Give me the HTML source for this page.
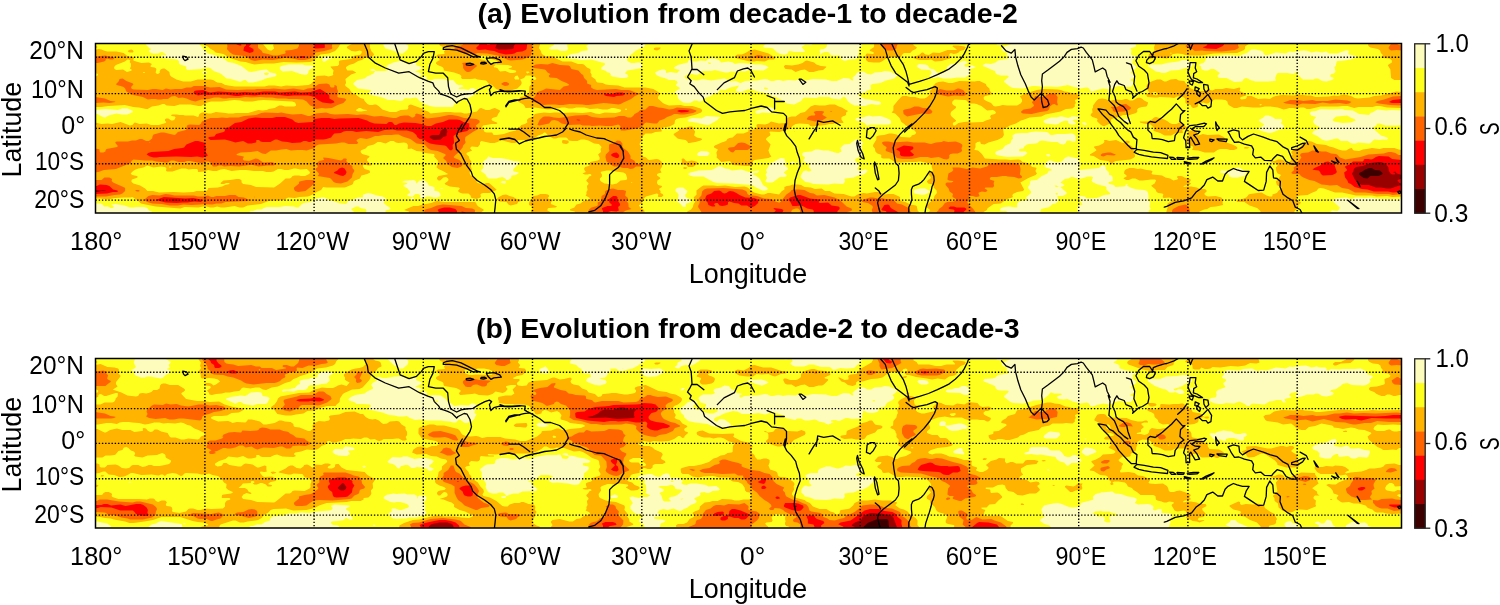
<!DOCTYPE html><html><head><meta charset="utf-8"><style>html,body{margin:0;padding:0;background:#fff;overflow:hidden}svg{display:block;will-change:transform}</style></head><body>
<svg width="1500" height="605" viewBox="0 0 1500 605">
<rect width="1500" height="605" fill="#fff"/>
<text transform="translate(477.55,23.30) scale(1.0342,1)" font-family="Liberation Sans" font-size="27.5" font-weight="bold">(a) Evolution from decade-1 to decade-2</text>
<text transform="translate(475.95,337.60) scale(1.0376,1)" font-family="Liberation Sans" font-size="27.5" font-weight="bold">(b) Evolution from decade-2 to decade-3</text>
<g transform="translate(0,0)">
<svg x="95.5" y="43.5" width="1306.0" height="169.5" viewBox="95.5 43.5 1306.0 169.5" overflow="hidden">
<rect x="95.5" y="43.5" width="1306.0" height="169.5" fill="#FFFF1E"/>
<rect x="95.5" y="43.5" width="1306.0" height="169.5" fill="#FEFCBC"/>
<path fill="#FFFF1E" fill-rule="evenodd" d="M351.1,208.9 354.4,212.6 354.4,213.4 365.6,213.4 366.4,211.1 366.4,209.9 365.6,209.1 360.4,207.9 358.4,206.4 356.1,206.4ZM410.6,198.4 412.4,197.4 413.1,197.6 414.1,199.1 413.1,199.9 411.6,199.9 410.6,199.1ZM1055.6,193.1 1055.9,194.6 1057.1,195.1 1057.9,193.4 1057.1,192.9ZM913.6,192.4 913.6,190.9 914.9,189.6 920.4,188.4 925.1,188.6 928.9,190.4 929.9,191.4 929.1,192.4 925.1,194.4 922.1,195.1 914.6,193.6ZM440.4,188.4 442.4,187.9 442.9,188.6 442.4,189.1 440.9,189.1ZM677.1,187.9 678.9,187.4 683.1,187.4 687.4,190.9 686.9,192.9 685.1,194.6 685.4,196.9 690.1,199.6 691.1,201.1 689.9,202.4 686.4,203.6 685.6,204.6 685.9,206.1 685.1,206.9 683.1,206.9 680.1,203.4 676.6,200.9 677.9,198.9 678.6,195.6 678.4,194.1 675.4,190.9 675.4,189.4ZM1054.6,185.4 1055.1,186.4 1056.4,186.9 1059.1,186.6 1056.4,185.4ZM500.6,181.9 502.6,181.1 505.4,181.1 505.9,182.6 505.1,183.4 501.4,182.9ZM402.6,181.9 403.6,181.1 413.9,180.1 416.1,181.4 416.1,183.1 416.6,183.4 419.6,180.6 424.6,180.6 427.1,182.6 428.9,185.4 433.9,186.9 434.9,188.1 434.1,190.4 438.4,191.6 440.1,193.4 440.6,195.4 439.9,196.4 437.1,197.4 433.6,197.6 429.6,196.6 426.6,196.6 423.1,198.4 420.4,198.1 419.9,196.9 420.6,195.4 418.4,193.9 415.4,194.1 412.1,196.9 408.1,196.1 407.1,194.9 407.9,193.9 409.9,192.9 410.1,192.1 407.6,188.6 403.4,185.9 403.9,184.9 407.1,184.1 407.4,183.6 406.1,182.6 403.1,182.4ZM1110.1,193.1 1106.6,189.9 1106.4,187.1 1105.9,186.6 1097.9,184.4 1092.4,181.9 1091.6,180.6 1093.1,177.4 1091.9,176.4 1087.9,176.4 1081.4,178.6 1076.6,178.4 1073.4,176.9 1070.9,177.1 1068.4,178.4 1064.9,179.1 1060.4,182.4 1064.4,185.1 1063.6,186.1 1060.4,187.1 1066.6,192.4 1066.6,194.1 1062.6,195.9 1057.9,196.1 1057.4,196.6 1058.1,199.6 1057.6,201.9 1055.6,203.4 1052.6,204.1 1049.4,207.1 1041.1,208.9 1040.4,210.6 1040.6,213.4 1078.1,213.4 1077.4,207.4 1078.4,206.1 1082.6,204.4 1080.4,201.4 1080.9,199.1 1078.6,197.6 1078.9,196.6 1080.9,196.1 1084.6,196.4 1085.6,197.1 1085.6,197.9 1088.4,198.6 1096.6,197.9 1099.9,197.1 1103.9,195.1 1109.4,194.6 1110.1,194.1ZM1246.4,174.1 1244.4,175.9 1237.6,177.4 1232.9,177.6 1230.1,177.1 1229.1,176.1 1228.6,174.1 1227.4,173.4 1220.9,172.9 1219.9,171.6 1221.9,170.4 1229.1,170.9 1235.4,167.9 1239.1,167.4 1243.9,170.4 1245.9,172.4ZM687.9,173.9 690.4,172.4 698.6,170.4 711.4,169.9 713.9,169.1 718.1,166.6 721.6,166.6 724.9,168.4 728.9,169.1 731.9,170.4 741.4,169.6 748.9,171.9 758.9,170.6 759.1,171.4 757.1,172.9 753.9,173.1 752.1,173.9 755.4,175.4 758.9,178.1 760.4,179.9 762.9,184.9 764.1,186.1 766.6,187.1 767.9,188.9 766.6,190.1 765.1,190.6 762.4,190.6 755.1,187.1 753.1,185.6 750.6,184.9 733.1,183.4 716.9,182.9 713.4,181.9 706.9,178.6 703.6,176.4 693.4,176.4 689.9,175.6ZM790.9,162.9 791.1,162.1 792.6,161.6 795.4,162.4 794.4,163.6 792.1,163.6ZM784.4,158.4 785.6,162.9 784.4,164.9 787.9,167.9 788.1,169.1 783.6,172.4 786.6,174.9 786.6,175.9 785.9,176.6 783.9,177.1 779.9,177.1 773.9,181.6 772.1,182.4 767.9,182.6 765.9,182.1 765.4,180.9 766.9,178.6 766.9,177.4 765.6,174.6 767.1,172.6 766.1,169.9 767.6,168.1 768.9,165.4 771.4,163.1 779.6,158.4 781.1,157.9ZM480.6,170.6 483.6,167.9 482.9,165.1 482.9,162.9 483.6,160.9 486.6,158.9 488.4,156.6 492.6,157.9 500.4,157.9 508.6,159.4 513.6,160.9 520.4,161.6 513.1,169.6 513.1,170.6 513.9,171.4 518.4,172.4 518.9,173.1 515.6,174.9 511.9,175.4 511.4,175.9 511.1,178.1 508.1,180.1 506.6,180.1 504.4,177.9 502.4,177.1 499.6,177.4 496.4,178.6 488.6,178.4 486.9,176.9 485.1,174.1 481.9,172.1ZM1046.1,154.9 1047.1,154.1 1049.9,154.6 1050.4,155.6 1049.1,156.4 1047.9,156.4ZM697.1,154.9 697.1,153.9 698.4,152.6 701.1,151.1 707.1,151.4 708.4,151.9 709.4,153.1 709.1,154.4 708.1,155.4 706.1,156.1 698.9,156.1ZM863.1,142.6 861.6,145.9 861.9,149.1 861.4,150.6 862.4,154.4 860.6,156.4 855.9,158.4 854.9,159.4 854.9,160.6 859.6,165.4 857.4,168.1 857.4,169.1 858.1,169.9 861.4,170.4 865.6,169.4 867.6,170.6 866.4,172.4 863.6,174.4 858.1,175.6 853.6,177.6 845.1,178.4 844.4,179.1 845.1,181.6 843.1,183.9 834.1,183.4 828.1,184.6 813.6,183.9 809.4,182.4 805.4,181.9 801.1,177.9 800.6,176.9 801.1,174.9 803.6,171.1 806.1,170.6 808.1,171.6 809.9,171.6 811.4,170.6 811.4,169.9 808.9,167.6 809.4,163.9 804.4,161.9 802.9,160.4 805.1,158.1 805.1,157.6 802.4,155.4 802.4,153.6 803.4,152.6 805.4,151.9 811.4,151.4 815.6,149.4 818.6,149.4 823.4,150.4 828.4,150.6 836.6,153.1 838.9,153.1 841.6,151.6 840.4,147.9 843.9,144.4 849.6,143.9 853.4,140.9 855.9,139.6 859.4,139.9ZM1075.6,135.9 1075.4,139.1 1075.9,140.1 1075.1,141.4 1072.1,141.6 1069.6,140.4 1067.4,140.6 1066.1,141.6 1065.9,143.1 1063.6,144.4 1060.4,144.1 1057.6,142.1 1052.1,142.1 1042.1,140.4 1039.6,140.9 1037.6,142.9 1035.9,143.6 1028.6,143.9 1027.1,144.4 1024.6,146.1 1023.4,148.4 1019.6,149.1 1018.9,149.9 1019.6,151.4 1025.6,151.6 1027.4,152.9 1025.9,154.6 1022.6,156.4 1007.1,156.9 996.4,154.9 995.1,153.4 995.9,151.6 1002.6,148.9 1005.4,145.6 1010.1,143.4 1010.9,142.6 1011.1,140.6 1013.1,138.4 1012.4,135.6 1015.6,133.4 1021.9,132.9 1027.6,133.1 1030.9,131.9 1036.1,131.4 1046.6,132.1 1048.9,133.1 1049.6,134.4 1050.9,135.1 1052.9,135.1 1057.4,133.9 1065.6,134.1 1071.1,133.6 1073.9,134.1ZM1082.1,123.1 1082.6,122.6 1085.4,122.6 1087.1,124.1 1086.1,125.1 1084.9,125.1 1082.6,124.1ZM1121.9,120.1 1124.1,118.9 1129.1,118.9 1131.1,119.9 1130.1,121.1 1127.4,122.4 1124.9,122.4ZM1043.6,121.9 1043.6,121.1 1044.6,120.1 1050.9,117.6 1056.6,117.4 1060.1,116.4 1062.1,116.4 1068.1,117.9 1071.9,116.6 1074.9,116.4 1078.6,117.1 1079.9,118.1 1078.1,119.4 1073.9,119.4 1072.4,120.4 1075.9,123.1 1075.9,123.6 1074.6,124.4 1071.1,124.4 1068.9,123.6 1068.1,122.6 1068.4,120.9 1065.4,120.6 1061.1,122.1 1058.1,124.1 1055.9,124.6 1045.9,123.6 1044.6,123.1ZM720.6,117.1 716.6,120.4 708.9,125.1 706.6,125.1 695.6,122.4 689.1,121.6 687.4,120.4 689.4,118.9 692.4,118.1 701.4,118.4 706.4,115.9ZM855.4,119.1 857.1,117.9 862.6,117.4 868.9,115.6 872.4,116.4 880.1,115.9 883.6,116.9 889.6,119.6 890.9,121.1 891.1,122.9 890.1,124.1 888.1,124.6 871.1,124.6 866.9,125.4 864.6,122.9 860.1,121.1 855.9,120.4ZM1332.4,120.1 1333.9,121.4 1342.6,122.9 1350.9,122.4 1355.6,120.6 1355.6,119.9 1354.4,118.9 1351.4,118.1 1347.1,115.6 1336.9,116.4 1335.4,117.1ZM1258.9,119.9 1262.9,117.9 1265.4,115.4 1268.4,115.4 1272.6,117.1 1275.1,118.9 1281.4,119.1 1282.1,119.9 1282.1,120.9 1281.1,122.4 1281.1,123.6 1283.1,125.1 1284.4,126.9 1282.1,128.6 1271.1,132.9 1268.6,133.1 1260.4,130.6 1258.1,129.1 1259.1,127.9 1262.4,126.6 1263.9,124.9 1263.9,123.9 1260.9,122.6 1258.9,120.6ZM774.1,109.1 774.1,110.4 773.1,111.4 769.6,112.9 762.4,112.4 759.4,113.4 756.4,113.4 754.9,112.1 755.6,111.1 761.4,109.1 764.9,108.9 769.1,106.9 771.9,107.4ZM1107.9,91.4 1108.9,90.4 1110.1,90.4 1110.9,91.1 1109.4,92.1ZM763.9,88.4 765.1,89.6 766.9,89.6 767.9,88.9 767.6,88.1 765.6,87.4 764.4,87.6ZM268.9,73.1 266.6,72.4 264.4,72.9 263.9,73.9 265.6,74.9 267.1,74.9 268.4,74.4ZM202.1,72.4 202.9,71.6 205.6,71.6 206.9,72.1 207.1,72.9 204.4,73.6 202.6,73.1ZM370.6,69.6 371.6,68.9 373.4,68.9 375.1,70.1 375.4,71.1 371.6,71.1 370.6,70.4ZM279.9,68.4 279.9,67.1 281.6,65.9 288.4,64.6 302.4,64.6 306.1,65.4 312.4,65.4 313.9,66.4 313.1,67.6 308.6,70.6 308.1,73.4 306.1,74.9 300.4,74.1 292.1,70.9 282.6,71.4 280.6,70.1ZM707.9,62.4 708.9,64.1 710.4,63.9 711.1,63.1 709.9,62.4ZM353.1,83.4 357.1,79.9 364.6,78.4 367.1,76.4 371.6,74.6 373.6,73.4 375.4,71.1 384.9,71.1 388.6,70.1 388.6,69.1 386.6,67.1 386.6,65.9 387.6,64.9 393.6,62.4 399.6,61.1 403.1,61.1 406.1,63.6 411.1,63.9 413.4,61.9 414.6,61.6 416.4,62.6 416.1,64.9 416.9,65.6 420.1,66.4 421.6,67.6 421.6,68.4 420.4,69.4 415.4,71.4 415.6,72.1 418.9,72.6 421.6,74.1 421.6,75.1 418.4,76.6 417.6,78.1 420.9,78.1 424.1,76.4 426.1,76.4 426.9,77.1 426.6,79.6 427.9,80.6 430.6,80.6 435.1,78.9 444.6,79.1 447.1,80.4 452.4,80.1 453.6,80.6 456.4,84.1 458.4,84.9 461.9,84.9 463.4,86.1 462.6,87.1 459.4,87.6 458.6,88.4 458.9,88.9 463.6,88.9 468.4,89.9 470.4,88.4 472.9,88.1 475.1,89.1 476.1,90.1 475.1,93.9 473.1,95.6 466.4,98.9 460.9,99.4 458.4,100.4 453.9,104.6 452.9,106.9 435.1,106.9 430.1,105.9 424.6,103.9 419.6,100.9 416.9,97.9 415.6,97.4 409.4,98.4 405.9,98.1 404.4,98.6 402.6,100.4 400.4,101.1 394.4,100.1 388.1,99.9 382.4,97.6 369.4,94.4 368.6,93.4 371.1,91.1 370.4,89.9 358.1,88.4 353.1,84.1ZM975.6,67.1 974.4,68.1 971.1,68.6 969.9,70.6 970.6,74.1 965.4,77.4 957.4,77.4 950.4,78.6 943.4,78.6 937.9,77.1 934.4,77.9 932.1,77.6 929.6,75.9 931.6,73.1 931.1,71.4 929.6,69.9 921.1,69.4 917.9,67.6 916.6,65.9 917.6,64.9 919.6,64.1 925.1,64.4 927.9,65.6 929.6,68.4 934.1,69.6 936.9,72.4 938.6,73.1 942.1,73.1 944.6,72.1 946.6,69.4 947.1,67.1 950.9,64.1 957.4,63.4 962.6,60.9 965.9,61.1 967.6,62.6 966.9,63.6 964.6,64.6 964.6,65.9 965.4,66.6 968.6,66.9 971.4,65.1ZM1192.4,64.9 1192.1,66.1 1190.9,67.1 1187.1,67.6 1178.9,70.1 1170.9,70.4 1165.1,73.1 1161.9,73.1 1159.4,72.1 1155.9,71.6 1147.9,66.1 1148.6,65.1 1150.4,64.6 1161.4,64.6 1166.9,62.9 1178.1,61.4 1182.6,60.1 1185.9,60.1 1188.4,60.9 1190.1,61.9 1191.9,63.6ZM654.9,72.6 658.9,70.6 662.4,69.6 664.4,69.6 665.9,70.6 665.9,72.4 666.6,73.1 670.4,72.1 676.4,73.1 677.6,72.6 679.9,69.9 675.4,69.1 674.1,68.4 674.1,67.6 677.9,65.1 687.9,62.6 688.6,59.9 689.9,59.9 693.4,61.6 696.9,61.6 700.6,60.6 706.1,61.1 707.9,59.1 713.9,58.6 718.9,60.1 721.1,62.4 728.4,61.6 732.9,62.6 734.9,64.1 739.4,63.1 742.4,63.1 755.4,64.6 761.1,64.6 765.6,65.6 768.6,67.4 763.4,70.4 749.6,69.9 744.6,71.6 739.9,71.1 737.9,72.1 730.6,71.6 728.1,72.4 725.1,72.4 714.9,70.1 711.1,70.9 703.4,70.9 700.4,71.9 698.9,74.1 697.1,74.9 692.4,73.9 688.9,73.9 684.9,75.9 684.6,76.9 685.1,77.9 686.6,79.1 691.9,79.6 695.1,80.6 698.1,80.6 702.4,79.1 711.1,80.6 724.4,78.6 726.9,79.4 729.6,81.4 735.9,80.9 739.9,83.1 740.9,83.1 745.4,80.9 757.1,80.6 764.9,79.1 767.6,79.4 770.6,80.9 773.9,80.9 777.1,79.9 779.6,79.9 783.1,80.9 788.1,79.9 795.4,80.6 797.9,79.4 805.9,80.4 813.1,79.1 825.6,79.4 831.6,81.1 836.9,81.1 843.6,77.9 849.4,78.6 851.9,80.4 853.1,80.4 853.4,79.1 852.6,78.4 852.6,77.4 855.1,75.4 857.4,72.6 859.1,71.9 863.4,71.6 867.4,74.1 871.1,74.6 874.6,72.4 881.9,72.1 884.4,70.9 890.1,71.6 894.4,74.1 896.9,74.6 897.4,75.4 894.1,78.4 885.9,80.4 880.4,82.9 872.4,83.9 870.6,85.1 870.4,86.1 871.1,88.9 870.4,89.6 867.1,90.4 865.1,91.9 859.9,93.4 858.4,94.4 858.4,95.1 859.4,96.1 864.4,98.9 869.4,99.4 873.1,100.6 877.1,100.9 879.6,101.6 881.1,102.9 880.1,104.4 876.6,104.9 871.9,103.9 869.1,104.4 865.1,106.1 860.6,106.1 857.4,105.4 854.4,105.4 852.4,104.6 849.1,102.6 847.6,101.1 846.1,97.9 844.9,97.1 842.9,97.1 840.1,99.4 831.9,98.6 829.4,97.1 818.9,96.9 816.1,97.9 804.6,97.4 802.9,98.4 801.1,101.1 794.1,104.4 787.1,103.6 785.9,103.1 783.4,100.6 778.4,98.6 776.1,96.9 771.4,95.9 769.1,94.1 765.9,92.9 755.9,90.9 751.6,88.9 747.4,89.4 741.6,91.9 736.6,91.4 735.4,90.4 738.4,87.1 738.9,85.4 730.1,87.6 725.1,89.9 719.6,89.4 719.1,91.4 717.9,92.6 714.4,93.6 709.6,96.4 705.6,97.4 704.4,99.1 702.1,100.9 698.9,101.4 696.9,100.6 694.4,100.6 690.1,102.9 686.1,103.1 683.1,102.4 679.6,99.9 677.9,98.1 677.4,94.6 674.9,92.4 675.4,91.4 679.9,88.4 679.6,87.4 677.4,86.6 675.9,85.1 677.6,82.4 676.9,80.9 674.6,79.9 669.1,79.9 664.6,77.9 660.4,77.1 656.4,74.9ZM321.9,59.9 324.1,57.1 325.6,56.6 329.4,56.6 331.9,57.6 331.4,58.4 328.9,59.1 325.1,61.4 323.4,61.4ZM1198.9,65.1 1199.6,63.9 1203.4,62.9 1204.9,61.4 1206.1,58.6 1207.1,57.6 1209.6,56.6 1226.4,55.1 1239.4,55.9 1243.9,53.9 1247.1,53.1 1249.9,50.6 1251.9,49.6 1255.4,49.6 1261.9,50.9 1263.4,51.9 1263.4,53.6 1264.9,54.9 1268.1,54.9 1275.9,52.4 1285.6,53.6 1289.6,51.6 1292.9,51.9 1297.6,50.9 1304.1,50.6 1307.9,50.9 1311.6,52.4 1316.4,51.6 1322.1,52.4 1326.1,51.6 1329.1,53.4 1337.4,53.4 1345.4,50.4 1348.1,50.4 1349.1,51.1 1348.1,53.4 1348.9,54.6 1355.4,55.9 1356.4,56.6 1355.9,57.6 1350.4,59.6 1341.1,61.1 1337.6,61.1 1336.6,61.6 1335.9,65.6 1334.4,67.6 1335.4,71.1 1335.1,72.4 1333.6,73.6 1331.4,74.1 1330.1,75.6 1330.6,76.9 1332.4,77.1 1333.4,78.1 1333.4,79.1 1331.9,80.1 1326.4,81.4 1322.1,81.1 1318.1,78.6 1315.6,78.6 1313.4,79.4 1302.9,79.6 1296.9,73.9 1299.1,72.6 1296.9,71.9 1295.1,72.4 1294.6,73.6 1293.1,74.1 1287.4,73.1 1278.1,72.9 1276.9,73.6 1275.1,77.9 1275.9,80.4 1274.4,81.1 1267.6,81.6 1255.4,81.4 1250.4,80.1 1247.9,78.4 1245.9,77.9 1243.6,78.9 1242.6,80.9 1241.6,81.6 1234.4,82.1 1226.6,77.9 1220.9,78.1 1218.4,77.4 1217.4,76.1 1219.9,72.9 1214.1,68.9 1210.6,69.1 1207.9,70.6 1204.6,70.4 1201.9,69.4 1200.9,68.1 1201.1,66.4ZM95.1,43.1 95.1,110.1 105.6,109.1 117.9,109.9 122.1,108.6 127.6,108.6 132.9,111.1 132.9,111.9 131.9,112.6 127.1,114.4 122.1,114.6 116.4,113.6 108.6,115.4 105.1,117.6 102.9,117.1 97.4,114.1 95.1,113.9 95.1,203.6 100.4,203.4 102.1,204.1 104.1,206.4 108.1,206.6 110.6,207.9 112.6,207.9 113.9,206.9 112.9,205.4 111.4,205.1 111.4,204.4 115.4,204.1 124.4,205.4 129.9,207.6 133.6,207.6 136.1,206.9 144.1,207.1 147.1,208.1 149.1,210.4 151.6,211.4 152.4,212.4 152.4,213.4 249.4,213.4 249.4,212.1 250.6,211.1 253.1,211.1 256.9,209.6 261.4,209.4 263.9,207.9 266.9,207.1 279.9,206.9 285.4,206.1 293.6,206.6 296.6,207.6 298.6,207.6 301.9,204.1 303.9,202.9 310.4,201.9 312.4,201.1 314.9,199.1 321.6,197.6 324.4,197.6 327.1,199.1 340.4,203.4 345.4,203.9 346.9,203.4 347.4,201.6 348.6,200.6 352.4,199.9 357.9,197.6 362.9,197.6 362.9,194.9 363.4,194.4 368.1,193.1 370.9,193.4 376.9,195.6 382.4,196.6 385.9,198.4 383.6,203.1 387.1,206.1 389.9,207.6 390.4,208.6 389.4,209.6 385.6,210.6 385.4,213.4 1007.4,213.4 1007.4,212.1 1006.1,211.1 1001.1,211.1 999.9,209.9 1001.1,208.1 1004.1,207.1 1008.9,206.6 1016.4,207.4 1017.4,206.4 1016.9,203.9 1018.4,201.9 1021.9,200.4 1026.9,199.9 1027.1,199.1 1026.1,197.6 1031.1,193.1 1031.1,191.6 1028.1,188.1 1028.1,186.9 1030.1,183.9 1029.9,181.6 1031.4,180.4 1036.9,180.1 1041.9,176.1 1047.4,173.6 1048.6,171.1 1051.6,170.4 1051.6,169.6 1050.6,168.9 1045.9,167.6 1044.6,166.6 1045.1,163.9 1046.1,162.6 1049.1,160.6 1050.9,160.6 1056.6,162.4 1059.9,162.1 1061.9,161.4 1064.9,157.9 1068.1,156.6 1077.9,158.6 1079.1,159.6 1079.9,166.4 1078.9,168.9 1079.9,169.9 1098.9,168.1 1102.4,165.1 1104.6,165.6 1105.6,166.9 1105.9,169.6 1109.1,172.4 1108.9,174.9 1111.6,175.6 1112.6,176.9 1112.9,180.9 1109.1,181.9 1108.1,183.1 1109.6,184.1 1113.9,184.9 1115.4,187.1 1123.9,186.6 1125.6,185.9 1125.6,184.4 1126.9,184.1 1127.6,184.6 1127.1,185.4 1127.4,186.1 1131.6,188.1 1136.6,189.4 1143.9,189.9 1146.9,191.1 1147.9,192.6 1148.6,195.9 1148.4,199.4 1150.1,203.1 1149.4,206.4 1150.6,208.9 1148.6,210.9 1149.1,213.4 1238.1,213.4 1238.9,212.4 1241.6,212.6 1241.9,213.4 1330.1,213.4 1330.4,211.9 1331.9,210.6 1337.4,210.9 1339.1,209.6 1339.9,207.6 1332.6,201.1 1332.6,200.1 1333.9,199.1 1338.9,197.9 1346.9,197.6 1350.4,198.9 1352.1,198.9 1355.1,197.6 1360.1,197.4 1364.6,198.1 1370.6,197.6 1376.1,198.6 1386.1,199.1 1401.9,199.1 1401.9,125.1 1397.6,125.6 1385.6,125.4 1379.6,123.6 1376.9,123.6 1376.4,125.4 1373.4,127.1 1373.1,128.4 1380.9,135.6 1387.1,137.6 1388.1,138.6 1387.1,139.4 1382.1,139.4 1380.1,139.9 1374.1,139.6 1370.6,142.9 1369.4,143.4 1358.4,142.4 1355.4,143.6 1352.6,143.6 1350.6,142.9 1347.9,140.9 1340.9,141.1 1338.1,138.6 1336.1,138.6 1326.4,141.1 1321.9,139.4 1317.4,136.1 1312.6,133.9 1312.4,132.9 1313.6,130.9 1319.9,128.6 1320.1,127.4 1314.9,124.4 1312.9,122.1 1313.1,120.9 1316.1,116.9 1311.1,115.4 1309.9,113.6 1309.9,112.9 1311.4,111.6 1315.9,110.9 1320.6,109.1 1332.6,109.4 1342.1,108.9 1344.6,109.9 1352.9,110.6 1359.1,114.1 1369.1,114.9 1370.4,112.9 1372.4,112.4 1377.4,109.4 1386.1,110.4 1391.9,109.9 1401.9,110.4 1401.9,43.1 1135.6,43.1 1136.1,46.1 1134.9,47.1 1130.9,47.9 1130.4,48.6 1131.4,50.1 1130.9,54.4 1132.4,55.4 1137.6,56.4 1138.1,57.1 1137.4,57.9 1134.1,58.6 1132.6,59.9 1132.9,62.1 1132.1,63.4 1136.4,66.6 1136.4,67.6 1135.1,69.1 1130.9,71.9 1130.9,72.9 1133.6,74.4 1135.1,76.4 1134.4,77.9 1130.4,79.6 1130.6,80.6 1134.6,82.1 1130.9,86.9 1126.1,86.9 1121.4,85.9 1117.9,85.9 1109.9,89.4 1103.1,88.6 1096.9,89.9 1092.6,91.4 1090.4,91.1 1089.1,88.6 1087.9,87.6 1085.9,87.4 1080.6,88.4 1073.9,87.1 1067.9,84.9 1057.1,87.1 1050.9,86.4 1041.1,86.6 1035.4,85.9 1032.1,86.1 1023.4,88.4 1013.1,88.1 1010.6,87.1 1004.1,81.9 1004.1,81.1 1008.6,77.1 1008.6,76.1 1006.9,75.4 1000.9,75.6 997.1,74.6 995.4,73.1 995.4,71.4 994.9,70.9 989.9,69.1 986.9,67.4 983.9,66.6 982.9,65.9 982.9,65.1 985.6,63.6 991.1,63.9 995.6,62.4 997.9,60.4 1008.4,58.4 1008.6,57.6 1006.9,56.1 1006.9,52.6 1002.9,50.9 1001.4,48.6 1003.6,46.9 1011.1,44.1 1011.4,43.1 1002.6,43.1 1002.6,43.6 1000.6,45.1 997.4,44.9 996.4,44.1 996.1,43.1 860.6,43.1 861.4,46.1 858.6,50.1 858.9,54.1 857.6,55.9 857.1,57.9 855.6,59.1 849.1,59.4 845.1,60.9 842.4,59.9 840.9,58.6 840.1,55.6 831.6,55.4 829.9,54.1 829.1,52.4 827.9,51.9 824.6,52.1 821.9,53.1 820.6,54.6 818.9,54.4 820.4,53.1 819.4,50.6 820.4,49.6 823.9,48.9 825.6,47.9 826.9,46.4 827.1,43.1 813.1,43.1 813.1,43.6 811.4,44.9 805.4,44.4 801.4,47.1 804.9,51.1 804.9,52.1 794.6,52.1 789.9,51.1 788.4,51.6 787.6,53.6 785.6,54.6 782.1,54.4 777.1,52.4 773.1,48.6 771.4,47.9 763.9,47.6 763.1,46.9 763.4,45.9 764.9,44.4 767.1,43.6 767.1,43.1 645.4,43.1 644.9,45.4 643.9,46.9 635.9,50.6 628.4,56.9 626.9,59.4 627.1,60.6 628.1,61.6 630.9,63.1 634.4,63.1 637.6,62.4 639.6,62.6 642.9,66.1 641.4,67.6 639.1,68.6 627.4,70.6 625.4,72.4 625.1,73.4 627.4,74.4 628.4,76.4 626.9,77.4 623.9,78.1 621.1,78.1 612.4,76.6 610.6,75.4 610.9,74.4 609.9,73.1 607.9,72.6 605.1,70.6 601.6,69.4 600.9,68.1 605.1,64.6 605.1,63.6 603.9,62.9 591.4,59.6 581.1,60.1 576.4,59.1 571.1,58.9 567.6,57.6 567.1,56.4 567.9,55.6 571.6,53.9 578.6,53.1 581.6,51.1 587.1,50.6 587.6,50.1 587.6,48.4 586.4,46.1 588.6,43.9 588.6,43.1 567.4,43.1 567.1,45.4 567.9,48.6 567.4,49.9 565.6,50.9 560.9,50.9 557.6,49.4 550.9,49.4 549.4,48.9 548.9,48.1 549.6,47.4 552.6,46.1 553.9,44.9 554.1,43.1 405.4,43.1 405.9,44.1 408.1,45.4 408.4,46.9 407.6,49.4 402.9,53.6 400.9,53.6 391.1,49.9 385.4,48.4 383.4,45.1 383.4,43.1 199.4,43.1 199.6,44.6 202.4,47.4 203.6,49.9 205.6,51.1 207.6,53.6 215.6,55.4 218.1,57.1 221.9,57.9 224.4,59.1 227.9,61.9 233.6,63.1 241.4,65.9 248.4,71.6 251.6,72.1 261.6,69.9 266.6,69.6 270.4,72.4 275.6,73.6 276.6,75.1 275.1,76.4 267.1,77.9 261.1,80.6 252.9,82.6 248.1,82.4 245.9,79.9 243.9,79.9 241.1,81.4 239.1,81.4 231.1,79.1 226.6,78.6 220.6,73.4 213.6,70.9 210.9,68.4 208.6,67.6 205.6,67.6 201.4,68.9 187.4,69.9 186.1,68.6 186.4,66.6 180.1,64.6 179.1,63.6 178.9,60.9 177.1,59.6 162.9,58.1 161.6,56.9 161.4,55.6 162.4,54.9 165.6,55.4 166.4,54.4 162.4,51.9 160.9,51.9 159.4,53.1 157.6,53.6 152.9,53.4 150.1,52.4 149.1,51.4 149.1,50.6 151.4,49.1 149.9,48.6 145.4,43.9 145.4,43.1Z"/>
<path fill="#FFB400" fill-rule="evenodd" d="M1226.4,213.4 1229.1,213.4 1228.6,212.4 1226.9,212.4ZM404.1,210.1 408.9,211.6 409.6,213.4 480.9,213.4 480.9,212.6 483.6,210.6 483.6,209.6 478.4,206.4 476.9,204.9 475.9,202.6 474.6,202.1 444.6,202.1 437.1,201.1 434.9,201.4 431.4,202.9 422.9,204.4 418.1,206.1 413.4,205.9ZM496.9,198.9 497.1,199.6 499.4,201.4 506.6,201.9 508.4,204.6 510.6,205.4 517.1,203.9 518.1,202.1 522.9,200.6 522.1,199.9 516.6,198.9 513.4,196.9 509.6,196.1 506.1,194.6 502.6,194.9 498.1,197.4ZM557.1,206.4 550.9,203.9 551.1,201.9 553.1,200.4 548.1,198.6 547.6,197.9 549.1,196.4 549.1,195.6 547.9,194.6 545.4,193.9 540.4,194.1 537.1,195.6 533.1,196.1 532.4,196.9 531.9,198.9 529.9,200.9 528.9,202.9 529.1,205.1 532.9,206.9 532.6,208.1 530.9,210.4 531.1,213.4 551.1,213.4 550.4,212.1 547.4,210.4 547.4,208.9 548.6,208.1 555.6,207.6ZM686.6,213.4 920.4,213.4 917.6,210.4 916.9,206.6 915.9,205.4 910.4,204.4 905.4,202.1 901.1,201.1 899.9,199.9 900.1,197.4 899.1,196.4 893.4,194.1 888.6,193.9 884.9,194.4 879.4,192.1 875.1,192.1 866.9,193.6 863.4,193.1 858.4,194.1 854.4,196.4 851.4,196.6 843.6,193.9 834.4,193.4 829.6,190.9 825.1,191.1 821.6,188.6 814.9,188.9 810.9,187.6 804.6,187.1 801.1,185.1 797.9,184.4 792.6,184.4 790.4,185.6 786.9,185.9 784.4,187.1 784.4,189.6 781.4,191.6 779.1,194.4 770.1,192.9 767.9,193.1 764.1,194.6 761.6,194.6 753.9,192.6 747.6,187.4 744.4,186.4 735.1,186.9 725.1,185.4 717.6,185.9 713.6,185.4 703.4,185.6 701.6,186.4 696.4,190.6 696.6,194.4 693.6,197.4 695.1,200.4 695.1,201.9 693.6,204.1 692.9,207.1 691.1,209.4 687.4,211.6ZM631.1,182.4 631.6,182.1 632.4,182.9 631.9,183.1ZM599.9,179.9 599.9,178.6 601.9,176.4 601.9,174.6 600.6,172.6 601.6,171.6 607.1,170.4 610.4,170.4 615.9,171.6 623.4,172.4 625.9,174.1 627.1,177.9 627.1,178.9 626.1,179.9 620.6,180.6 616.9,183.6 612.4,184.4 604.4,183.4 601.1,181.6ZM1124.4,170.9 1124.1,173.4 1126.6,175.6 1126.6,176.4 1123.6,177.9 1123.6,178.4 1126.1,179.9 1128.9,179.9 1132.1,178.6 1135.4,178.6 1139.4,180.6 1142.9,180.6 1151.1,179.4 1155.1,179.4 1156.1,180.4 1154.6,183.6 1151.4,185.6 1151.4,186.1 1155.6,189.6 1156.6,192.1 1158.4,192.9 1162.4,193.4 1163.4,194.4 1162.6,197.1 1163.6,197.9 1169.4,197.6 1173.1,199.1 1172.6,200.4 1167.6,203.6 1167.4,204.9 1167.9,206.4 1165.9,213.4 1198.4,213.4 1199.6,211.4 1204.1,209.6 1207.1,209.1 1210.6,206.9 1216.1,206.6 1223.1,204.9 1222.6,203.4 1222.9,199.6 1221.4,197.6 1215.6,196.1 1207.9,196.4 1205.6,195.6 1204.6,194.6 1204.4,193.4 1206.6,191.6 1206.6,190.6 1205.1,188.9 1199.9,189.1 1196.6,187.4 1191.1,186.4 1187.1,186.4 1183.6,187.1 1183.4,186.6 1184.9,185.6 1189.6,184.9 1191.1,183.6 1189.4,182.4 1190.9,180.1 1190.1,179.1 1184.4,177.4 1182.9,176.4 1180.9,175.9 1178.1,176.1 1177.1,176.6 1177.1,177.4 1178.1,178.4 1177.4,179.4 1173.4,180.4 1170.1,178.4 1165.4,177.4 1162.1,175.4 1152.6,174.6 1151.4,173.6 1152.6,171.4 1151.1,170.4 1146.6,170.1 1140.6,168.6 1137.9,168.9 1133.6,168.1 1129.4,168.1 1125.6,169.4ZM683.4,168.4 684.1,168.9 686.1,168.9 687.4,167.4 684.1,167.1 683.4,167.6ZM168.9,166.9 169.4,166.4 171.1,166.4 171.6,166.9 170.9,167.4 169.4,167.4ZM130.6,173.6 133.1,170.9 135.6,169.4 138.4,168.4 143.4,167.6 147.4,165.6 153.4,167.6 160.6,166.4 164.9,166.9 166.4,167.9 166.1,170.9 167.4,171.4 172.4,171.4 181.4,168.4 185.9,168.4 188.4,169.4 192.6,168.9 197.1,169.1 197.9,169.9 197.9,171.4 198.4,171.9 204.1,171.4 208.1,169.9 212.9,170.9 216.6,170.9 220.6,169.4 224.4,169.1 231.6,171.1 240.1,169.9 246.1,169.9 254.1,170.9 262.9,170.9 266.4,171.9 270.6,172.1 273.6,171.6 277.9,169.1 281.1,169.1 284.6,170.1 288.4,170.1 293.9,168.6 295.9,168.6 300.4,169.6 306.9,168.9 309.9,171.9 309.9,173.1 309.1,173.9 305.1,175.9 300.9,176.1 299.1,175.6 294.6,175.6 292.6,176.1 290.9,177.9 289.6,178.4 285.6,178.4 280.1,183.4 274.1,187.4 256.1,186.9 250.9,185.1 243.1,183.9 241.6,182.6 241.4,179.9 239.1,178.9 236.6,178.9 230.1,180.1 223.4,180.4 220.6,183.1 220.9,183.9 224.1,184.1 226.1,183.1 228.1,182.9 229.1,183.1 229.6,184.1 225.1,184.9 222.1,186.6 217.9,187.6 208.4,188.1 207.6,190.1 206.4,191.1 196.6,191.1 193.4,192.1 183.6,192.6 173.6,192.1 159.1,192.6 152.9,190.9 147.4,190.9 145.1,188.6 140.1,185.6 133.4,183.6 131.6,182.1 131.4,180.9 131.9,179.6 136.4,178.1 137.9,176.9 136.9,175.9 132.1,174.9ZM681.6,159.1 681.9,162.1 681.1,163.1 681.1,164.1 682.1,164.6 686.4,164.9 688.1,166.9 692.9,166.9 698.1,163.4 697.4,161.9 694.4,160.9 691.6,160.6 687.4,161.4 686.1,160.9 683.9,158.4 682.6,158.4ZM1244.1,148.4 1247.6,148.6 1249.6,147.6 1244.6,146.9ZM1240.9,144.4 1241.6,145.1 1242.6,145.1ZM1236.6,201.4 1237.6,201.9 1244.4,202.1 1249.6,205.4 1257.1,207.9 1260.4,211.1 1260.6,213.4 1293.9,213.4 1294.6,211.1 1297.9,208.1 1298.6,205.1 1300.9,203.1 1300.6,202.1 1298.4,201.1 1296.1,198.6 1296.1,197.6 1297.1,196.4 1300.1,195.4 1307.6,194.9 1311.4,192.9 1316.4,191.1 1318.4,188.6 1320.4,188.1 1323.9,188.6 1334.9,192.4 1342.1,192.4 1355.9,195.4 1371.9,195.4 1376.6,196.6 1387.1,196.1 1392.4,197.1 1401.9,196.4 1401.9,150.1 1398.6,149.6 1394.4,148.1 1383.4,148.1 1379.6,148.9 1372.1,147.9 1366.9,149.1 1362.9,149.4 1359.1,151.1 1353.9,150.6 1352.6,149.6 1351.9,148.1 1349.6,148.4 1346.1,150.4 1342.4,150.6 1338.4,149.6 1333.6,147.4 1329.4,146.6 1325.9,144.9 1316.9,143.9 1311.6,141.4 1307.6,141.1 1303.1,144.1 1299.9,147.4 1295.1,148.4 1291.1,152.1 1292.6,154.4 1291.1,156.9 1291.4,159.9 1287.9,163.6 1285.9,163.6 1283.9,160.6 1281.1,159.4 1278.1,159.4 1274.9,160.9 1269.9,161.6 1271.4,162.6 1276.4,163.1 1277.9,164.1 1277.6,165.6 1275.9,167.6 1276.4,171.1 1277.6,173.6 1280.4,174.6 1280.9,175.4 1279.4,177.1 1278.9,179.1 1275.9,181.4 1276.9,185.1 1278.4,186.1 1280.6,186.6 1281.6,187.6 1281.1,188.9 1279.1,190.1 1276.9,192.9 1272.4,194.4 1272.4,195.9 1271.9,196.4 1269.6,196.4 1266.6,195.4 1261.4,192.6 1250.1,193.9 1248.6,194.4 1247.6,196.1 1246.1,197.4 1242.4,199.1 1237.6,200.1ZM562.1,140.6 562.1,142.4 562.9,143.6 566.4,144.1 568.6,142.9 568.6,141.1 567.9,140.6 563.4,140.1ZM1089.9,154.6 1090.1,155.4 1093.6,156.1 1100.1,160.1 1108.4,161.1 1111.4,164.1 1112.4,164.1 1113.6,161.9 1115.9,160.9 1130.1,159.6 1133.4,158.1 1135.1,156.4 1134.9,154.9 1133.1,151.9 1134.1,149.1 1133.9,148.1 1130.9,145.4 1127.1,143.9 1129.6,142.6 1129.9,141.9 1129.1,141.1 1126.1,140.6 1124.4,142.6 1122.4,142.9 1116.1,140.1 1109.4,140.9 1106.4,139.9 1104.1,139.9 1104.4,141.9 1103.1,143.4 1099.1,145.4 1094.1,146.6 1094.1,147.6 1096.1,149.4 1096.4,150.4ZM793.9,131.1 794.9,131.4 794.9,130.9ZM1185.6,139.6 1187.9,144.1 1189.6,145.4 1192.1,146.1 1193.1,147.1 1193.1,148.1 1192.1,149.4 1192.4,150.1 1198.4,150.6 1204.6,152.4 1213.9,152.6 1217.4,150.1 1220.1,149.1 1226.9,148.9 1230.1,149.9 1233.9,149.9 1236.6,149.1 1237.6,148.1 1236.4,146.4 1232.4,144.4 1226.4,142.4 1225.4,141.4 1225.9,140.1 1225.6,138.9 1223.9,137.1 1218.9,134.4 1207.6,135.1 1202.9,134.1 1198.4,135.6 1196.6,134.6 1197.4,132.6 1196.6,131.1 1195.1,130.6 1190.6,130.6 1188.4,131.6 1187.9,132.4 1189.4,136.9ZM1167.6,130.4 1168.1,129.6 1169.6,129.9 1168.9,130.6ZM673.6,134.1 673.9,135.1 677.6,138.4 679.4,139.1 685.6,140.1 687.4,141.4 688.1,142.9 689.1,143.1 695.4,142.1 700.6,140.4 702.1,139.4 701.4,138.6 696.9,137.4 694.1,135.6 695.1,131.6 693.4,129.1 693.1,127.1 691.9,126.6 689.4,126.6 683.9,128.4 678.9,128.9 678.6,129.6 679.1,130.4ZM1139.6,121.6 1140.1,122.4 1143.6,123.6 1150.6,124.6 1153.6,127.4 1153.9,128.9 1153.4,130.6 1153.9,131.1 1160.1,132.9 1164.6,135.6 1171.1,135.6 1175.9,133.1 1182.4,133.1 1183.1,132.1 1182.1,131.1 1182.1,130.4 1187.6,127.4 1183.6,125.1 1181.9,122.4 1179.6,122.4 1176.1,124.1 1172.1,124.1 1169.6,123.1 1167.9,121.4 1164.4,119.4 1156.1,116.9 1154.1,117.4 1151.9,119.4 1147.4,121.4ZM624.6,109.1 626.4,108.6 627.1,109.4 625.9,109.9ZM355.9,110.1 358.9,108.1 360.4,108.1 363.4,109.4 366.9,109.9 367.1,110.6 361.4,111.6 358.1,111.6 356.6,111.1ZM1259.4,104.6 1261.1,104.1 1261.9,105.1 1259.9,105.4ZM848.1,110.9 845.9,110.1 841.9,107.4 838.9,106.6 834.9,104.4 829.6,104.4 825.1,105.6 819.4,105.6 814.6,104.9 810.6,106.4 804.9,111.9 800.4,112.9 795.6,116.4 791.4,116.6 788.1,117.6 787.1,118.6 786.1,122.4 785.1,123.1 778.9,123.4 771.1,121.6 768.4,123.6 765.1,124.6 757.9,123.9 756.4,124.9 756.9,127.4 755.4,128.9 753.6,129.4 748.4,129.4 748.4,131.4 743.6,133.6 736.9,133.4 732.6,137.4 729.4,137.9 727.4,138.9 726.1,141.1 721.6,142.4 714.9,145.4 713.9,146.4 714.1,147.4 717.9,149.4 716.4,152.4 716.9,155.4 716.6,157.6 721.4,161.9 729.9,161.1 731.1,162.4 731.1,164.1 732.9,165.1 746.1,166.1 751.4,165.9 752.9,164.6 752.9,161.1 754.6,159.9 768.4,157.9 771.4,156.4 769.9,154.4 768.4,150.6 770.6,144.4 765.9,139.6 766.6,138.1 770.1,135.4 770.4,133.9 769.4,132.6 769.9,131.6 779.4,131.9 787.9,129.6 791.1,128.1 792.4,125.9 795.6,124.1 799.6,123.4 808.1,123.9 809.6,124.9 810.1,126.1 812.6,126.4 825.4,125.1 829.4,123.9 832.9,123.9 835.9,122.9 842.9,123.1 843.6,122.4 841.4,119.4 841.4,117.6 842.6,116.4 845.4,115.4 846.1,114.6 846.1,112.4ZM950.6,114.9 950.6,112.9 951.4,111.6 955.9,107.9 955.9,106.6 953.1,104.9 952.1,103.6 952.4,101.6 954.6,99.6 965.4,99.9 966.6,100.4 969.1,103.6 974.1,103.4 976.6,103.9 981.4,105.9 987.1,110.4 992.9,110.1 994.9,111.1 995.9,112.4 995.9,113.1 994.9,114.1 991.1,115.1 990.1,116.6 991.1,118.4 990.6,119.1 985.9,120.4 982.9,122.1 970.9,122.6 969.6,121.6 964.1,121.9 958.4,122.9 955.1,125.6 953.6,125.4 952.6,123.9 953.4,122.6 955.6,121.6 956.1,120.6 951.6,116.6ZM1148.1,102.4 1144.1,100.6 1141.9,98.6 1139.4,97.6 1137.1,97.9 1132.9,100.4 1129.9,100.4 1126.9,99.1 1125.1,99.1 1121.9,100.1 1115.1,99.6 1111.4,100.6 1109.1,100.6 1105.4,98.9 1102.1,98.6 1098.6,99.1 1096.4,100.9 1093.1,105.4 1093.1,107.6 1092.1,109.1 1092.6,112.4 1090.9,113.9 1090.6,115.4 1092.4,116.9 1097.1,118.4 1097.6,119.4 1096.9,121.1 1100.4,124.6 1102.9,125.9 1104.6,125.9 1110.1,123.6 1111.4,122.1 1110.9,120.6 1111.1,119.4 1112.9,118.4 1118.9,116.9 1122.9,114.9 1129.6,114.9 1136.1,113.1 1137.4,111.6 1137.1,109.6 1138.6,108.1 1141.9,106.9 1146.4,106.4 1147.4,105.1ZM1151.6,93.1 1153.1,92.4 1155.6,92.1 1157.1,92.9 1157.6,94.4 1156.1,95.4 1154.1,95.1 1152.1,94.1ZM1078.4,93.4 1071.6,93.1 1068.6,91.9 1064.6,91.6 1060.9,90.1 1057.4,89.6 1044.1,89.1 1036.9,90.1 1025.4,93.4 1020.4,95.9 1019.9,96.6 1022.1,99.6 1022.1,101.4 1020.6,103.4 1017.1,105.4 1007.1,105.6 1002.6,105.1 999.1,106.1 995.1,106.4 993.6,105.9 991.1,102.9 986.4,101.1 983.9,99.4 983.6,97.6 984.9,96.1 990.1,95.1 991.4,93.9 991.4,92.4 989.9,90.9 989.4,88.6 986.6,85.9 985.9,84.1 979.6,81.1 977.4,80.9 974.6,81.6 959.4,81.1 952.4,82.9 948.6,82.9 943.1,81.6 938.6,81.9 935.9,83.1 932.6,86.6 932.1,88.9 929.6,91.1 929.9,94.4 926.6,97.4 924.4,98.4 920.1,98.4 914.9,97.1 910.4,97.1 906.6,96.1 902.9,96.1 901.6,96.6 897.9,100.4 893.4,106.1 893.4,110.4 891.6,112.4 895.1,113.4 899.6,118.1 901.4,121.9 904.4,123.9 905.6,125.4 910.1,127.1 912.1,129.4 914.6,130.6 916.1,132.4 916.1,133.1 914.9,134.4 911.6,135.4 911.4,136.6 909.9,137.6 901.1,137.1 896.6,134.6 892.1,133.6 889.1,133.6 884.1,134.9 878.9,135.4 876.4,136.6 876.4,139.4 873.1,145.1 873.1,146.4 874.9,148.6 875.4,151.4 877.4,153.4 880.6,154.6 881.4,155.4 881.1,157.6 882.9,158.6 889.4,158.6 894.9,161.9 897.6,162.6 902.4,162.6 907.1,161.9 915.6,162.1 920.1,161.4 930.1,163.6 931.9,164.6 931.6,166.6 932.9,170.4 931.9,171.6 928.4,173.4 928.4,174.1 931.1,177.6 930.1,178.9 927.9,180.1 926.9,181.6 928.1,183.4 932.6,184.4 933.6,185.4 933.6,187.4 936.6,190.4 936.9,193.1 934.4,195.9 933.9,198.6 929.1,203.1 925.6,205.4 925.9,206.6 930.1,210.1 930.1,210.9 927.6,212.4 927.1,213.4 983.1,213.4 983.6,212.1 986.9,210.1 987.4,208.6 988.6,207.4 993.6,204.1 1000.6,203.4 1007.1,198.9 1012.1,197.6 1012.9,196.9 1012.4,195.4 1012.9,193.9 1017.1,192.1 1023.1,191.1 1024.1,189.6 1020.4,182.6 1028.4,177.9 1035.6,175.1 1036.9,173.6 1035.4,170.9 1036.6,168.1 1035.4,167.4 1032.1,166.9 1029.6,164.1 1027.9,163.1 1022.4,161.9 1020.4,160.1 1018.4,159.6 1010.4,160.1 1006.1,159.4 999.1,159.6 984.9,158.4 981.9,154.1 978.1,150.4 974.9,149.9 974.4,149.4 975.6,147.1 975.4,143.4 977.4,141.9 980.1,141.6 980.9,143.9 984.6,144.4 988.4,142.4 997.4,139.9 1002.4,137.4 1003.9,134.9 1003.1,129.6 1004.4,128.1 1006.6,127.6 1009.9,125.4 1015.9,123.4 1020.9,120.4 1022.9,120.1 1029.6,117.6 1041.4,116.6 1045.4,114.4 1060.6,111.4 1065.9,108.9 1072.4,108.6 1074.9,106.6 1074.6,104.6 1075.9,102.9 1074.9,100.6 1075.9,99.6 1080.1,98.4 1079.9,97.1 1077.4,94.9ZM1146.4,86.4 1146.4,88.6 1149.1,91.9 1149.1,92.4 1146.4,94.6 1146.6,96.1 1147.6,96.9 1153.9,97.6 1157.9,97.6 1159.4,97.1 1170.6,97.4 1174.1,98.1 1177.1,96.4 1180.6,96.4 1183.9,97.6 1185.4,99.1 1185.4,102.6 1185.9,103.4 1190.6,105.1 1191.6,107.1 1193.1,107.9 1195.9,107.6 1197.9,106.4 1197.9,104.6 1200.4,102.9 1203.6,102.4 1205.9,103.6 1207.9,103.6 1211.4,100.9 1214.9,99.4 1221.4,99.4 1225.4,100.1 1227.4,101.6 1227.9,103.9 1229.4,105.6 1233.9,108.1 1236.9,108.1 1241.9,106.4 1252.6,107.6 1259.9,107.6 1264.9,106.4 1270.4,106.4 1277.9,107.4 1283.6,109.4 1286.1,109.1 1289.4,107.9 1293.1,107.9 1295.1,108.6 1297.4,108.6 1300.1,107.6 1303.9,107.6 1306.9,109.1 1309.9,109.1 1320.6,106.6 1337.9,106.6 1342.9,105.9 1347.6,106.1 1354.1,107.9 1358.6,107.1 1372.6,107.1 1376.1,106.1 1379.9,106.1 1387.1,107.6 1401.9,107.9 1401.9,91.9 1396.1,91.6 1381.1,95.6 1374.1,96.1 1369.6,97.6 1357.9,98.4 1354.6,98.1 1351.1,95.9 1343.9,94.6 1337.9,95.9 1334.1,95.6 1328.9,96.6 1315.6,96.9 1310.9,95.6 1306.9,95.6 1298.9,94.4 1293.9,95.4 1281.9,95.1 1275.9,95.9 1272.9,96.9 1269.9,99.1 1264.6,98.6 1258.1,99.1 1251.4,95.9 1246.9,95.9 1246.6,97.9 1245.4,99.1 1241.6,99.6 1240.6,99.1 1239.9,97.9 1241.1,96.9 1245.9,95.6 1246.1,95.1 1245.1,93.6 1239.6,90.9 1240.4,88.1 1239.1,87.4 1233.9,88.9 1226.1,88.1 1222.4,89.1 1215.4,88.9 1212.4,90.4 1209.9,90.1 1207.9,89.1 1206.4,90.4 1204.1,90.9 1196.6,90.9 1190.1,87.9 1188.6,85.4 1185.4,83.1 1184.4,80.9 1178.9,80.6 1176.1,79.1 1170.6,79.4 1166.1,81.6 1164.1,81.6 1160.9,79.6 1156.9,79.6 1148.9,82.6 1147.4,83.9ZM514.4,77.4 515.4,76.1 517.6,75.6 519.4,79.1 518.9,79.6 515.1,79.4 514.4,78.6ZM143.1,72.1 144.4,71.9 144.9,72.9 143.6,73.1ZM526.1,72.1 526.6,71.6 528.6,71.6 529.6,72.6 527.1,73.4ZM493.6,66.6 496.1,64.6 507.9,64.9 511.4,65.9 512.1,66.6 511.6,67.4 508.6,68.4 508.4,69.1 515.6,70.4 516.4,71.4 515.4,72.4 512.9,73.1 510.1,72.9 505.4,70.9 500.1,71.4 498.9,70.6 497.9,68.4 495.9,67.4 494.4,67.4ZM903.1,62.4 903.6,62.9 904.9,62.6 904.6,62.1ZM826.4,67.1 826.1,66.4 820.9,66.1 816.4,64.4 814.1,62.6 806.9,60.6 805.1,60.9 802.6,62.9 798.1,64.6 791.9,65.4 785.4,65.1 784.6,65.4 783.9,66.6 784.9,68.6 785.9,69.1 791.6,69.6 795.6,71.9 801.1,69.9 804.9,69.4 809.1,72.1 813.4,72.1 818.6,70.4 823.1,70.1ZM130.4,60.4 129.6,61.9 130.9,63.6 130.9,66.4 129.9,68.6 131.6,69.6 131.6,70.4 130.6,71.1 126.9,71.9 123.1,69.4 116.4,69.9 114.4,68.9 114.1,66.9 115.9,64.9 124.9,61.6 127.4,59.4 128.6,59.4ZM478.6,57.4 479.6,56.4 482.6,55.4 487.4,55.9 489.9,56.9 491.6,59.1 497.6,61.1 498.1,62.4 495.9,64.4 488.9,63.1 487.1,60.9 480.1,58.9ZM1169.9,52.9 1171.1,52.6 1171.9,53.6 1170.1,53.6ZM127.9,51.1 128.4,51.9 129.9,52.4 132.9,52.4 133.6,51.4 132.6,50.1 131.4,49.6 129.1,49.9ZM734.6,56.4 735.1,57.4 737.1,58.4 749.9,61.6 754.4,61.6 756.4,60.9 764.9,61.4 768.9,59.4 773.9,59.4 775.1,58.6 775.1,57.9 774.1,56.9 768.6,53.4 754.9,49.4 750.4,49.9 745.4,53.1 741.9,54.4 737.4,54.6ZM653.6,48.9 654.6,50.1 657.1,50.4 660.1,48.9 660.6,47.6 655.9,47.4 654.1,47.9ZM95.1,46.1 95.1,47.9 97.4,47.6 97.4,46.6ZM965.9,47.6 964.4,46.6 958.4,45.4 953.4,45.4 952.4,45.9 952.6,46.6 956.9,49.6 956.1,50.1 947.6,50.1 939.4,52.9 932.9,52.6 928.9,54.9 925.4,54.4 923.1,52.6 921.9,52.6 919.1,54.9 912.9,56.9 912.6,57.4 915.4,58.9 919.9,59.9 928.1,60.1 931.1,59.6 934.9,61.4 941.6,60.9 949.9,58.4 950.4,57.9 949.4,55.6 949.4,53.9 950.9,53.1 953.6,53.9 956.4,53.6 958.6,52.4 959.9,50.9 963.9,49.9ZM1367.9,43.1 1368.4,45.9 1370.4,47.6 1377.9,49.1 1380.1,50.6 1380.9,53.1 1382.9,55.1 1381.6,57.1 1382.1,57.9 1389.4,58.6 1391.9,60.6 1391.9,62.4 1388.6,64.4 1387.9,65.4 1390.4,69.4 1391.1,78.1 1394.4,80.1 1401.9,79.9 1401.9,43.1ZM1148.6,54.9 1149.9,58.9 1156.4,57.6 1166.9,58.6 1169.4,57.6 1172.9,54.1 1177.6,53.6 1182.4,53.9 1185.4,54.9 1190.1,55.4 1201.9,55.4 1213.6,53.6 1237.1,52.9 1244.1,49.9 1245.1,48.6 1245.1,46.4 1248.6,43.9 1248.6,43.1 1155.4,43.1 1154.1,47.1 1154.4,51.1 1152.9,52.4 1149.6,53.6ZM865.4,58.1 866.4,60.4 868.4,62.1 873.6,62.6 879.4,62.4 881.9,61.6 885.4,59.1 888.9,57.6 893.1,56.9 900.6,56.9 903.1,53.4 904.6,52.9 910.1,52.9 912.6,50.6 915.9,49.1 916.9,47.6 913.4,45.1 913.1,43.1 874.1,43.1 874.1,47.1 869.6,49.9 870.1,51.1 873.1,52.1 874.1,53.1 872.9,53.9 867.1,53.6 866.1,54.1 865.4,55.9ZM95.1,198.4 100.6,198.4 107.4,199.4 114.9,198.1 124.6,197.4 130.4,197.6 132.4,197.1 138.4,200.9 140.9,203.4 155.6,206.6 180.4,208.6 184.6,207.1 198.4,207.4 203.1,206.6 206.6,206.6 210.1,207.4 213.6,207.4 217.1,206.6 220.9,207.4 224.6,207.4 234.6,206.1 239.4,207.4 243.1,207.4 247.6,205.4 260.9,203.9 268.6,201.1 283.6,200.1 288.1,197.6 294.9,198.1 299.6,196.9 307.9,196.6 310.6,195.6 317.6,191.4 321.1,189.9 323.1,187.1 326.6,187.6 344.9,187.4 352.4,184.4 353.1,183.6 353.6,181.6 354.9,180.4 359.9,178.4 361.4,175.4 367.1,174.1 370.1,172.4 369.6,170.4 364.6,169.1 362.9,166.4 362.9,165.6 364.4,164.6 368.1,165.4 371.1,165.4 371.6,164.9 366.9,160.4 367.1,158.9 369.4,156.9 369.4,155.9 362.1,154.1 360.6,152.1 360.9,150.6 362.9,149.4 365.6,148.6 367.9,145.9 373.9,144.4 377.6,142.1 380.4,142.1 385.6,143.6 390.4,141.1 393.6,140.9 395.9,142.4 398.6,143.1 403.9,142.6 406.4,143.1 407.9,144.9 407.6,148.4 408.1,148.9 411.4,148.6 416.6,151.1 421.4,151.6 425.1,153.1 433.9,154.1 434.6,154.9 434.1,156.6 438.1,161.1 437.6,164.9 436.6,166.4 436.6,167.6 438.4,169.1 442.9,170.9 448.1,173.9 446.9,174.6 438.6,176.1 436.9,178.1 437.4,179.6 438.6,180.4 440.1,180.4 443.4,177.4 446.1,177.1 448.1,178.6 448.6,180.1 447.4,181.6 444.6,183.4 445.4,184.4 449.9,186.4 458.9,187.6 459.9,188.6 457.9,190.9 459.6,192.6 462.4,193.6 468.4,193.6 470.6,195.4 471.1,197.4 471.9,198.1 476.6,198.9 480.4,197.6 480.9,196.6 480.4,194.4 481.4,193.4 483.4,192.9 489.4,192.9 496.4,189.9 496.4,189.4 489.1,183.1 486.4,182.9 483.6,184.1 481.6,184.1 477.6,182.9 476.6,182.1 476.9,179.9 476.1,178.4 470.1,175.1 469.6,172.6 471.9,169.4 470.9,166.6 471.4,161.4 469.4,158.9 468.9,156.6 466.6,154.6 466.4,152.9 472.1,150.6 470.1,148.6 470.9,146.9 471.9,146.4 477.9,146.9 479.9,144.6 480.1,141.9 481.4,141.1 490.4,142.9 494.4,142.9 497.6,142.1 500.4,140.6 502.6,140.4 511.6,143.1 514.9,143.1 516.4,142.6 518.4,139.9 527.9,139.9 534.6,137.9 538.1,135.6 542.4,133.9 544.1,132.4 545.4,132.4 548.6,135.9 553.4,138.6 556.1,138.6 558.9,137.6 565.9,137.6 567.1,138.1 568.9,140.4 572.6,140.9 577.4,140.9 580.9,139.4 584.4,139.4 588.4,140.6 594.1,143.4 598.9,144.1 601.6,147.1 600.6,148.9 600.9,151.9 598.1,154.6 599.6,157.6 599.6,159.4 597.6,160.6 590.1,161.9 589.9,165.1 588.6,166.1 585.1,167.1 584.1,168.4 584.4,169.9 585.9,172.1 582.4,173.6 584.9,174.6 587.9,174.6 589.1,173.9 590.4,173.9 591.6,174.9 590.9,175.9 589.1,176.4 588.1,178.4 586.4,179.9 586.4,180.9 588.4,182.9 588.6,183.9 586.9,185.9 587.6,189.9 586.4,191.9 586.6,193.9 585.6,195.6 589.1,197.4 589.9,198.6 588.4,199.9 583.4,201.1 580.6,203.4 576.4,204.6 574.4,207.6 570.6,208.9 569.9,209.6 570.1,210.4 574.6,211.6 575.6,213.4 644.9,213.4 644.1,209.9 640.4,207.4 638.9,205.4 642.9,201.4 643.4,199.1 645.9,196.6 656.6,193.6 658.4,194.1 657.9,196.6 658.6,197.1 661.6,196.9 663.4,195.6 662.6,193.9 660.4,192.9 660.6,191.1 659.1,189.6 659.4,188.6 661.4,187.4 662.1,186.1 658.1,184.9 656.9,182.9 657.4,180.6 660.4,178.6 659.9,177.6 657.1,175.6 656.9,174.6 657.9,173.6 661.6,172.4 660.4,170.4 660.4,169.1 661.9,167.1 662.4,163.4 661.4,161.4 658.9,159.4 656.6,159.1 649.4,160.1 647.9,159.6 646.1,157.6 642.9,156.6 640.6,155.1 643.1,152.4 640.9,149.9 640.9,146.4 639.6,144.6 639.9,143.1 641.9,140.9 641.1,138.4 641.4,137.4 645.6,133.6 651.4,133.6 655.4,131.9 661.4,131.4 661.9,130.9 660.9,129.1 661.4,128.1 663.1,127.4 669.6,126.4 673.6,124.6 674.6,123.4 674.9,120.4 676.4,118.9 680.4,117.9 685.6,117.6 690.4,115.9 696.1,114.6 701.1,112.4 702.1,111.1 702.1,110.1 700.6,108.6 692.4,106.1 684.6,105.9 680.6,104.9 668.9,105.4 664.6,104.1 662.9,103.1 657.9,98.4 658.1,96.6 660.6,93.4 653.4,89.1 645.4,87.6 624.6,87.6 618.4,85.6 609.1,85.1 605.9,84.4 602.6,82.9 597.4,82.4 595.9,81.1 595.6,79.4 591.4,76.4 591.6,74.6 590.4,72.4 590.6,69.9 590.1,69.1 586.9,67.4 583.9,64.6 582.1,64.1 577.9,64.1 571.4,61.6 562.6,61.6 556.1,58.6 552.4,56.1 546.1,56.4 543.1,54.9 541.6,53.4 540.9,50.9 538.9,48.1 540.4,43.1 439.1,43.1 439.4,44.9 440.6,46.1 444.4,47.6 445.4,48.6 445.4,49.9 443.9,51.4 444.6,53.1 444.4,53.9 437.9,54.4 436.6,55.4 436.4,56.4 438.6,58.1 439.9,59.9 436.4,61.9 435.9,63.4 437.6,64.9 442.4,66.9 443.4,67.9 443.9,70.6 454.1,72.6 459.9,74.6 461.4,75.9 461.1,78.1 462.4,79.1 470.9,79.1 475.1,78.4 477.6,79.6 485.6,80.6 486.6,81.1 488.6,83.6 492.1,85.1 496.1,88.9 504.6,91.9 507.6,91.9 512.1,89.9 517.4,88.6 520.9,85.1 521.6,83.4 521.6,81.9 520.1,79.6 524.1,77.9 525.9,75.6 530.1,75.4 533.9,76.1 536.1,77.9 536.4,78.9 535.1,80.1 531.4,80.1 530.4,80.6 531.4,83.9 529.4,86.4 529.1,92.4 525.4,95.9 520.6,96.9 517.6,100.1 517.9,101.6 523.4,104.6 524.6,105.9 525.1,107.4 526.4,108.1 535.1,107.6 547.4,109.4 554.6,109.1 562.1,107.4 564.9,107.4 568.4,108.4 572.6,108.4 576.4,107.6 584.4,107.6 589.9,109.1 597.6,108.4 602.6,109.4 607.6,109.4 611.6,108.1 613.9,108.1 620.4,109.6 621.1,110.1 621.1,110.9 619.9,111.9 615.6,112.9 604.9,112.6 599.6,113.9 595.4,113.6 590.9,111.9 582.4,112.9 572.6,112.6 561.4,113.1 558.6,112.4 554.1,112.4 550.1,113.1 544.1,112.6 537.1,113.4 534.9,114.1 532.4,117.1 528.9,118.1 526.9,119.9 527.4,122.4 524.9,124.1 521.4,125.1 519.6,127.1 518.1,127.9 515.9,130.6 509.4,131.9 503.9,134.1 496.9,135.1 493.6,134.9 492.1,132.6 486.6,132.6 484.6,131.9 482.1,127.1 483.1,125.6 491.9,124.1 496.1,124.1 497.4,123.6 496.9,122.4 492.9,120.9 491.6,119.9 491.6,118.9 492.4,118.1 497.1,116.4 498.1,113.9 499.9,111.6 499.9,110.6 499.1,109.9 494.9,108.1 492.9,108.4 489.4,110.1 485.9,110.1 481.1,107.9 479.4,108.6 476.9,111.4 466.9,113.6 464.1,113.6 461.1,112.6 454.6,112.6 450.4,111.9 445.4,111.9 430.6,113.4 428.1,111.4 425.1,110.4 421.9,108.4 410.9,104.6 409.1,105.1 408.1,106.1 408.4,108.1 407.4,109.4 400.6,110.1 396.1,112.1 389.9,111.9 382.4,109.6 378.6,105.9 376.1,104.6 374.4,104.4 372.6,105.1 369.6,105.1 367.4,103.9 364.6,101.1 363.9,98.9 360.4,98.1 355.6,94.4 352.4,93.1 350.9,91.6 349.4,88.9 345.4,86.1 345.1,84.4 346.1,82.9 345.4,79.1 351.1,74.4 355.4,73.1 356.1,72.4 352.6,70.6 347.4,70.4 346.1,68.4 346.1,67.1 349.1,64.9 354.1,63.6 358.1,61.1 361.9,59.9 364.6,57.9 370.4,57.1 372.9,56.1 373.9,55.1 373.6,53.4 371.6,51.4 369.9,47.4 369.9,43.1 352.4,43.1 351.9,44.1 347.9,46.1 346.9,47.1 346.9,48.1 351.6,51.1 355.6,51.6 359.6,50.4 361.4,50.9 361.9,52.1 361.1,53.9 359.6,54.9 354.6,55.4 352.6,57.1 352.1,58.4 350.9,59.1 339.9,60.4 338.9,61.6 339.1,64.6 337.6,66.1 330.6,66.4 330.6,67.1 333.6,70.6 332.9,73.4 333.4,74.6 332.4,75.6 328.6,76.4 324.6,75.6 316.9,76.1 315.6,77.1 315.1,79.9 313.1,81.4 310.9,84.1 308.4,85.1 296.1,85.9 286.1,85.4 281.1,86.4 274.6,85.6 268.4,85.6 264.6,86.6 234.9,86.4 225.1,84.9 221.6,83.1 217.1,82.4 213.1,79.9 210.6,79.4 197.6,79.4 190.9,81.4 183.1,81.4 176.4,79.6 171.1,76.6 169.9,75.1 169.4,71.9 164.6,68.6 162.9,68.6 160.6,69.6 159.6,71.4 159.9,72.6 158.9,73.6 157.6,73.9 156.4,73.4 155.6,72.4 156.4,69.6 156.1,68.6 154.6,67.6 150.9,66.9 150.4,65.9 151.9,63.9 148.9,62.6 141.4,63.1 134.4,61.1 132.9,60.1 134.1,58.4 133.4,56.9 127.4,55.9 123.6,52.9 116.4,51.4 107.4,51.6 105.1,51.1 101.6,49.4 98.6,49.1 95.1,49.9 95.1,73.4 97.1,73.6 98.1,74.6 97.1,76.1 95.1,76.4 95.1,106.9 100.9,107.1 108.4,105.9 124.9,105.1 133.4,106.9 139.1,107.4 146.1,109.1 147.6,108.9 151.9,106.4 158.4,105.6 162.6,103.9 164.4,104.1 166.6,105.6 174.4,106.1 179.6,104.4 190.6,104.4 198.6,106.1 201.1,106.1 207.4,102.4 211.1,101.4 221.6,101.4 234.1,100.1 240.4,100.4 244.4,101.6 252.6,101.4 257.9,100.4 263.6,100.1 292.1,101.6 295.1,102.6 296.1,105.1 295.6,105.9 294.1,106.4 284.9,106.4 281.9,105.6 279.1,105.6 274.6,107.9 268.9,109.1 266.6,110.1 262.4,110.4 258.4,109.9 248.1,112.9 236.1,112.9 232.9,113.6 228.4,113.6 225.4,112.9 215.9,112.1 211.1,113.6 208.1,113.6 204.9,112.6 201.9,112.6 199.4,114.1 198.6,116.4 197.9,116.9 193.6,115.6 184.9,115.6 183.1,114.9 179.6,115.1 176.9,114.4 172.4,114.4 171.1,115.1 171.6,115.9 174.9,116.6 175.6,117.4 174.6,119.6 173.1,120.4 171.1,120.4 168.4,118.6 166.1,118.6 164.9,119.4 165.1,121.1 166.4,122.1 165.6,123.1 158.9,125.1 151.1,124.9 146.9,123.6 139.6,123.9 134.9,122.6 134.1,122.9 132.4,125.1 129.9,125.4 120.6,121.9 112.1,123.9 107.6,123.4 101.6,123.9 95.1,122.4 95.1,125.1 97.1,125.6 96.6,126.4 95.1,126.6ZM203.6,43.1 203.6,43.9 204.6,44.9 207.9,46.4 210.1,48.6 213.6,50.4 215.6,52.4 223.4,53.9 229.9,57.9 240.4,61.4 245.6,61.9 250.4,63.6 254.4,64.4 264.6,63.4 273.9,63.4 283.6,62.1 296.9,62.6 310.1,62.1 314.1,60.6 317.6,56.6 320.4,54.4 328.9,53.4 335.1,51.1 337.9,48.1 340.4,43.9 340.4,43.1 274.1,43.1 273.1,45.4 274.1,48.6 271.6,50.4 269.9,50.6 267.6,49.4 263.4,44.6 263.1,43.1Z"/>
<path fill="#FF6400" fill-rule="evenodd" d="M1190.1,211.9 1189.1,208.1 1187.4,205.4 1185.4,204.4 1178.6,206.1 1173.1,208.9 1172.1,210.6 1172.1,213.4 1190.1,213.4ZM423.9,213.4 474.6,213.4 475.1,210.1 472.1,208.6 465.9,208.1 461.6,205.9 442.9,204.4 436.9,205.4 431.1,208.1 425.1,209.6 424.4,210.4ZM861.6,200.9 862.4,202.1 868.1,203.1 872.6,206.1 872.9,207.4 871.9,209.4 871.9,210.9 873.4,213.4 911.6,213.4 911.4,212.4 909.4,210.4 909.4,208.9 908.6,207.9 901.9,204.4 897.1,203.4 894.1,200.4 891.1,198.9 885.1,198.9 882.1,197.9 877.4,198.4 873.1,197.4 869.9,197.4 863.6,199.4ZM253.9,196.6 254.1,197.4 254.9,197.1ZM144.4,200.1 147.1,201.9 152.4,203.4 161.9,203.9 169.9,205.6 177.9,205.6 183.4,204.6 191.4,205.1 200.4,204.6 204.1,203.9 212.1,204.4 216.4,203.4 221.4,203.4 225.6,202.1 247.4,200.9 250.9,199.6 254.4,199.4 253.9,198.9 251.9,199.6 248.4,199.4 243.9,197.4 238.6,196.9 235.4,195.1 229.4,195.1 225.1,196.1 216.4,195.9 213.6,196.9 211.1,196.9 207.9,195.6 203.4,196.4 197.9,196.4 193.9,195.4 174.6,195.6 169.9,194.4 165.6,194.1 159.4,195.4 152.4,195.1 148.4,195.9 144.4,199.4ZM135.1,190.6 136.9,191.6 138.6,191.6 139.9,190.9 138.6,189.9 136.4,189.9ZM626.1,191.1 623.1,189.9 617.9,190.1 613.1,188.4 609.9,188.9 605.9,190.6 605.1,191.6 604.9,193.9 601.6,196.1 601.1,200.6 600.1,201.6 597.6,202.6 597.9,204.9 596.9,205.9 591.4,207.6 588.6,210.1 588.9,213.4 622.6,213.4 623.4,211.9 625.9,210.4 631.4,209.1 628.6,207.1 628.4,203.6 626.6,201.1 627.9,198.9 627.9,197.9 625.1,195.4ZM698.1,205.9 698.1,207.1 701.4,212.1 701.6,213.4 791.4,213.4 791.4,210.9 792.6,209.6 795.6,208.6 798.1,208.6 799.9,209.9 799.9,213.4 846.9,213.4 847.4,212.1 851.1,210.9 852.1,209.9 851.4,208.6 846.6,206.4 840.4,200.4 834.6,197.4 824.4,194.9 816.9,195.4 813.6,193.6 810.1,192.9 804.4,190.1 798.6,189.4 794.1,189.4 791.6,190.1 790.1,192.1 786.4,194.4 779.9,202.4 778.6,202.6 775.6,201.6 771.1,199.1 764.1,198.6 756.9,196.1 748.9,195.1 747.4,194.1 747.1,192.4 746.1,190.9 742.4,189.6 723.1,188.1 706.9,188.6 704.1,189.6 702.1,191.4 701.4,195.6 698.6,198.6 699.6,201.1 699.6,203.1ZM315.4,181.4 313.6,180.1 306.1,179.9 299.6,181.4 298.9,181.9 299.1,183.4 294.1,187.4 293.9,189.1 295.1,190.9 298.1,191.9 305.4,190.9 311.1,186.4 315.4,182.1ZM95.1,179.9 95.1,196.4 105.9,196.4 114.6,194.9 119.9,194.6 122.4,193.6 125.1,190.9 125.1,188.1 124.4,187.4 113.1,182.6 111.6,180.9 112.1,179.1 109.4,177.4 104.4,177.4 101.6,179.9ZM1019.6,165.1 1018.1,163.9 1015.4,162.9 1002.4,162.4 990.9,163.4 989.6,163.9 987.1,166.4 980.1,168.4 972.4,167.6 966.9,169.1 959.1,167.6 952.6,167.6 952.4,168.1 953.4,169.9 952.1,171.4 948.4,173.4 947.4,179.4 948.9,180.6 952.9,180.9 953.4,181.4 951.4,182.6 946.9,182.6 945.6,183.6 945.6,184.9 948.6,188.6 949.6,191.6 953.1,194.1 952.4,195.9 952.6,196.9 955.9,198.9 956.4,199.9 953.9,201.6 947.4,202.1 944.9,203.1 942.4,206.6 938.9,209.1 938.4,210.4 936.6,212.1 936.4,213.4 975.4,213.4 975.4,212.1 972.9,208.4 968.6,204.6 967.6,202.9 967.6,201.6 969.1,199.4 968.6,197.1 969.9,196.1 972.9,196.1 975.9,196.9 978.6,196.6 979.6,195.9 978.4,193.1 978.9,192.4 981.9,191.6 985.4,191.9 987.4,191.1 987.1,190.1 984.6,188.6 985.4,187.4 992.9,187.4 994.1,185.9 993.6,183.1 994.4,181.1 989.9,179.4 989.9,178.1 991.1,177.1 996.9,177.1 1002.6,176.1 1006.1,176.1 1007.6,176.6 1014.4,176.9 1018.6,178.4 1021.6,177.9 1022.1,176.4 1019.9,174.6 1020.6,169.1ZM316.9,163.1 316.9,164.6 317.9,167.1 315.9,168.4 315.4,169.6 318.9,173.4 318.9,174.4 317.6,176.1 329.9,178.1 331.6,179.4 333.6,182.1 336.1,183.1 340.9,183.4 347.4,181.6 351.9,177.6 352.6,173.9 354.4,171.1 354.1,169.9 352.4,167.9 352.4,165.9 349.1,163.9 346.1,160.9 346.9,159.6 346.1,158.6 343.6,158.6 342.1,160.1 340.9,160.4 328.6,157.9 323.4,157.6 323.1,158.4 324.1,159.1 323.6,160.1 319.1,160.9ZM1100.6,155.1 1101.4,156.1 1103.6,156.6 1106.9,155.1 1113.9,155.4 1115.6,154.9 1115.6,154.4 1110.6,152.4 1107.9,152.4 1102.1,153.4ZM1291.4,172.4 1291.9,173.4 1293.1,173.9 1299.4,174.1 1300.9,176.1 1303.4,177.6 1309.4,180.1 1314.4,180.9 1321.6,184.4 1327.1,184.9 1329.6,185.6 1337.1,185.1 1342.1,187.9 1348.4,189.1 1354.9,192.6 1365.1,192.6 1377.9,194.1 1389.1,193.9 1392.6,194.9 1401.9,194.1 1401.9,155.1 1398.6,154.9 1395.4,153.1 1391.4,151.9 1388.6,151.9 1383.6,153.4 1368.4,154.4 1360.6,156.9 1345.4,159.4 1339.9,157.4 1337.1,154.6 1335.9,154.1 1331.1,153.6 1326.1,151.6 1321.6,151.6 1316.1,150.4 1312.4,150.4 1308.1,152.4 1302.1,152.9 1300.4,153.9 1300.1,155.4 1301.4,157.6 1299.4,160.4 1296.4,163.1 1296.4,165.4 1293.6,167.6 1294.1,169.9ZM751.4,146.4 744.9,142.9 741.6,142.4 738.1,143.1 734.1,146.9 729.4,147.6 728.4,148.1 727.9,149.1 730.9,151.9 733.1,152.6 735.4,149.9 747.4,149.9 750.6,147.9ZM149.4,142.4 149.9,142.1 150.4,142.6 149.9,142.9ZM962.1,150.6 961.4,148.6 962.4,146.1 962.1,144.4 959.9,142.9 955.6,141.4 948.1,142.1 943.6,140.9 941.6,141.9 936.1,142.4 931.1,143.9 928.4,143.6 924.6,142.4 913.4,142.4 907.4,141.6 892.9,142.4 888.6,141.4 884.9,141.4 882.6,142.1 881.9,143.1 883.4,145.1 886.4,146.9 886.6,148.1 885.6,149.6 885.9,150.9 892.9,153.4 896.9,157.9 902.4,159.1 911.9,158.9 920.4,157.1 927.6,157.1 931.1,158.1 938.4,157.1 940.1,157.4 943.4,159.1 946.9,159.6 948.9,158.4 949.4,156.9 949.1,155.6 950.4,154.1 953.1,153.4 957.6,153.4 961.1,151.9ZM609.1,144.6 608.9,148.6 609.4,150.9 605.9,154.4 605.4,157.1 606.6,161.4 612.1,165.6 614.1,166.4 618.1,166.4 623.1,167.9 627.6,168.1 630.4,168.9 633.4,168.6 635.9,166.6 641.1,166.6 643.4,165.6 642.6,164.6 636.4,163.9 634.1,160.6 630.4,158.6 630.6,156.1 627.9,151.6 623.4,148.1 622.4,146.4 622.4,143.4 620.4,141.1 617.1,140.6 613.9,142.9 610.1,143.9ZM95.1,172.6 98.4,172.1 103.9,169.9 115.9,169.1 130.9,162.9 131.4,160.9 133.4,159.4 145.1,160.6 152.4,160.6 156.1,161.6 162.1,161.9 164.6,162.6 167.9,162.6 170.9,160.6 173.9,160.6 178.6,161.9 184.4,161.9 186.9,160.9 190.1,160.9 200.1,162.9 203.1,162.9 205.6,161.6 208.9,161.6 211.4,163.4 212.1,165.6 213.1,166.4 216.4,166.4 218.9,165.6 221.4,165.6 224.1,166.4 230.4,165.9 239.1,166.4 250.1,164.9 252.6,164.9 258.6,166.4 263.6,166.1 266.6,165.4 273.6,165.4 274.9,164.9 275.6,163.9 273.4,162.4 271.6,161.9 264.1,162.4 262.4,161.9 258.1,159.1 255.6,158.6 249.1,160.9 244.1,160.6 242.9,159.6 242.9,158.6 243.9,157.1 243.6,156.4 236.4,155.1 236.9,154.1 240.6,152.4 250.9,152.1 257.6,150.9 262.1,153.6 265.6,153.9 270.9,150.6 276.1,150.6 281.4,149.4 286.4,149.1 290.9,150.6 297.1,149.9 302.6,149.9 306.6,150.6 311.1,148.9 314.1,148.4 316.4,145.4 318.9,144.4 335.9,143.4 341.4,142.4 344.4,142.4 348.4,143.9 356.9,143.9 358.1,143.1 358.1,142.4 356.6,140.9 356.6,140.1 359.1,138.4 360.6,138.1 366.6,139.1 370.4,138.1 375.1,135.9 378.6,135.9 383.6,134.9 391.4,135.1 395.6,134.4 398.6,134.6 402.6,136.6 410.4,138.9 416.6,143.4 424.1,144.4 425.1,144.9 428.1,148.4 431.1,149.9 437.6,150.9 444.9,153.9 445.6,154.6 445.6,155.6 443.4,157.6 443.4,158.4 446.4,160.9 446.9,163.6 451.9,166.9 457.6,168.1 461.4,166.6 462.6,164.9 462.4,163.4 459.4,160.1 454.4,158.1 453.6,156.9 455.4,154.9 458.6,152.6 462.6,147.6 463.1,145.4 465.4,143.1 465.6,141.9 464.9,140.1 465.4,137.1 473.6,131.6 477.6,129.6 477.9,128.1 475.9,126.1 475.9,125.4 479.6,122.4 479.6,121.1 478.6,119.9 476.4,119.1 464.1,118.1 457.9,115.9 452.1,115.1 448.6,115.1 439.6,117.1 427.6,118.6 425.9,118.1 422.1,114.9 416.6,113.6 415.1,114.6 415.4,115.9 413.1,117.4 411.9,117.4 408.4,115.6 404.4,115.4 400.4,116.1 396.1,118.1 393.1,118.1 381.1,115.9 374.1,116.4 364.9,114.4 360.4,114.4 356.9,115.1 348.4,113.9 334.9,114.4 330.6,113.9 326.1,112.4 316.1,113.4 310.1,115.9 307.9,115.9 301.6,113.9 292.4,114.4 285.9,113.6 281.4,112.4 278.1,112.9 264.9,112.6 261.4,113.1 256.1,115.1 244.1,116.1 238.6,117.6 229.4,117.6 227.1,118.1 222.1,117.6 217.6,118.1 210.4,117.9 202.9,121.1 201.6,122.1 201.1,123.6 199.1,124.9 189.6,124.6 187.9,125.1 186.6,126.1 187.1,128.6 185.9,129.9 177.9,131.9 175.6,134.4 174.4,134.9 164.1,132.6 160.9,132.6 153.6,134.6 152.6,136.1 152.1,138.6 148.9,141.1 146.1,140.9 142.1,139.1 139.6,139.1 135.9,140.6 132.1,140.6 127.9,141.6 116.9,141.4 115.4,142.1 115.4,143.1 117.9,145.9 117.1,147.1 106.6,148.9 105.6,149.9 105.4,151.6 103.4,152.6 100.4,152.4 99.6,151.6 99.6,149.6 98.4,148.9 95.1,148.6ZM831.9,111.4 831.1,111.1 830.1,111.6 831.1,111.9ZM806.9,119.4 815.1,121.4 818.1,121.4 821.9,120.4 826.9,117.4 822.6,114.9 822.4,113.9 823.9,112.4 823.9,111.6 821.6,110.9 816.1,110.9 813.6,112.1 815.4,114.4 814.6,115.4 811.4,115.6 808.6,116.6 806.9,118.6ZM903.1,110.6 903.6,114.1 907.1,116.4 921.6,113.4 928.9,114.1 931.1,113.4 932.4,111.9 932.1,110.9 929.4,108.4 922.9,108.1 918.6,106.4 914.4,106.4 910.1,108.4 904.6,109.6ZM696.4,110.6 690.4,108.4 676.9,107.6 673.1,108.9 669.1,109.4 662.9,107.9 658.4,107.6 652.9,106.1 649.1,106.1 645.4,109.4 640.1,110.1 638.4,111.9 634.6,113.9 633.1,116.1 631.1,117.4 627.9,117.4 624.4,116.1 618.9,115.9 614.1,117.6 600.6,117.9 591.9,117.1 587.1,115.1 575.4,115.4 559.1,117.9 554.1,117.6 549.1,116.4 544.4,116.4 542.9,116.9 539.6,119.9 537.4,124.9 539.6,125.4 549.1,123.4 551.4,120.6 554.4,119.9 558.1,121.1 561.6,123.6 569.1,125.1 580.1,124.6 582.6,125.6 589.9,125.6 591.9,126.1 599.9,125.6 605.6,126.1 611.9,125.9 618.4,124.6 620.4,126.1 620.4,129.6 620.9,130.4 625.1,130.6 637.1,128.6 643.1,125.4 644.4,123.6 646.1,122.4 653.9,123.6 657.1,123.4 659.6,120.4 664.1,119.1 667.1,116.9 671.4,115.6 674.1,113.9 677.1,113.9 680.4,114.6 684.1,114.4 693.1,112.9 696.1,111.6ZM1130.9,108.6 1130.9,107.4 1126.1,103.9 1121.1,104.4 1117.1,107.1 1113.6,106.4 1110.9,107.1 1110.9,107.6 1112.6,108.9 1112.9,110.9 1115.1,112.1 1124.4,111.4 1129.1,110.1ZM1351.4,102.1 1350.4,101.4 1347.4,100.6 1335.4,99.4 1327.6,101.1 1316.1,101.1 1312.6,100.1 1303.4,100.9 1298.1,99.9 1290.1,99.9 1287.9,101.1 1283.1,102.4 1285.9,103.6 1297.6,104.9 1302.4,103.6 1315.4,104.1 1322.6,102.6 1329.9,103.6 1339.6,102.9 1346.1,103.9 1349.1,103.4ZM95.1,96.9 95.1,102.9 103.6,102.6 109.6,103.1 115.4,102.1 115.1,101.6 110.6,101.1 104.9,98.6ZM1401.9,95.9 1392.9,96.6 1384.1,99.6 1377.9,100.9 1375.6,101.9 1375.6,102.4 1378.9,103.4 1390.4,105.1 1401.9,105.6ZM1057.6,97.1 1055.9,94.4 1054.4,93.4 1051.1,93.4 1048.4,94.1 1043.4,97.1 1039.4,97.1 1035.6,96.1 1034.4,96.9 1034.1,98.9 1031.9,102.4 1033.9,104.9 1033.9,106.1 1030.4,108.6 1023.6,109.6 1021.1,111.4 1021.1,112.4 1022.9,113.4 1031.6,114.1 1040.4,111.9 1047.1,110.9 1049.1,109.4 1049.9,106.6 1052.4,104.4 1054.4,104.1 1056.9,105.6 1057.9,105.1 1057.1,102.1ZM966.4,94.4 966.1,93.4 963.1,90.1 958.9,88.6 957.6,88.6 953.4,90.4 946.4,90.4 940.1,88.9 938.1,89.9 936.6,91.9 937.1,93.1 938.6,94.4 947.9,96.6 954.6,95.6 962.4,96.1 964.9,95.6ZM501.4,83.4 501.6,84.6 504.9,85.9 507.9,85.6 509.1,84.6 509.1,83.6 506.6,82.1 504.1,82.1ZM116.1,83.9 116.6,85.1 120.6,85.9 123.6,87.1 125.1,88.6 126.4,91.6 130.4,94.1 133.1,95.1 142.9,96.9 147.9,99.4 151.6,98.9 155.4,98.9 157.9,99.6 160.9,99.6 163.4,98.9 167.9,99.1 171.4,96.6 175.1,96.1 178.6,97.9 182.6,97.6 186.6,98.4 191.1,100.6 195.4,101.6 201.4,99.6 208.9,98.9 214.1,97.4 219.1,97.4 223.1,98.6 226.4,98.6 229.1,97.9 239.6,98.1 244.9,97.1 251.9,97.6 260.6,96.9 266.1,97.6 272.1,97.4 277.4,98.4 285.9,98.4 288.6,99.1 296.9,98.9 303.1,99.6 306.6,101.4 310.1,105.4 314.1,107.1 316.1,109.1 321.9,108.1 325.4,108.6 331.9,108.1 337.6,105.1 343.4,103.1 346.1,99.9 346.1,99.4 344.9,98.6 338.6,97.6 337.4,96.9 337.9,90.9 336.9,88.6 336.9,86.4 336.1,85.4 334.4,85.1 334.4,86.9 333.6,87.6 331.4,87.6 330.4,86.9 329.4,84.6 326.9,83.6 318.9,84.1 312.6,88.1 307.6,88.6 303.6,89.9 293.4,88.6 284.6,89.6 273.6,88.6 268.9,89.1 256.6,89.1 254.6,89.6 246.6,89.4 237.9,90.1 226.1,89.4 219.6,87.1 210.6,87.6 202.9,86.1 193.9,86.1 191.1,87.4 186.4,87.6 181.9,89.1 175.1,88.9 170.6,89.6 165.9,88.6 162.6,89.9 156.1,88.9 152.6,88.9 147.9,90.1 133.9,89.6 132.1,89.1 131.1,88.1 131.4,86.6 133.4,84.4 132.9,83.4 126.4,81.1 122.6,78.6 119.6,79.1 118.6,81.4ZM532.9,66.6 533.1,67.4 534.1,67.9 544.6,69.6 545.6,70.1 547.6,72.6 550.4,73.9 548.9,75.6 548.9,76.6 549.9,77.6 556.6,77.9 561.6,81.1 566.6,82.9 569.1,84.6 568.4,85.6 563.6,86.6 559.9,89.9 546.1,88.4 542.1,90.4 537.4,91.9 536.1,93.6 535.4,96.1 532.6,99.1 531.9,100.9 540.4,104.6 543.9,105.1 547.9,104.4 555.4,104.4 559.1,105.1 563.1,105.1 569.6,104.1 582.6,104.4 585.6,105.1 588.4,105.1 603.6,102.9 618.4,104.6 620.6,104.1 623.4,102.4 627.9,100.6 631.1,98.9 634.9,95.9 639.6,94.1 639.1,93.4 634.1,92.1 630.6,90.4 628.4,89.9 621.4,89.9 616.1,89.1 596.9,89.9 593.4,89.1 591.1,87.4 591.1,85.1 587.1,83.6 587.1,80.9 584.1,78.1 583.1,75.1 581.4,74.1 578.4,70.6 571.4,69.1 570.1,66.6 568.6,65.4 559.9,65.1 552.4,62.9 547.6,64.4 540.9,64.1 535.9,64.6 533.9,65.4ZM462.1,63.1 463.1,65.1 463.1,68.1 464.9,70.6 466.9,71.9 468.6,72.1 470.4,71.6 477.1,66.1 476.1,64.9 472.4,63.4 465.6,62.6ZM95.1,63.1 97.6,63.1 104.1,61.6 105.6,60.6 105.6,59.4 107.1,58.4 110.1,59.4 113.1,59.4 114.1,58.6 114.4,57.6 113.4,56.9 109.4,56.6 105.4,55.4 95.1,56.4ZM752.6,57.6 762.1,58.1 763.6,57.6 764.1,56.9 761.6,55.4 757.4,55.1 753.1,56.9ZM1388.6,47.4 1388.9,49.1 1391.1,50.6 1396.9,50.1 1401.9,50.4 1401.9,45.4 1398.9,45.1 1397.1,43.9 1397.1,43.1 1390.9,43.1 1390.6,44.6ZM1185.4,46.1 1186.4,47.6 1191.4,48.4 1194.9,50.9 1202.1,50.6 1205.1,51.1 1221.4,51.4 1234.9,49.9 1237.9,48.6 1238.9,47.6 1238.1,45.6 1238.1,43.1 1187.6,43.1 1187.4,44.4ZM880.4,43.1 880.6,44.1 883.4,46.9 884.1,48.4 885.6,49.9 887.6,50.4 892.6,50.4 895.4,49.4 896.4,48.4 896.6,46.4 898.1,43.1ZM454.1,47.9 455.1,49.1 464.9,53.4 469.6,53.1 472.1,53.9 474.4,53.9 477.9,52.9 487.1,53.4 499.6,56.1 508.1,59.9 510.6,60.4 522.6,59.6 529.4,57.1 531.1,54.9 531.4,52.6 532.6,50.4 532.1,48.1 532.4,43.1 463.6,43.1 462.9,44.6 461.1,45.4 456.9,45.9 454.9,46.9ZM226.9,48.9 230.1,52.4 233.1,54.4 235.4,55.1 244.4,56.1 247.4,57.4 251.1,60.1 254.9,61.1 262.6,59.6 272.4,60.1 284.6,58.1 292.4,58.6 299.1,60.1 304.9,60.1 308.9,59.1 312.4,57.4 313.4,56.4 314.1,54.1 315.9,52.6 324.4,51.1 331.6,48.9 332.4,47.9 331.9,46.6 332.4,43.1 298.9,43.1 298.9,46.1 297.4,48.4 291.4,50.1 285.9,50.6 285.1,51.1 285.6,52.4 285.4,53.6 277.4,55.6 273.1,55.6 268.1,53.9 262.9,53.1 261.4,50.4 258.1,47.9 257.9,43.1 227.1,43.1 227.4,46.6Z"/>
<path fill="#FF0000" fill-rule="evenodd" d="M461.6,211.6 461.9,213.4 465.9,213.4 465.9,212.9 464.4,211.9ZM773.1,213.4 781.4,213.4 781.4,212.9 783.1,211.6 783.4,209.9 781.6,208.9 773.9,208.1 773.6,208.9 775.6,210.1 775.6,211.1 773.6,212.4ZM437.6,209.9 438.6,211.6 438.9,213.4 456.9,213.4 457.1,211.1 455.4,209.1 449.6,207.4 444.1,207.4 438.9,208.9ZM948.4,207.9 949.4,209.1 953.4,209.6 954.6,210.6 953.6,213.4 963.4,213.4 963.6,212.1 966.4,209.6 966.1,208.6 964.4,207.4 956.6,207.4 953.9,206.6 950.4,206.6ZM881.4,209.6 882.4,210.6 885.6,210.9 886.6,211.9 886.9,213.4 898.6,213.4 897.9,211.9 891.6,208.4 890.1,206.9 889.6,205.4 888.1,204.4 884.4,204.9ZM155.6,200.1 165.6,202.4 176.6,202.9 182.9,202.4 187.4,202.6 194.4,201.4 200.9,201.9 202.4,200.9 202.4,200.4 201.1,199.6 193.1,197.9 185.4,198.4 163.9,197.1ZM616.9,196.4 615.9,195.9 613.1,195.9 609.6,198.4 608.9,199.6 609.4,202.6 612.1,205.1 610.9,205.9 607.4,206.1 602.1,207.9 601.9,209.1 602.9,210.6 603.1,213.4 607.6,213.4 608.1,212.1 611.1,210.9 616.6,211.4 618.9,210.4 618.1,207.1 619.9,205.4 620.1,203.9 617.4,200.1 617.6,197.4ZM788.6,199.1 788.9,200.6 790.4,201.9 792.4,205.9 796.4,206.1 800.9,205.6 803.6,206.4 807.1,208.6 812.6,209.6 813.6,210.6 813.9,213.4 837.1,213.4 837.6,210.9 839.6,208.9 839.6,207.6 838.6,206.6 831.6,205.4 828.1,202.4 819.9,203.1 818.9,202.6 818.6,201.9 820.6,200.1 820.1,199.6 810.1,198.4 800.4,194.9 797.9,194.9 790.1,197.6ZM705.1,198.9 705.6,200.4 707.6,202.4 708.4,205.1 712.1,206.6 714.6,206.6 715.4,205.9 713.9,203.9 715.9,202.9 717.6,203.1 719.6,205.4 722.1,205.9 725.4,205.6 727.9,204.6 728.1,202.1 729.6,201.4 734.1,202.9 738.4,203.4 741.4,205.4 747.1,205.6 749.1,206.9 751.6,207.4 754.9,206.1 758.1,202.9 758.6,200.1 756.9,198.9 754.1,198.1 745.4,197.4 739.6,195.1 736.4,192.9 733.4,191.6 730.1,191.1 728.4,191.6 726.4,193.1 724.1,193.4 722.1,192.6 721.4,191.4 719.1,190.6 714.1,191.1 711.4,193.4 707.1,195.1 706.1,196.1ZM95.1,185.9 95.1,194.1 107.1,193.6 112.9,192.1 116.4,192.1 118.1,191.4 117.4,190.4 113.1,189.6 109.4,185.9 106.6,184.9 99.9,184.6 96.6,185.9ZM346.6,172.1 344.6,168.6 342.1,167.4 339.1,168.4 337.4,170.6 334.4,172.1 333.9,172.9 340.4,175.6 343.1,175.9 345.6,174.6ZM1312.4,169.4 1314.4,170.1 1318.6,170.4 1320.1,171.9 1320.9,174.1 1322.9,175.4 1332.4,175.1 1335.6,173.4 1336.9,171.9 1334.1,164.1 1328.1,161.6 1324.9,161.9 1320.1,165.6 1314.4,167.9ZM1344.9,167.1 1346.9,169.4 1346.9,170.4 1344.1,172.6 1345.1,177.6 1347.4,180.6 1348.4,183.1 1350.9,184.1 1354.6,186.9 1361.9,188.9 1367.4,189.4 1373.9,191.4 1387.9,191.6 1392.9,192.4 1401.9,192.1 1401.9,160.1 1392.1,158.9 1388.6,156.6 1378.9,156.1 1375.9,156.9 1372.9,158.9 1371.1,159.4 1368.4,158.9 1364.9,159.1 1363.9,159.6 1363.4,161.1 1362.6,161.6 1352.9,161.6 1349.6,164.4 1345.6,166.1ZM611.1,154.6 611.6,155.9 616.1,158.1 618.1,157.9 619.4,156.1 618.4,154.1 616.6,152.6 613.4,153.1ZM896.4,148.9 896.9,150.1 898.4,150.6 900.1,152.1 899.9,154.6 901.1,155.9 904.4,156.6 909.4,156.6 912.6,155.9 913.9,154.9 913.9,154.4 910.4,151.4 910.4,150.6 912.6,149.4 913.6,148.1 912.6,146.6 903.9,145.4ZM207.9,155.4 205.6,151.9 206.4,148.4 205.1,146.4 205.6,144.9 205.4,143.6 203.6,142.6 198.1,141.1 195.1,141.1 186.4,144.6 184.1,147.4 182.1,148.1 174.1,149.1 168.4,150.9 151.4,151.9 148.1,153.1 146.6,154.6 149.9,156.6 153.6,157.6 156.6,157.6 159.6,156.9 176.4,156.4 191.1,157.1 197.1,156.6 202.9,157.4 206.1,156.6ZM576.1,120.1 579.1,120.4 580.6,119.9 577.6,119.4ZM208.4,138.6 210.6,139.9 224.9,139.6 230.6,140.9 235.4,142.6 243.1,141.1 247.9,143.4 251.4,143.4 255.9,142.4 256.4,141.9 256.1,140.4 256.9,139.9 258.9,140.1 260.6,141.4 262.6,141.9 270.4,142.1 275.1,139.6 277.1,139.6 282.1,141.6 287.6,141.9 292.1,143.1 300.6,142.4 303.6,140.9 306.1,140.9 308.9,141.9 310.6,141.9 315.4,139.4 323.4,139.6 326.4,139.1 331.1,137.6 332.9,134.9 334.4,133.6 340.9,132.9 343.6,131.4 346.1,130.9 352.4,131.1 356.4,132.1 366.1,131.1 378.1,131.9 384.6,130.1 392.9,129.6 397.1,130.4 406.9,130.6 412.6,132.1 414.1,132.9 416.4,135.1 417.1,137.1 419.6,138.9 423.9,139.6 427.1,142.1 430.1,143.4 435.6,144.6 444.6,145.4 446.1,146.1 449.6,150.1 451.1,150.4 452.9,149.1 452.6,144.9 454.1,142.9 453.6,136.1 454.9,134.9 458.4,133.1 467.1,130.9 470.6,128.1 469.1,126.4 469.4,123.4 463.4,121.9 459.9,120.1 456.6,119.4 448.9,119.6 442.9,122.1 435.9,123.4 431.1,125.9 426.9,126.1 421.4,124.1 415.4,122.9 403.9,122.6 398.9,123.6 396.4,124.9 394.6,124.9 392.6,122.4 391.4,121.9 388.9,121.9 386.4,124.1 374.4,123.6 369.6,122.1 367.1,120.4 358.6,118.1 339.1,118.4 334.4,118.9 329.4,117.9 321.4,117.9 314.4,119.1 313.4,119.9 313.6,121.4 312.4,122.1 298.4,123.1 295.1,122.1 292.4,119.6 284.9,117.1 276.4,116.9 272.1,118.1 261.9,118.1 255.4,117.4 248.6,118.6 241.4,122.1 234.9,123.1 228.6,127.6 224.6,128.1 224.9,130.9 223.6,132.1 216.1,133.9 214.4,136.4 209.1,137.1 208.4,137.6ZM677.1,110.9 677.9,111.6 681.1,112.4 687.4,111.9 689.6,111.1 688.9,110.4 684.6,109.9 679.1,110.1ZM1401.9,99.1 1392.6,99.9 1388.9,101.9 1391.9,102.9 1401.9,103.1ZM624.4,93.6 622.6,92.6 616.6,92.6 611.6,93.9 606.6,93.6 604.1,94.4 603.9,95.1 606.4,96.1 614.1,96.9 616.4,95.9 623.1,95.4 624.4,94.4ZM334.4,102.4 333.9,100.9 329.4,98.4 329.4,95.6 327.4,93.4 320.1,89.1 317.9,89.4 310.6,92.1 300.9,92.6 294.9,91.6 279.1,92.4 275.1,91.4 263.9,91.4 255.1,92.4 244.6,92.1 237.1,92.6 217.9,91.4 210.6,92.6 208.1,92.1 203.1,89.9 196.1,90.4 194.4,91.1 193.6,92.4 193.9,93.4 198.1,95.6 203.1,94.4 207.9,95.1 225.4,94.6 235.4,96.1 238.6,96.1 245.6,94.9 255.1,95.6 262.4,94.6 273.1,94.6 287.6,96.1 293.6,95.6 308.4,95.6 314.4,97.1 317.9,100.1 322.6,102.6 330.9,103.4ZM299.6,56.6 300.1,57.4 302.1,58.1 305.6,57.6 305.1,56.6 302.6,55.9ZM1202.9,47.6 1206.9,48.6 1216.4,48.9 1222.9,45.9 1224.1,44.4 1224.4,43.1 1207.6,43.1 1207.4,44.6 1206.1,45.9 1203.4,46.9ZM476.1,48.1 477.1,49.4 479.1,50.1 485.4,49.6 489.9,50.6 494.1,50.9 498.9,53.1 505.6,54.4 512.1,54.1 514.4,53.6 516.9,52.1 522.1,51.6 525.6,50.1 526.6,48.9 527.4,43.1 490.4,43.1 490.4,43.9 489.4,44.6 487.1,44.4 486.6,43.1 479.4,43.1 479.1,45.1 476.9,46.9ZM470.6,43.1 471.1,44.1 473.1,43.6 473.1,43.1ZM314.1,43.1 314.6,48.4 317.6,48.6 324.1,47.9 324.9,47.4 324.6,43.1ZM246.1,43.1 245.9,45.4 244.1,46.9 243.4,50.4 244.1,51.1 249.6,52.9 252.9,52.1 253.6,51.1 253.4,49.1 248.9,46.4 250.9,44.4 251.1,43.1ZM236.1,43.1 236.1,43.9 237.9,45.1 239.6,45.6 241.4,45.4 240.9,43.1Z"/>
<path fill="#990000" fill-rule="evenodd" d="M170.6,199.9 172.6,200.6 177.6,200.6 178.6,200.1 176.4,199.4 172.1,199.4ZM95.1,192.1 98.1,191.9 100.9,190.9 105.6,190.9 105.9,190.4 102.9,190.1 100.9,190.6 95.1,190.1ZM1351.9,173.6 1355.1,180.1 1359.4,184.1 1361.9,185.1 1368.9,185.1 1375.9,187.4 1381.1,187.4 1386.6,188.4 1390.6,188.4 1399.4,185.6 1401.9,185.6 1401.9,183.6 1399.6,183.1 1397.4,180.4 1398.6,179.4 1401.9,179.1 1401.9,175.1 1396.9,173.6 1395.4,171.4 1393.1,171.9 1393.4,172.6 1395.4,173.4 1394.6,174.6 1392.6,174.6 1390.9,173.9 1388.9,171.1 1388.4,167.6 1386.6,164.9 1385.4,163.6 1381.1,162.1 1378.6,161.9 1370.1,163.1 1362.9,166.1 1356.1,167.1 1353.9,168.9 1353.4,171.4ZM446.9,129.6 445.4,128.6 442.9,128.9 440.6,130.9 439.6,134.6 438.6,135.1 432.4,134.9 429.9,136.1 429.6,137.4 431.6,139.1 433.9,139.9 440.6,139.6 443.1,137.1 446.6,136.1 446.6,133.4 447.4,132.1ZM495.1,48.1 498.6,49.6 506.6,49.6 512.6,48.9 513.9,48.1 513.6,45.9 515.1,44.4 515.4,43.1 497.4,43.1Z"/>
<path fill="#3C0000" fill-rule="evenodd" d="M1358.9,174.4 1363.6,177.9 1367.1,178.4 1368.4,177.9 1368.9,176.9 1370.4,175.9 1378.4,175.9 1380.9,175.1 1382.6,173.9 1382.6,172.9 1379.9,170.4 1374.9,169.9 1371.6,168.1 1369.4,168.1 1365.1,169.4 1362.4,171.6 1359.1,173.1Z"/>
<path d="M364.5,44.2 L367.4,50.9 L368.2,56.9 L374.9,62.8 L385.3,68.0 L398.7,73.2 L409.1,71.7 L419.5,77.7 L428.4,81.4 L432.9,82.9 L434.3,86.6 L438.8,91.1 L440.3,94.0 L443.3,94.8 L447.7,96.3 L452.2,98.5 L456.7,103.0 L458.1,101.5 L461.1,100.0 L464.1,98.5 L467.1,99.2 L470.0,104.5 L471.5,111.9 L470.0,116.3 L467.1,120.8 L464.1,125.3 L461.1,131.2 M394.9,44.2 L400.1,59.8 L409.1,63.6 L416.5,61.3 L421.0,56.9 L423.9,53.2 L428.4,51.7 L434.3,51.7 L432.9,58.4 L429.9,64.3 L428.4,71.7 L435.8,73.2 L443.3,73.2 L447.7,77.7 L448.5,86.6 L450.7,94.0 L456.7,97.0 L461.1,94.8 L465.6,94.0 L473.0,93.3 L479.0,89.6 L484.9,86.6 L489.4,85.1 L491.6,86.6 L489.4,89.6 L490.9,95.5 L493.8,92.6 L499.8,91.1 L508.7,91.8 L520.0,91.1 M443.3,47.9 L446.2,46.5 L452.2,45.7 L461.1,47.9 L470.0,52.4 L477.5,56.1 L480.4,56.9 L473.0,56.9 L467.1,53.9 L456.7,50.2 L449.2,49.4 L443.3,49.4 Z M486.4,58.4 L493.8,57.6 L499.8,59.8 L501.3,62.1 L493.8,62.8 L490.9,64.3 L487.9,61.3 Z M466.3,63.6 L470.0,63.1 L473.8,64.3 L470.0,65.3 L466.3,64.8 Z M481.2,62.5 L484.9,62.2 L486.4,63.3 L483.4,64.0 L480.7,63.6 Z M505.7,105.9 L508.7,101.5 L514.6,100.0 L520.0,100.0 M500.0,89.7 L504.5,91.2 L511.9,91.2 L519.3,90.7 L525.3,91.2 L524.5,94.9 L526.8,96.4 L531.2,98.6 L539.9,103.8 L544.6,107.5 L550.7,107.5 L559.5,110.5 L563.9,114.2 L566.9,118.7 L568.4,123.1 L565.4,127.6 L563.9,130.6 M505.9,106.8 L508.9,102.3 L514.9,100.8 L523.8,98.6 L529.7,97.8 M569.9,129.1 L574.3,130.6 L580.3,132.0 L586.2,135.0 L596.7,138.0 L604.1,138.7 L613.0,142.5 L620.4,145.4 L623.4,151.4 M500.0,139.5 L508.9,138.0 L514.9,139.5 L519.3,143.9 L525.3,141.0 L531.2,139.5 L538.7,138.0 L544.6,136.5 L550.6,135.8 L556.5,135.0 L562.5,132.0 L565.4,129.1 M508.9,129.1 L519.3,129.1 L523.8,132.0 L529.7,136.5 M462.3,124.0 L458.6,130.0 L456.4,135.9 L459.3,140.4 L455.6,143.3 L456.4,149.3 L460.8,153.8 L463.8,159.7 L466.8,165.7 L471.2,171.6 L472.7,176.1 L477.2,180.5 L484.6,185.0 L490.6,189.5 L494.3,193.9 L495.8,199.9 L495.1,207.3 L494.3,214.0 M620.1,146.3 L623.0,150.8 L623.8,158.2 L618.6,167.2 L612.6,171.6 L609.6,174.6 L609.6,183.5 L608.9,189.5 L605.2,198.4 L600.7,205.8 L594.8,210.3 L588.8,211.8 M692.0,44.2 L689.0,50.9 L691.2,56.9 L692.0,68.8 L689.8,73.2 L687.5,77.0 L691.2,80.7 L689.8,83.7 L694.2,86.6 L698.7,92.6 L703.2,97.1 L704.6,101.5 L710.6,106.0 L716.5,110.5 L722.5,113.4 L729.9,111.9 L737.4,111.2 L744.8,110.5 L752.3,108.2 L761.2,106.0 L767.1,107.5 L771.6,111.9 L777.6,112.7 L783.5,113.4 L786.5,116.4 L786.5,123.8 L785.0,131.3 M692.0,69.5 L697.2,69.5 L703.9,74.7 M717.3,89.6 L724.0,82.9 L734.4,77.7 L737.4,71.0 L743.3,68.8 L747.8,68.0 L750.8,70.3 L754.5,77.0 M767.1,95.6 L774.6,98.5 L774.6,109.0 M775.3,101.5 L784.3,101.5 M799.1,79.2 L801.4,79.2 L805.8,82.2 L802.9,84.4 Z M816.2,131.3 L817.7,120.9 L823.7,122.4 L832.6,120.9 L840.1,125.3 M785.3,124.0 L783.8,130.0 L786.8,135.9 L791.2,140.4 L795.7,146.3 L797.2,152.3 L799.4,158.2 L800.2,165.7 L797.2,173.1 L795.0,180.5 L794.2,189.5 L795.7,196.9 L800.2,204.4 L803.2,214.0 M809.1,138.9 L813.6,131.4 L816.5,127.0 L818.0,124.0 M867.1,130.0 L870.1,127.7 L874.6,127.7 L876.1,130.7 L873.1,135.9 L870.1,138.9 L866.4,137.4 Z M857.5,140.4 L859.0,146.3 L862.7,153.8 L864.2,159.0 L861.2,157.5 L858.2,150.8 L856.7,143.3 Z M874.6,161.9 L876.8,167.2 L879.0,179.1 L877.6,179.8 L875.3,173.1 L874.3,165.7 Z M875.3,188.0 L879.0,191.0 L880.5,193.9 M911.8,124.0 L905.8,128.5 L899.9,134.4 L895.4,140.4 L893.2,147.8 L893.9,153.8 L895.4,162.7 L898.4,165.7 L899.1,173.1 L898.4,180.5 L895.4,185.0 L889.5,189.5 L883.5,193.9 L879.0,198.4 L877.6,202.9 L879.0,208.8 L880.5,214.0 M929.7,171.2 L932.0,172.5 L933.8,176.1 L934.2,180.5 L933.3,184.1 L932.0,186.8 L931.1,191.3 L929.3,197.5 L927.5,202.9 L925.7,208.2 L924.8,214.0 L908.8,214.0 L908.8,207.3 L910.5,203.8 L911.9,199.3 L911.4,193.9 L911.4,189.5 L912.8,186.3 L915.0,185.4 L918.6,184.1 L921.3,182.3 L923.9,179.6 L925.7,177.0 L927.5,174.3 Z M880.8,44.2 L885.3,49.4 L887.5,56.9 L891.2,65.8 L895.7,73.2 L901.7,77.7 L907.6,82.2 L909.1,85.9 M892.0,44.2 L897.2,55.4 L903.2,64.3 L906.1,71.8 L907.6,77.7 L909.1,84.4 L919.5,81.4 L928.5,78.5 L937.4,74.7 L943.3,71.8 L949.3,68.8 L955.2,64.3 L961.2,58.4 L964.2,53.9 L967.1,48.0 L968.6,44.2 M906.1,87.4 L910.6,91.1 L913.6,92.6 L919.5,91.1 L927.0,89.6 L935.1,86.6 L937.4,88.1 L936.6,92.6 L934.4,98.5 L929.9,106.0 L924.0,113.4 L916.5,120.9 L909.1,127.6 L904.6,132.0 M1001.5,45.7 L1006.0,50.9 L1011.2,53.2 L1014.9,49.4 L1015.6,56.9 L1017.9,65.8 L1020.8,74.7 L1025.3,83.7 L1028.3,91.1 L1031.2,97.1 L1034.2,100.0 L1038.7,95.6 L1041.7,92.6 L1042.4,86.6 L1041.7,80.7 L1042.4,74.0 L1047.6,70.3 L1053.6,65.8 L1059.5,61.3 L1064.0,56.9 L1067.0,52.4 L1071.4,49.4 L1077.4,48.7 L1081.1,47.2 L1083.3,48.0 L1086.3,52.4 L1089.3,56.1 L1092.3,59.9 L1093.8,65.8 L1095.2,71.8 L1099.7,69.5 L1102.7,68.0 L1105.7,70.3 L1107.1,76.2 L1110.1,82.2 M1126.5,62.8 L1131.0,64.3 L1132.4,68.8 L1134.7,76.2 L1133.9,83.7 L1136.9,91.1 M1041.7,93.3 L1044.6,97.1 L1047.6,100.0 L1049.1,104.5 L1046.9,106.7 L1043.2,107.5 L1041.7,101.5 L1041.4,97.1 Z M182.8,56.1 L186.5,56.9 L188.0,59.1 L185.0,60.6 L183.5,59.1 Z M1397.6,191.7 L1399.8,191.0 L1401.3,192.5 L1399.1,193.6 Z M1110.1,82.2 M1108.2,80.5 L1110.0,86.2 L1109.6,93.3 L1108.9,100.4 L1114.4,105.7 L1116.2,109.9 L1118.7,116.2 L1124.2,121.4 L1127.8,123.9 M1130.4,123.5 L1127.8,116.2 L1126.8,110.9 L1123.5,106.7 L1118.7,104.2 L1116.2,102.1 L1115.1,96.8 L1112.6,91.5 L1114.7,84.4 L1116.9,80.8 L1118.7,83.7 L1124.2,85.5 L1126.0,89.7 L1131.5,91.9 L1133.3,96.8 L1132.6,98.3 L1135.1,96.1 L1139.1,92.6 L1142.4,91.5 L1147.9,88.0 L1149.0,82.6 L1147.5,73.6 L1144.2,70.0 L1138.8,66.3 L1135.9,60.8 L1138.8,55.2 L1143.5,51.5 L1149.7,51.5 L1152.6,56.0 L1153.3,52.6 L1157.0,51.1 L1164.3,48.9 L1166.8,48.5 L1173.4,46.2 L1178.8,43.2 M1146.8,60.1 L1149.7,57.1 L1154.1,56.7 L1155.2,58.6 L1153.3,61.9 L1149.7,63.7 L1146.4,62.6 Z M1098.0,108.8 L1102.4,114.4 L1107.8,119.7 L1111.5,124.9 L1116.2,131.2 L1118.7,135.4 L1123.5,140.6 L1127.8,145.2 L1131.5,148.7 L1136.2,148.7 L1136.9,139.6 L1133.3,137.1 L1130.8,131.9 L1127.8,130.1 L1124.2,126.7 L1120.6,122.5 L1116.9,119.7 L1113.3,116.2 L1109.6,114.4 L1106.0,110.2 L1100.5,109.2 Z M1134.0,152.2 L1136.9,149.4 L1144.2,150.4 L1153.3,152.2 L1160.6,152.6 L1167.9,155.4 L1167.5,158.5 L1160.6,157.8 L1151.5,156.8 L1144.2,155.7 L1138.8,154.3 L1134.8,152.6 Z M1147.9,123.2 L1150.1,121.4 L1155.2,122.5 L1162.4,117.2 L1167.9,112.3 L1171.5,109.2 L1176.3,103.9 L1179.5,107.4 L1182.5,110.9 L1185.0,110.6 L1180.6,114.4 L1179.9,121.4 L1183.9,124.9 L1179.2,128.4 L1178.1,131.9 L1175.2,135.4 L1174.4,140.6 L1168.3,141.7 L1162.4,139.6 L1157.7,138.9 L1152.2,138.5 L1151.5,133.6 L1147.9,130.1 L1147.9,126.7 Z M1189.7,125.6 L1197.0,124.9 L1204.3,123.2 L1206.5,123.9 L1203.6,126.7 L1195.2,126.7 L1191.6,129.1 L1195.2,131.2 L1199.9,131.5 L1198.1,133.6 L1193.7,135.0 L1197.0,138.9 L1199.6,144.1 L1195.2,144.8 L1192.7,140.6 L1190.8,137.1 L1189.4,138.9 L1189.7,147.6 L1186.1,147.6 L1185.7,140.6 L1183.6,137.8 L1185.4,131.9 L1187.2,128.4 Z M1169.7,157.1 L1173.4,157.5 L1175.9,159.3 L1171.5,159.3 Z M1177.0,157.5 L1184.3,157.8 L1183.6,159.3 L1177.7,159.3 Z M1187.2,158.2 L1193.4,157.5 L1198.8,157.5 L1197.0,158.9 L1189.7,159.3 Z M1184.3,161.7 L1190.8,163.1 L1188.6,164.2 L1184.6,162.8 Z M1200.7,164.2 L1206.1,161.0 L1214.1,157.8 L1211.6,159.6 L1204.3,163.5 Z M1215.6,121.8 L1217.0,124.9 L1219.2,127.4 L1217.0,130.5 L1216.0,126.7 Z M1217.0,138.9 L1227.2,139.2 L1226.2,141.7 L1218.9,140.6 Z M1209.8,139.2 L1214.1,139.9 L1211.6,141.7 L1209.8,141.0 Z M1228.0,131.9 L1233.4,129.8 L1238.9,131.2 L1239.6,137.1 L1242.5,139.9 L1248.0,136.4 L1253.5,134.0 L1263.3,137.1 L1269.8,139.6 L1277.1,141.7 L1282.6,146.6 L1288.0,149.4 L1289.1,151.9 L1291.7,158.2 L1297.2,164.2 L1291.7,164.2 L1286.2,161.7 L1282.6,156.4 L1277.1,154.7 L1273.5,158.2 L1271.7,160.7 L1264.4,160.3 L1260.7,157.1 L1255.3,157.8 L1252.7,154.7 L1253.5,149.4 L1251.6,145.9 L1244.4,144.1 L1238.9,142.0 L1234.5,142.4 L1231.6,138.2 L1229.8,134.7 Z M1291.7,147.6 L1297.2,145.9 L1302.6,143.4 L1305.2,143.1 L1302.6,146.9 L1297.2,150.1 L1291.7,149.4 Z M1300.1,137.1 L1306.3,140.6 L1308.1,144.5 M1313.9,145.9 L1318.3,152.2 L1316.1,151.1 Z M1331.7,161.0 L1336.5,162.8 L1334.3,163.1 Z M1335.7,157.8 L1339.0,162.4 L1337.6,161.7 Z M1357.2,181.4 L1360.1,186.8 L1359.0,184.3 Z M1348.1,200.5 L1359.0,208.7 L1357.2,208.3 Z M1164.3,207.2 L1166.8,206.4 L1175.2,202.3 L1183.6,200.8 L1191.6,197.9 L1195.9,192.3 L1200.7,188.7 L1204.3,185.0 L1206.9,179.6 L1212.7,177.1 L1217.8,181.0 L1222.5,181.0 L1225.1,174.2 L1228.0,171.3 L1233.4,168.5 L1237.1,169.9 L1242.5,171.3 L1249.1,171.3 L1246.2,176.0 L1244.4,181.4 L1251.6,186.1 L1258.2,190.5 L1263.7,190.1 L1266.2,181.4 L1266.6,172.4 L1269.8,166.0 L1272.8,169.9 L1273.5,177.8 L1277.1,178.5 L1280.4,181.4 L1280.0,186.8 L1283.0,194.2 L1288.0,197.9 L1292.8,200.8 L1295.3,207.2 L1300.1,209.5 L1302.6,214.8 M1190.1,62.6 L1195.9,62.6 L1195.2,68.1 L1196.7,71.8 L1193.7,73.6 L1193.4,77.9 L1197.0,79.0 L1202.5,82.6 L1198.8,82.6 L1191.6,79.7 L1190.1,77.2 L1187.9,71.8 L1189.4,68.1 Z M1195.2,103.9 L1200.7,101.1 L1203.2,99.3 L1207.9,94.4 L1211.6,100.4 L1210.9,106.7 L1207.9,108.1 L1206.1,105.7 L1202.5,105.7 L1198.8,102.1 Z M1203.6,84.4 L1207.9,85.1 L1208.7,89.7 L1205.8,92.6 L1203.9,89.0 Z M1195.2,86.9 L1199.2,88.7 L1197.4,91.5 L1194.8,90.5 Z M1197.0,90.5 L1200.7,93.3 L1199.6,96.5 L1196.7,94.0 Z M1189.0,80.8 L1193.4,81.5 L1192.3,85.1 L1190.1,84.0 Z M1177.7,99.3 L1182.5,95.1 L1186.8,89.0 L1185.4,91.2 L1180.6,96.8 Z M1188.6,43.5 L1190.5,49.6 L1191.6,46.6 L1193.0,43.5" fill="none" stroke="#000" stroke-width="1.3" stroke-linejoin="round" stroke-linecap="round"/>
</svg>
<line x1="204.9" y1="43.5" x2="204.9" y2="213.0" stroke="#000" stroke-width="1.4" stroke-dasharray="1.4 1.8"/>
<line x1="314.1" y1="43.5" x2="314.1" y2="213.0" stroke="#000" stroke-width="1.4" stroke-dasharray="1.4 1.8"/>
<line x1="423.3" y1="43.5" x2="423.3" y2="213.0" stroke="#000" stroke-width="1.4" stroke-dasharray="1.4 1.8"/>
<line x1="532.5" y1="43.5" x2="532.5" y2="213.0" stroke="#000" stroke-width="1.4" stroke-dasharray="1.4 1.8"/>
<line x1="641.8" y1="43.5" x2="641.8" y2="213.0" stroke="#000" stroke-width="1.4" stroke-dasharray="1.4 1.8"/>
<line x1="751.0" y1="43.5" x2="751.0" y2="213.0" stroke="#000" stroke-width="1.4" stroke-dasharray="1.4 1.8"/>
<line x1="860.2" y1="43.5" x2="860.2" y2="213.0" stroke="#000" stroke-width="1.4" stroke-dasharray="1.4 1.8"/>
<line x1="969.5" y1="43.5" x2="969.5" y2="213.0" stroke="#000" stroke-width="1.4" stroke-dasharray="1.4 1.8"/>
<line x1="1078.7" y1="43.5" x2="1078.7" y2="213.0" stroke="#000" stroke-width="1.4" stroke-dasharray="1.4 1.8"/>
<line x1="1187.9" y1="43.5" x2="1187.9" y2="213.0" stroke="#000" stroke-width="1.4" stroke-dasharray="1.4 1.8"/>
<line x1="1297.2" y1="43.5" x2="1297.2" y2="213.0" stroke="#000" stroke-width="1.4" stroke-dasharray="1.4 1.8"/>
<line x1="95.5" y1="57.3" x2="1401.5" y2="57.3" stroke="#000" stroke-width="1.4" stroke-dasharray="1.4 1.8"/>
<line x1="95.5" y1="93.6" x2="1401.5" y2="93.6" stroke="#000" stroke-width="1.4" stroke-dasharray="1.4 1.8"/>
<line x1="95.5" y1="128.4" x2="1401.5" y2="128.4" stroke="#000" stroke-width="1.4" stroke-dasharray="1.4 1.8"/>
<line x1="95.5" y1="163.8" x2="1401.5" y2="163.8" stroke="#000" stroke-width="1.4" stroke-dasharray="1.4 1.8"/>
<line x1="95.5" y1="200.1" x2="1401.5" y2="200.1" stroke="#000" stroke-width="1.4" stroke-dasharray="1.4 1.8"/>
<rect x="95.5" y="43.5" width="1306.0" height="169.5" fill="none" stroke="#000" stroke-width="1.5"/>
<rect x="1414.7" y="43.80" width="10.5" height="24.50" fill="#FEFCBC"/>
<rect x="1414.7" y="68.00" width="10.5" height="24.50" fill="#FFFF1E"/>
<rect x="1414.7" y="92.20" width="10.5" height="24.50" fill="#FFB400"/>
<rect x="1414.7" y="116.40" width="10.5" height="24.50" fill="#FF6400"/>
<rect x="1414.7" y="140.60" width="10.5" height="24.50" fill="#FF0000"/>
<rect x="1414.7" y="164.80" width="10.5" height="24.50" fill="#990000"/>
<rect x="1414.7" y="189.00" width="10.5" height="24.50" fill="#3C0000"/>
<rect x="1414.7" y="43.8" width="10.5" height="169.39999999999998" fill="none" stroke="#222" stroke-width="1.3"/>
<line x1="1425.2" y1="43.8" x2="1430.3" y2="43.8" stroke="#222" stroke-width="1.3"/>
<line x1="1425.2" y1="128.5" x2="1430.3" y2="128.5" stroke="#222" stroke-width="1.3"/>
<line x1="1425.2" y1="213.2" x2="1430.3" y2="213.2" stroke="#222" stroke-width="1.3"/>
<text transform="translate(1435.41,51.50) scale(0.9417,1)" font-family="Liberation Sans" font-size="25.5">1.0</text>
<text transform="translate(1434.47,135.40) scale(0.9341,1)" font-family="Liberation Sans" font-size="25.5">0.6</text>
<text transform="translate(1434.24,221.80) scale(0.9611,1)" font-family="Liberation Sans" font-size="25.5">0.3</text>
<text transform="translate(1499.00,135.25) rotate(-90) scale(0.7115,1)" font-family="Liberation Sans" font-size="27">S</text>
<text transform="translate(29.36,59.00) scale(0.9571,1)" font-family="Liberation Sans" font-size="25.5">20°N</text>
<text transform="translate(30.94,97.50) scale(0.9283,1)" font-family="Liberation Sans" font-size="25.5">10°N</text>
<text transform="translate(61.22,134.00) scale(0.9817,1)" font-family="Liberation Sans" font-size="25.5">0°</text>
<text transform="translate(34.91,170.30) scale(0.8876,1)" font-family="Liberation Sans" font-size="25.5">10°S</text>
<text transform="translate(34.13,207.50) scale(0.9021,1)" font-family="Liberation Sans" font-size="25.5">20°S</text>
<text transform="translate(20.80,177.39) rotate(-90) scale(0.9957,1)" font-family="Liberation Sans" font-size="27">Latitude</text>
<text transform="translate(70.12,249.70) scale(0.9899,1)" font-family="Liberation Sans" font-size="25.5">180°</text>
<text transform="translate(167.20,249.70) scale(0.9492,1)" font-family="Liberation Sans" font-size="25.5">150°W</text>
<text transform="translate(275.47,249.70) scale(0.9626,1)" font-family="Liberation Sans" font-size="25.5">120°W</text>
<text transform="translate(391.67,249.70) scale(0.9430,1)" font-family="Liberation Sans" font-size="25.5">90°W</text>
<text transform="translate(499.84,249.70) scale(0.9723,1)" font-family="Liberation Sans" font-size="25.5">60°W</text>
<text transform="translate(611.04,249.70) scale(0.9627,1)" font-family="Liberation Sans" font-size="25.5">30°W</text>
<text transform="translate(740.07,249.70) scale(1.0320,1)" font-family="Liberation Sans" font-size="25.5">0°</text>
<text transform="translate(838.40,249.70) scale(0.9047,1)" font-family="Liberation Sans" font-size="25.5">30°E</text>
<text transform="translate(945.78,249.70) scale(0.9380,1)" font-family="Liberation Sans" font-size="25.5">60°E</text>
<text transform="translate(1055.60,249.70) scale(0.9137,1)" font-family="Liberation Sans" font-size="25.5">90°E</text>
<text transform="translate(1152.65,249.70) scale(0.9235,1)" font-family="Liberation Sans" font-size="25.5">120°E</text>
<text transform="translate(1262.65,249.70) scale(0.9235,1)" font-family="Liberation Sans" font-size="25.5">150°E</text>
<text transform="translate(688.80,282.70) scale(0.9983,1)" font-family="Liberation Sans" font-size="27">Longitude</text>
</g>
<g transform="translate(0,315)">
<svg x="95.5" y="43.5" width="1306.0" height="169.5" viewBox="95.5 43.5 1306.0 169.5" overflow="hidden">
<rect x="95.5" y="43.5" width="1306.0" height="169.5" fill="#FFFF1E"/>
<rect x="95.5" y="43.5" width="1306.0" height="169.5" fill="#FEFCBC"/>
<path fill="#FFFF1E" fill-rule="evenodd" d="M330.4,212.9 330.4,213.4 332.4,213.4 332.1,212.6ZM161.4,212.6 161.4,213.4 163.4,213.4 162.9,212.1ZM372.9,210.1 374.1,209.6 375.4,210.4 373.9,211.1ZM182.6,209.1 183.9,208.1 185.4,208.6 185.1,209.4ZM1092.4,198.4 1095.9,199.6 1097.6,201.4 1102.4,201.4 1104.1,202.1 1104.9,202.9 1104.9,203.9 1103.9,206.1 1106.9,207.6 1109.6,207.6 1110.4,206.9 1110.4,205.4 1109.1,203.4 1109.1,202.6 1110.1,201.6 1112.6,200.6 1115.9,200.6 1116.9,199.9 1116.9,199.1 1115.9,198.4 1112.6,198.1 1109.1,196.6 1102.6,196.6 1101.1,196.1 1095.4,196.4ZM680.6,183.9 680.9,184.4 683.6,184.1 682.4,183.6ZM505.9,181.1 505.9,182.1 504.9,183.1 502.1,182.9 500.9,182.1 501.4,181.4ZM617.9,181.1 617.9,181.9 616.1,182.9 611.6,182.9 610.1,182.1 611.1,180.9 614.4,179.6 616.6,179.9ZM383.9,182.1 386.4,180.1 393.4,178.4 396.4,178.9 404.6,178.4 407.4,179.4 414.4,179.6 416.4,180.4 417.4,181.4 417.1,183.4 417.9,182.9 418.1,181.4 419.4,180.6 424.6,180.6 425.9,181.4 426.6,182.6 426.1,184.6 424.1,187.4 424.1,188.9 425.4,190.9 424.6,194.9 426.4,197.9 424.9,199.9 423.4,200.6 416.4,202.4 409.1,202.6 406.4,203.4 399.9,203.4 397.4,204.1 393.4,203.6 391.9,202.9 388.6,199.1 389.1,198.1 391.9,196.6 391.4,194.1 392.1,193.4 395.1,193.4 399.6,195.1 401.6,195.1 408.4,192.4 409.1,190.9 407.1,189.1 400.4,186.9 396.1,186.9 394.6,187.4 390.6,187.1 384.4,184.1 383.6,183.1ZM681.9,175.1 680.6,174.4 675.4,173.9 674.6,171.4 672.6,169.9 670.4,169.9 666.9,171.1 659.9,171.1 658.4,171.9 662.9,174.1 663.9,175.1 663.1,176.4 660.1,177.6 659.6,178.6 661.4,180.4 662.9,185.6 664.6,186.6 670.6,186.6 670.6,185.6 668.6,183.4 670.4,182.1 674.1,181.4 677.4,179.9 681.6,176.4ZM128.6,167.4 129.6,166.4 131.4,166.9 130.6,167.6ZM670.9,165.9 670.9,166.6 671.6,167.1 672.6,167.1 673.6,166.4 672.9,165.4 671.4,165.4ZM1046.9,154.6 1048.9,154.4 1049.6,155.4 1047.4,155.6ZM362.4,151.4 364.1,150.6 365.4,151.1 365.6,151.9 364.6,152.6 363.4,152.6ZM874.6,163.9 873.1,167.6 871.4,168.4 868.6,171.6 863.1,174.6 858.1,175.6 853.6,177.6 847.9,177.9 844.6,178.6 844.4,179.4 845.1,181.6 843.1,183.9 834.4,183.4 830.6,184.6 825.9,185.1 814.4,184.6 810.1,182.6 804.9,181.6 803.6,179.6 801.1,177.4 801.6,174.1 804.1,170.9 806.1,170.6 807.9,171.6 809.9,171.6 811.4,170.6 811.4,169.9 808.9,167.6 809.6,164.9 809.4,163.4 806.1,162.1 805.1,161.1 805.1,160.4 810.4,158.1 817.4,158.1 818.1,157.4 818.1,155.6 819.4,154.1 826.1,151.4 830.4,151.6 836.9,153.6 838.6,153.6 843.1,152.1 845.6,150.6 850.9,150.9 853.9,150.1 856.9,150.1 859.6,151.4 861.1,152.9 862.4,155.4 861.1,156.9 856.9,158.6 856.1,159.4 856.4,160.6 859.1,161.6 865.6,162.1 870.6,161.6 873.1,162.4ZM387.6,146.4 392.4,141.9 400.1,142.4 403.6,141.6 407.4,141.6 414.6,144.1 421.1,142.9 424.9,142.9 431.9,144.6 433.6,145.9 432.6,148.1 429.1,150.6 429.4,152.1 432.6,152.9 433.6,154.1 432.1,155.4 429.6,155.9 428.6,155.6 426.6,153.6 422.4,152.6 416.9,152.1 413.9,153.1 411.4,153.1 408.1,149.9 405.1,149.9 401.4,150.9 400.4,151.6 399.9,153.1 398.6,153.4 397.4,152.9 395.4,150.4 392.9,149.1 388.6,148.1 387.6,147.1ZM590.4,146.1 589.9,147.1 588.1,147.9 583.6,147.9 582.6,148.6 583.1,150.4 588.1,151.6 589.1,152.6 589.1,153.6 587.6,155.6 583.9,158.4 583.6,162.1 582.6,164.4 580.9,166.1 579.9,168.1 578.1,169.4 574.4,169.9 567.9,168.6 557.1,167.6 552.6,167.9 549.6,166.4 548.9,165.6 548.9,164.4 550.1,162.9 552.6,161.9 552.9,161.1 548.4,160.1 541.1,160.1 539.9,160.6 537.6,162.9 533.9,164.9 527.4,166.1 531.1,167.6 532.4,168.9 533.1,171.1 535.9,172.6 537.4,174.1 536.6,175.6 535.4,176.1 522.4,176.4 518.4,178.4 513.1,178.6 506.1,180.9 505.1,178.9 502.9,177.4 499.6,177.4 496.4,178.6 492.6,178.6 488.9,177.6 487.4,175.9 485.6,171.9 486.1,169.4 485.6,167.4 482.9,164.1 481.6,161.4 481.9,157.1 479.9,154.9 480.4,153.9 485.4,150.1 487.1,149.4 493.9,148.9 495.1,147.9 495.4,145.6 496.4,144.6 501.4,143.1 505.9,142.9 512.9,144.4 516.4,144.1 520.9,142.9 530.4,143.9 535.4,141.9 546.1,140.1 555.9,140.1 560.4,139.4 562.4,143.4 566.4,144.1 568.6,142.9 568.6,140.9 563.1,139.9 562.4,138.9 564.4,137.9 567.4,138.4 568.6,140.4 573.4,140.9 578.6,142.6 584.9,143.6 588.6,144.9ZM964.6,138.6 963.6,139.4 955.9,138.6 953.6,137.9 952.9,136.6 958.1,133.6 961.4,133.1 962.6,134.1 962.9,136.4ZM1081.6,137.6 1081.9,135.9 1084.9,132.6 1087.9,132.6 1092.1,133.6 1094.6,134.6 1096.6,136.4 1095.6,137.4 1088.1,140.6 1085.6,140.4ZM1024.1,138.1 1028.9,136.4 1029.6,133.1 1031.9,131.9 1045.4,131.9 1047.9,132.6 1049.4,134.6 1050.9,135.6 1059.6,135.4 1061.9,137.4 1064.4,140.9 1067.1,141.9 1070.1,141.9 1073.4,140.1 1076.1,140.1 1081.1,144.4 1081.4,146.1 1077.9,147.9 1071.6,148.1 1068.4,150.6 1066.9,150.6 1064.1,147.6 1060.1,146.6 1056.9,144.6 1055.6,142.1 1040.4,139.4 1037.4,139.9 1031.4,139.1 1025.1,139.4ZM354.6,133.9 354.6,134.4 353.6,134.9 348.4,135.6 348.1,136.1 350.1,139.1 346.6,140.9 338.6,140.4 335.4,139.4 332.6,137.4 333.1,135.6 335.1,134.1 339.6,133.9 342.9,134.4 343.4,132.9 345.4,131.6 350.6,131.9 353.1,132.6ZM1312.4,132.9 1312.9,131.6 1315.1,130.1 1327.4,126.9 1331.9,124.4 1335.1,124.1 1336.6,125.1 1336.4,126.6 1334.1,129.4 1334.1,130.4 1335.1,131.1 1339.1,132.1 1341.9,132.1 1346.4,130.6 1348.1,131.1 1350.6,133.6 1355.9,133.6 1358.6,132.9 1364.4,135.1 1369.1,135.6 1369.9,136.1 1369.9,137.4 1368.4,141.4 1366.9,142.4 1358.6,142.1 1355.4,143.6 1352.6,143.6 1350.9,143.1 1349.1,141.4 1347.6,140.9 1339.6,142.1 1338.6,141.4 1338.1,139.1 1336.1,139.1 1332.9,140.6 1330.6,143.6 1325.1,143.6 1319.4,142.1 1318.9,140.6 1319.9,139.1 1319.6,138.4 1317.4,136.1 1313.1,134.4ZM1084.9,123.9 1085.6,123.4 1086.6,124.1 1085.6,124.6ZM1043.6,121.9 1044.1,120.4 1048.6,117.1 1050.1,116.6 1058.9,117.6 1060.1,118.6 1060.1,119.9 1057.1,122.9 1055.6,123.6 1046.1,123.6 1044.4,122.9ZM1209.4,119.1 1210.9,118.1 1215.1,118.4 1217.1,116.9 1223.4,115.4 1231.6,116.6 1234.6,118.4 1237.4,119.1 1240.6,119.1 1243.4,118.1 1245.4,118.1 1246.6,119.1 1246.9,120.6 1243.6,122.4 1243.9,124.4 1243.1,125.4 1240.9,125.4 1233.9,123.1 1229.1,123.1 1225.9,123.9 1225.6,125.4 1224.4,125.9 1220.4,124.4 1214.4,124.4 1212.9,123.4ZM966.1,115.1 966.6,114.6 967.9,115.1 967.1,115.6ZM536.4,109.6 538.1,108.1 542.4,107.6 548.6,110.4 548.9,111.1 544.1,112.1 539.6,112.1 537.4,111.1ZM939.1,109.6 939.9,107.6 940.9,106.6 943.9,106.1 945.9,107.4 945.4,109.1 945.6,110.4 948.4,110.4 958.6,108.4 961.6,108.4 966.6,110.4 967.4,111.1 967.4,112.6 966.1,114.1 962.6,113.9 958.1,115.4 952.1,115.9 948.6,114.6 945.1,111.1 940.9,111.1 939.6,110.6ZM1131.1,97.9 1131.6,97.4 1132.1,97.6 1131.9,98.1ZM1107.9,91.4 1108.9,90.4 1110.1,90.4 1110.9,91.1 1109.4,92.1ZM434.6,86.1 435.1,87.1 437.4,87.1 438.1,86.6 438.1,86.1 437.1,85.6ZM872.4,85.4 872.9,86.4 874.6,86.4 875.1,85.4 874.1,84.9ZM269.6,83.4 267.6,87.6 265.9,88.9 256.9,89.1 253.1,90.4 243.9,88.9 241.1,87.1 238.6,87.1 236.1,88.6 234.6,88.6 229.6,85.9 225.9,84.6 226.4,83.6 230.9,81.9 240.9,80.6 244.9,80.9 247.4,80.1 249.6,78.1 251.4,77.4 257.6,77.1 260.9,77.6 261.9,78.6 262.6,80.9 268.4,82.1ZM684.9,73.6 683.1,75.1 681.4,75.6 680.4,75.1 682.1,73.1 683.9,72.9ZM1190.1,73.1 1192.6,72.6 1194.1,73.9 1193.6,74.4 1191.4,74.4 1190.4,73.9ZM969.9,78.6 967.6,79.9 964.1,79.9 960.4,78.1 947.9,77.6 946.4,77.1 945.6,75.9 947.4,74.6 951.4,74.6 955.4,73.1 958.4,72.9 962.1,70.9 965.9,70.9 969.4,73.6 969.6,74.4 968.1,76.6ZM680.4,95.9 680.6,93.4 681.9,92.1 684.1,91.1 687.4,87.6 692.9,85.6 695.6,85.6 697.1,86.4 697.6,87.4 693.4,90.6 693.1,92.1 696.4,94.6 698.9,94.9 701.6,94.4 701.9,96.1 702.6,96.9 709.6,98.6 713.4,98.4 716.6,97.1 717.6,96.1 717.6,95.1 716.6,94.1 714.6,93.6 706.9,93.9 705.6,93.4 705.1,92.1 706.1,90.6 705.9,89.1 700.6,87.4 698.4,82.9 700.9,80.4 703.1,79.4 711.1,79.6 713.4,79.1 715.1,78.1 713.6,76.1 713.6,75.1 714.6,74.1 720.9,72.6 724.4,70.6 728.9,71.1 730.9,74.1 735.1,75.6 736.6,77.9 741.4,78.4 742.1,79.4 740.1,80.1 739.1,81.1 740.1,82.6 741.4,82.6 744.6,80.9 757.1,80.6 764.9,79.1 767.6,79.4 770.6,80.9 773.9,80.9 777.1,79.9 779.6,79.9 783.1,80.9 788.1,79.9 795.4,80.6 797.9,79.4 805.9,80.4 813.1,79.1 825.6,79.4 831.6,81.1 836.9,81.1 843.6,77.9 849.4,78.6 851.9,80.4 853.1,80.4 853.4,79.1 852.6,78.4 852.6,77.4 859.1,72.6 863.9,72.4 867.6,74.4 871.1,74.6 874.6,72.4 881.9,72.1 884.4,70.9 889.4,71.4 894.4,74.1 897.4,75.1 895.9,77.6 892.6,80.1 892.9,81.1 894.1,82.1 894.1,83.4 892.4,84.9 887.4,87.4 885.6,89.4 885.4,90.9 884.4,92.1 880.6,92.4 878.6,93.1 878.4,94.4 878.9,95.6 876.9,97.1 873.1,98.1 870.4,98.1 867.1,97.4 864.9,95.9 862.9,95.9 862.9,97.9 861.9,99.9 862.4,102.6 861.4,103.4 851.6,104.1 848.1,102.9 845.6,102.9 839.6,106.1 837.9,106.1 836.1,104.9 832.6,104.9 830.9,105.6 830.9,106.4 833.9,107.1 828.4,109.4 826.6,109.1 824.1,107.4 818.9,106.4 816.4,104.9 814.4,104.4 808.9,105.6 805.1,105.6 800.9,103.4 797.4,103.6 795.1,105.1 790.6,103.9 787.1,103.6 785.9,103.1 783.4,100.6 775.1,97.4 770.4,97.4 765.6,99.4 762.6,99.1 758.6,97.9 751.1,99.1 742.1,99.1 737.4,96.4 732.9,96.1 724.1,98.4 719.4,101.1 715.4,102.4 713.9,104.1 714.1,105.4 716.1,106.6 717.1,106.6 719.1,104.6 720.4,104.1 724.4,104.4 730.1,108.6 731.1,110.1 730.1,111.6 727.1,112.6 716.6,112.1 711.9,110.9 707.6,108.9 695.1,107.6 688.4,106.1 684.4,102.4 683.9,100.6 681.1,98.1ZM917.1,66.4 919.1,65.1 924.1,64.9 927.6,65.9 928.9,67.9 928.4,68.6 926.4,69.4 921.1,69.4 918.6,68.1ZM768.6,67.4 763.9,70.1 761.6,70.4 755.9,69.1 751.4,67.1 747.9,66.6 747.1,65.9 748.1,65.1 761.4,64.4 766.4,65.9ZM348.4,84.4 350.9,81.9 355.4,79.9 364.6,78.4 367.1,76.4 372.4,74.1 373.1,73.4 373.1,72.4 371.6,70.9 371.4,69.6 372.6,68.1 376.9,65.4 376.6,63.1 377.6,62.1 378.9,61.9 382.6,62.9 386.4,63.1 394.9,61.6 403.1,61.1 406.1,63.6 411.1,63.9 413.4,61.9 414.6,61.6 416.4,62.6 416.1,64.9 416.9,65.6 420.1,66.4 421.6,67.6 421.6,68.4 420.4,69.4 415.4,71.4 415.6,72.1 418.9,72.6 421.6,74.1 421.6,75.1 418.4,76.6 417.6,78.1 420.9,78.1 424.1,76.4 425.9,76.4 426.9,77.1 426.6,79.6 428.1,80.9 433.9,79.9 440.9,80.4 445.6,84.1 448.4,87.4 451.4,88.4 453.4,90.6 454.4,90.9 461.1,90.1 468.6,90.4 471.4,88.4 474.1,88.6 476.1,90.1 474.4,98.1 476.6,99.6 475.4,100.9 474.6,103.4 473.4,105.1 467.6,108.1 464.6,107.9 460.1,104.6 458.1,104.9 456.1,107.6 453.1,107.6 449.9,106.4 443.4,106.1 441.1,105.4 427.1,105.4 419.6,104.4 415.1,104.9 409.9,102.9 406.9,100.9 403.4,101.6 398.6,101.6 394.4,100.4 389.1,100.1 382.4,97.6 369.4,94.4 368.6,93.4 371.1,91.1 369.9,89.6 364.4,88.9 356.9,89.1 354.1,86.9 349.1,85.4ZM1192.1,64.4 1192.1,66.1 1190.9,67.4 1186.9,68.1 1181.4,71.6 1173.4,74.1 1174.6,75.4 1175.9,75.4 1178.4,73.9 1182.1,74.4 1184.6,77.4 1183.4,78.4 1180.9,79.1 1179.4,79.1 1175.4,76.9 1173.1,77.6 1169.6,77.4 1165.9,74.6 1162.9,74.1 1154.9,71.1 1147.6,66.1 1148.4,64.9 1151.6,63.9 1160.1,64.1 1166.1,61.6 1177.4,61.1 1182.4,60.1 1185.9,60.1 1188.4,60.9 1190.1,61.9ZM333.1,58.1 332.4,59.1 329.4,60.6 328.9,61.6 328.9,63.1 329.6,64.4 329.4,66.1 326.6,68.6 321.4,69.1 318.4,70.1 310.6,69.9 308.4,70.9 307.6,72.9 306.1,74.4 303.4,75.1 297.9,75.1 293.9,76.4 287.1,76.1 283.1,76.6 281.6,75.9 283.4,74.6 288.1,74.6 294.9,73.1 297.4,70.1 300.1,69.1 299.4,66.6 300.6,65.4 303.4,64.4 308.9,63.9 312.6,62.6 316.6,62.4 317.6,61.6 317.6,59.9 318.9,58.6 322.6,56.6 327.6,56.1 332.1,57.1ZM663.9,57.4 655.9,61.6 648.1,62.1 644.9,61.1 640.4,56.9 641.4,54.4 643.1,53.6 651.1,53.9 659.4,53.4 661.4,54.1 663.9,56.6ZM622.4,53.4 622.6,53.9 623.9,53.6ZM549.1,56.4 548.9,57.6 547.1,58.6 540.9,57.9 539.6,56.9 539.6,53.9 545.6,51.6 547.1,52.9ZM1372.9,61.4 1372.9,62.1 1369.6,64.6 1370.4,65.9 1369.9,67.4 1366.4,69.9 1363.6,70.6 1351.9,69.9 1347.4,67.9 1344.1,68.4 1341.9,69.4 1340.6,71.1 1338.1,72.4 1336.4,74.1 1331.1,74.9 1330.1,76.4 1332.4,77.1 1333.4,78.1 1333.4,79.1 1332.6,79.9 1326.4,81.4 1322.1,81.1 1318.1,78.6 1315.6,78.6 1313.6,79.4 1307.4,79.4 1299.9,81.9 1296.9,81.9 1295.6,81.1 1295.6,80.4 1297.6,77.9 1296.4,77.1 1293.1,77.4 1290.9,78.1 1289.4,79.4 1289.4,80.4 1291.4,81.9 1291.1,82.6 1286.1,83.4 1284.4,84.4 1284.4,85.1 1285.9,86.9 1285.1,87.6 1283.1,87.4 1281.9,85.6 1280.6,85.1 1276.1,84.9 1273.6,85.9 1269.4,86.4 1264.4,89.4 1252.9,88.4 1251.4,88.9 1249.4,90.9 1248.1,91.1 1246.4,90.6 1244.9,88.9 1239.1,86.6 1234.1,88.6 1226.1,88.1 1222.4,89.1 1218.9,89.1 1213.4,88.1 1209.9,86.1 1209.1,85.1 1210.9,83.1 1214.9,82.6 1216.1,81.9 1216.6,79.6 1216.1,76.9 1217.9,75.1 1224.9,72.6 1225.4,71.4 1222.9,68.4 1225.9,66.1 1226.4,64.9 1225.1,63.9 1222.4,63.1 1221.9,61.9 1224.4,59.1 1223.9,56.9 1225.9,55.4 1228.1,54.9 1239.6,55.6 1243.6,54.1 1252.1,53.6 1255.9,55.6 1258.4,55.9 1260.9,54.9 1266.6,55.4 1276.1,52.4 1285.6,53.6 1289.6,51.6 1292.9,51.9 1297.6,50.9 1305.9,50.6 1311.6,52.4 1316.4,51.6 1319.9,52.4 1325.1,52.4 1326.4,53.1 1326.6,54.9 1327.4,55.4 1328.6,55.4 1330.9,54.1 1339.4,54.6 1342.6,54.1 1354.9,54.1 1360.4,53.4 1365.9,56.1 1367.1,57.4 1367.1,58.9 1367.6,59.4 1371.6,60.4ZM95.1,43.1 95.1,206.4 97.9,206.4 101.6,207.6 107.1,208.4 110.9,211.1 110.6,213.4 148.4,213.4 148.6,212.1 151.6,209.6 156.1,208.6 158.4,206.9 161.1,205.9 181.1,209.1 181.9,209.6 182.6,213.4 249.4,213.4 249.4,212.1 250.6,211.1 253.1,211.1 256.9,209.6 261.4,209.4 265.1,206.9 270.1,205.4 270.4,202.9 272.6,201.4 283.4,200.6 288.6,198.4 296.1,198.6 301.1,197.6 309.6,198.1 316.4,196.6 330.1,195.6 331.4,195.1 332.6,193.6 332.6,192.6 331.6,192.1 330.9,190.9 334.1,189.6 349.4,190.4 349.9,191.4 346.6,193.1 345.9,194.1 346.6,195.1 348.6,195.9 349.6,196.9 349.6,199.6 353.1,203.4 351.6,204.6 349.6,204.6 347.6,203.4 346.1,203.1 345.1,203.4 343.9,204.9 337.6,206.1 331.6,206.6 330.9,207.4 331.6,209.1 333.1,209.9 338.1,210.6 339.1,211.6 339.4,213.4 644.9,213.4 643.9,209.4 640.4,207.4 638.9,205.9 639.6,204.4 642.9,201.4 642.6,200.1 640.9,199.1 637.1,199.1 634.4,198.1 630.6,193.9 630.4,190.9 632.9,187.9 629.9,183.6 629.6,182.4 632.1,181.6 638.9,182.9 642.6,181.9 647.1,181.9 650.4,180.6 645.4,178.1 645.4,177.4 646.4,176.4 646.1,170.6 644.4,168.1 645.1,165.4 643.4,164.4 638.1,163.4 638.1,162.1 639.4,161.1 648.4,159.1 651.6,159.1 656.1,161.4 659.9,161.9 662.9,159.6 665.6,158.6 668.1,158.6 669.1,159.1 670.1,161.9 671.4,162.9 677.4,162.6 679.4,163.4 682.9,165.9 681.6,167.4 681.6,168.4 683.4,169.6 686.6,169.9 690.4,168.6 696.6,168.6 705.9,169.9 708.4,171.4 716.1,171.1 718.4,172.4 719.9,174.4 718.4,175.6 712.4,175.9 709.1,177.9 706.6,177.9 704.4,177.1 700.9,177.4 700.1,178.1 700.4,180.1 699.4,181.1 694.6,182.9 694.4,183.9 696.6,185.9 696.6,186.9 695.6,187.9 690.6,189.9 687.4,192.6 682.9,194.4 681.1,195.9 679.4,195.9 673.4,193.4 667.6,195.1 663.4,194.1 659.9,194.9 657.6,196.9 657.6,197.9 659.9,199.1 660.6,200.4 658.9,201.4 654.6,202.1 653.9,202.9 654.4,203.6 655.9,204.1 664.4,204.9 665.4,205.6 664.6,206.9 660.6,208.6 659.6,213.4 1050.6,213.4 1050.6,211.9 1049.6,210.6 1044.4,209.1 1040.1,205.9 1040.1,204.9 1041.6,203.4 1044.9,201.4 1042.4,199.1 1042.4,196.9 1041.4,195.6 1041.6,194.1 1044.1,190.4 1052.9,188.4 1057.9,188.1 1061.6,188.9 1068.9,192.1 1072.6,192.4 1077.6,191.9 1079.9,190.9 1081.1,188.1 1082.4,187.4 1092.6,184.9 1093.4,184.1 1092.9,181.4 1095.9,179.1 1101.4,177.4 1112.1,176.6 1115.1,178.4 1120.9,179.1 1127.9,181.4 1134.1,182.4 1136.9,184.1 1136.6,185.6 1134.9,187.6 1134.9,188.1 1137.9,189.4 1147.6,189.1 1150.4,189.6 1153.1,191.1 1153.4,192.6 1152.9,194.6 1153.4,195.1 1155.1,195.4 1158.4,193.9 1160.9,193.9 1161.9,194.9 1161.4,197.4 1162.4,198.1 1169.9,198.6 1172.1,199.4 1172.6,200.6 1169.1,204.4 1170.4,206.6 1170.4,207.6 1168.4,213.4 1230.9,213.4 1230.4,211.9 1226.9,210.6 1225.6,209.6 1229.9,207.1 1230.4,205.6 1231.4,204.9 1234.6,204.9 1235.9,205.4 1237.6,207.6 1246.9,211.6 1247.9,212.6 1247.9,213.4 1285.1,213.4 1285.6,211.4 1284.6,209.9 1284.6,208.6 1286.4,207.1 1289.4,205.9 1290.6,206.1 1292.6,208.1 1297.6,209.4 1298.4,210.6 1298.4,213.4 1318.4,213.4 1318.9,210.1 1315.1,208.4 1314.9,207.4 1315.4,206.9 1318.4,206.4 1321.4,208.4 1323.1,208.6 1324.6,208.1 1326.1,205.6 1327.4,204.6 1330.6,205.6 1331.6,206.6 1332.9,210.1 1336.1,212.6 1336.1,213.4 1345.6,213.4 1345.9,210.6 1351.6,206.9 1355.9,206.9 1358.6,207.9 1364.9,207.4 1367.4,208.9 1367.9,210.9 1371.1,211.9 1371.6,213.4 1401.9,213.4 1401.9,43.1 1117.1,43.1 1116.9,45.1 1115.9,46.1 1113.6,46.9 1113.6,47.4 1114.4,48.1 1118.1,49.4 1119.4,50.6 1119.4,52.9 1120.1,53.6 1126.4,55.4 1135.6,56.9 1136.9,57.6 1132.9,59.4 1132.9,62.1 1132.1,63.4 1136.4,66.6 1136.4,67.6 1135.1,69.1 1130.9,71.9 1130.9,72.9 1133.6,74.4 1134.9,75.6 1135.1,76.9 1134.4,77.9 1130.9,79.1 1130.4,80.4 1134.1,81.6 1134.6,82.4 1130.9,86.9 1126.1,86.9 1121.4,85.9 1117.9,85.9 1109.9,89.4 1103.1,88.6 1096.9,89.9 1092.6,91.4 1090.4,91.1 1089.1,88.6 1086.9,87.4 1080.6,88.4 1072.6,86.6 1067.6,83.9 1063.1,84.4 1058.9,83.9 1057.9,83.4 1056.9,81.9 1057.9,81.1 1061.6,80.1 1061.6,78.9 1060.4,78.4 1054.1,78.4 1051.6,77.4 1050.4,77.6 1048.6,80.1 1043.4,84.1 1041.1,85.1 1033.9,85.4 1023.4,88.4 1013.1,88.1 1010.6,87.1 1004.1,82.1 1004.1,81.1 1008.6,77.1 1008.6,76.1 1006.9,75.4 1000.9,75.6 997.6,74.9 995.4,73.1 995.4,71.4 994.9,70.9 984.1,66.6 982.9,65.6 984.6,63.9 992.4,63.6 995.6,62.4 996.9,60.9 998.6,60.1 1008.4,58.4 1008.6,57.6 1006.9,56.1 1006.9,52.6 1002.9,50.9 1001.4,48.6 1003.6,46.9 1011.1,44.1 1011.4,43.1 1002.6,43.1 1002.6,43.6 1000.6,45.1 997.4,44.9 996.4,44.1 996.1,43.1 860.6,43.1 861.4,45.6 860.9,47.1 856.6,50.4 854.1,53.1 846.4,53.6 840.4,53.1 835.6,54.6 832.6,54.6 830.6,52.4 829.1,51.9 821.1,51.9 813.4,49.4 809.4,49.4 804.1,51.6 795.1,51.6 791.6,50.1 790.6,49.1 790.6,47.9 792.6,46.1 792.6,45.4 790.9,43.1 788.1,43.1 787.6,44.1 786.1,44.6 783.9,44.1 783.6,43.1 700.6,43.1 700.1,44.9 698.6,46.6 693.1,49.9 689.4,50.6 685.9,50.1 683.4,50.4 681.6,51.1 678.9,53.6 675.9,53.1 674.6,52.1 677.4,49.9 677.4,48.1 678.4,46.9 681.4,45.9 681.4,43.1 645.4,43.1 644.9,45.4 643.9,46.9 640.4,48.4 638.1,50.6 632.4,53.6 627.4,54.6 623.6,56.1 619.6,56.1 618.1,55.6 617.4,54.4 615.9,53.4 610.4,53.4 610.4,55.9 607.9,58.4 606.4,61.6 604.6,62.4 599.4,62.9 600.9,63.9 605.1,65.1 606.6,66.4 606.6,67.6 605.1,69.1 599.9,70.6 595.1,70.1 587.4,67.1 586.4,66.1 586.4,64.9 587.6,63.1 590.9,61.9 590.4,59.1 588.6,58.4 585.4,58.6 584.1,58.1 582.1,56.1 581.4,53.9 578.1,51.9 576.4,50.1 570.6,48.6 569.9,47.9 569.9,46.9 571.6,44.4 571.6,43.1 405.4,43.1 405.9,44.1 408.1,45.4 408.4,46.9 407.6,49.4 402.9,53.6 400.4,53.4 393.6,50.1 388.1,44.6 387.9,43.1 165.9,43.1 166.4,44.6 171.1,47.1 168.6,49.9 169.6,52.4 169.4,52.9 166.9,53.9 167.6,54.6 169.6,54.9 170.6,55.9 170.6,56.9 169.4,58.1 165.6,59.9 163.1,62.4 160.9,63.4 149.9,61.6 147.4,61.6 144.6,62.6 140.9,62.6 135.6,60.6 134.6,59.6 133.9,56.9 131.1,55.1 134.4,53.6 135.9,51.9 133.9,47.9 133.9,46.6 134.9,45.1 134.9,43.1Z"/>
<path fill="#FFB400" fill-rule="evenodd" d="M1020.6,188.9 1021.1,190.1 1024.1,190.1 1024.1,189.4 1022.9,188.4 1021.1,188.4ZM1229.6,190.6 1229.6,191.4 1233.4,194.4 1239.9,196.1 1241.1,197.1 1240.4,198.4 1237.9,199.9 1238.1,200.6 1244.4,201.6 1250.1,205.1 1256.9,207.6 1260.6,211.4 1260.6,213.4 1268.6,213.4 1268.9,211.4 1269.6,210.6 1274.4,209.6 1276.1,208.1 1276.1,205.6 1277.1,203.9 1275.4,201.4 1274.9,198.9 1270.6,197.1 1264.9,192.9 1264.1,190.6 1263.1,189.9 1257.9,188.4 1253.6,189.6 1245.9,189.1 1241.6,189.9 1240.1,188.9 1240.1,187.1 1238.4,186.4ZM1329.9,183.9 1330.9,184.9 1332.4,184.6 1331.9,183.9ZM1052.1,170.4 1053.1,171.1 1054.6,170.9 1054.4,170.1ZM95.1,169.6 95.1,172.1 96.6,172.1 98.4,171.1 98.4,170.4 97.6,169.9ZM1082.6,168.4 1077.9,168.6 1075.6,170.6 1073.4,171.4 1066.6,170.6 1065.1,171.1 1064.9,172.1 1070.1,176.9 1072.4,177.1 1075.6,175.6 1081.9,174.6 1082.4,172.9 1081.6,170.4ZM100.6,161.4 103.1,161.6 104.4,160.6 102.1,160.1 100.9,160.6ZM1314.9,157.9 1301.1,157.6 1296.9,159.4 1293.9,159.9 1287.6,163.9 1286.1,163.9 1284.9,162.9 1283.4,160.4 1280.9,159.4 1278.1,159.4 1274.9,160.9 1269.9,161.6 1271.4,162.6 1276.4,163.1 1277.9,164.1 1277.6,165.6 1275.9,167.6 1277.4,175.9 1276.1,177.9 1272.9,180.9 1274.4,183.1 1274.6,186.1 1277.9,188.6 1278.6,192.4 1282.9,196.1 1290.1,197.4 1292.6,196.9 1296.9,194.6 1301.1,194.4 1307.1,194.9 1315.6,191.4 1316.1,190.9 1315.4,189.4 1315.9,185.6 1313.9,184.1 1313.4,183.1 1313.6,181.9 1314.9,180.6 1319.6,180.6 1317.4,179.1 1316.9,176.6 1312.4,173.6 1312.4,172.9 1318.6,168.4 1317.4,166.1 1317.6,162.9 1315.1,159.6ZM270.4,157.1 272.4,158.9 274.4,158.6 276.6,157.4 273.4,156.4ZM1401.9,198.6 1401.9,182.4 1399.4,182.1 1397.1,180.4 1397.9,179.4 1401.9,179.1 1401.9,175.4 1397.6,175.1 1394.6,176.6 1392.6,176.6 1386.9,175.4 1385.6,174.4 1385.1,173.1 1386.4,170.6 1389.4,168.1 1391.9,168.1 1393.6,168.9 1394.4,169.9 1394.4,170.9 1395.4,171.6 1401.9,170.9 1401.9,150.1 1398.9,149.9 1394.6,148.4 1387.1,148.9 1385.1,149.4 1383.4,151.4 1381.1,152.4 1374.4,153.4 1369.4,153.4 1366.1,155.1 1361.6,156.6 1350.6,157.4 1345.9,158.6 1345.1,157.4 1346.4,156.4 1348.9,155.6 1349.1,154.9 1345.1,152.1 1342.1,151.1 1335.1,150.6 1332.9,151.6 1326.1,151.1 1322.6,151.9 1315.9,151.9 1314.4,152.4 1314.4,153.1 1317.1,156.9 1320.6,159.1 1336.6,159.1 1340.4,160.4 1345.9,159.4 1347.6,160.9 1348.1,162.9 1347.1,163.9 1338.6,167.6 1335.9,169.4 1332.6,169.6 1328.6,168.9 1326.1,169.9 1330.6,173.1 1332.6,175.6 1333.6,178.4 1338.1,180.1 1338.4,180.6 1336.6,183.1 1337.4,184.4 1340.9,187.1 1342.4,187.6 1348.9,187.1 1353.6,188.6 1358.6,188.6 1365.6,190.4 1367.9,192.9 1372.4,194.4 1374.4,196.4 1376.6,197.4 1383.1,197.4 1386.1,198.4 1392.1,198.9ZM1041.4,145.6 1042.9,146.4 1046.1,145.9 1044.4,144.9ZM982.6,143.9 983.1,144.9 985.4,145.1 986.9,144.1 986.9,143.4 984.1,143.1ZM629.1,145.1 633.1,143.1 642.6,143.1 643.9,143.9 642.9,145.4 643.1,146.9 644.9,148.1 646.4,150.1 644.9,151.1 641.9,151.1 640.1,149.9 639.6,148.4 638.6,147.6 631.9,147.6 630.1,146.9 629.1,145.9ZM910.9,132.4 912.1,131.9 913.6,132.9 911.9,133.4ZM1241.6,136.4 1241.9,137.1 1245.4,138.9 1246.6,140.1 1246.6,141.1 1248.6,142.4 1254.1,141.9 1261.1,138.4 1264.9,138.9 1274.9,145.6 1277.1,147.9 1277.6,150.1 1286.4,152.4 1294.6,152.6 1298.6,151.4 1299.4,149.9 1298.6,146.1 1296.9,144.1 1297.1,139.9 1291.4,136.4 1291.4,135.6 1294.4,133.1 1294.1,132.1 1292.6,131.1 1289.6,131.1 1286.6,132.1 1283.4,131.1 1280.4,131.1 1271.1,133.4 1267.4,133.4 1255.6,131.1 1246.6,131.4 1246.1,131.9 1246.6,134.4ZM793.9,131.1 794.9,131.4 794.9,130.9ZM1167.6,130.4 1168.4,129.6 1169.6,130.1 1168.9,130.6ZM552.6,121.4 553.6,120.6 555.1,120.9 556.1,121.6 556.1,122.6 553.6,123.1 552.6,122.1ZM1342.6,116.4 1343.6,117.1 1346.9,116.9 1346.9,116.1 1345.9,115.6ZM680.6,153.9 681.1,157.4 681.9,158.6 682.9,159.1 688.4,159.1 692.6,161.4 695.6,162.1 698.9,162.4 703.1,161.6 712.9,161.1 715.6,161.4 719.1,162.6 729.4,162.6 730.4,163.6 730.9,165.6 732.9,166.4 738.1,166.9 742.1,169.1 744.6,172.6 745.1,175.6 746.6,176.9 749.6,177.6 750.6,178.6 750.9,180.4 752.1,182.4 751.4,183.6 748.9,184.4 743.4,184.4 738.9,185.4 734.9,185.4 731.6,184.6 722.1,184.1 717.6,185.9 712.6,186.1 709.4,187.1 704.6,187.6 699.9,191.4 699.6,193.9 698.6,195.1 694.6,196.4 692.4,198.1 693.9,199.9 694.1,201.4 692.9,202.6 689.6,204.1 687.1,207.4 683.4,209.1 677.9,208.9 675.9,210.4 675.9,211.4 676.6,212.1 680.1,212.1 680.9,213.4 768.4,213.4 768.1,211.4 766.1,209.9 765.1,208.4 766.4,207.6 771.6,206.9 772.6,205.4 771.6,202.6 773.9,199.6 775.4,199.1 782.6,199.4 785.4,201.1 785.1,204.1 785.6,206.6 784.9,208.1 785.1,209.6 786.1,210.9 788.6,211.6 789.4,212.4 789.4,213.4 919.9,213.4 919.6,212.4 917.4,210.1 917.6,205.6 915.6,203.1 909.6,199.1 907.6,196.4 903.9,194.4 899.9,193.4 895.6,190.4 895.6,189.6 897.1,188.1 896.4,187.1 893.6,186.9 890.9,185.4 882.1,185.4 874.9,184.4 867.6,185.6 860.1,185.6 854.6,187.9 853.1,190.4 849.6,193.4 847.9,194.1 840.9,194.9 839.9,196.1 839.9,197.6 838.6,198.9 835.9,199.4 833.9,197.4 830.4,196.4 826.4,194.1 819.6,193.9 812.9,191.4 809.9,187.9 806.4,186.4 804.6,184.9 796.4,182.9 793.6,181.6 791.9,179.6 792.1,178.1 794.1,174.6 793.6,171.6 794.6,169.1 793.4,167.1 791.4,165.4 786.1,162.4 780.6,162.1 778.9,161.4 777.9,160.4 777.4,158.1 776.1,156.6 770.1,154.4 768.4,150.6 769.6,147.6 769.6,145.1 768.9,144.4 766.4,143.4 763.6,143.4 760.4,144.6 757.4,144.4 755.1,142.1 754.4,140.1 750.6,136.9 750.4,133.4 752.6,131.9 752.6,131.4 748.4,127.6 740.9,126.1 738.4,124.4 734.4,122.6 733.1,121.4 734.1,119.9 734.1,119.1 733.4,118.6 722.6,118.9 709.1,118.4 702.6,115.6 699.4,115.9 696.9,116.9 696.6,118.4 697.4,119.9 700.4,121.4 703.9,122.4 709.9,122.4 713.4,123.6 717.9,122.4 720.9,122.4 724.1,123.4 729.1,126.4 733.9,127.6 734.6,129.1 732.9,131.1 732.6,136.9 731.6,137.6 727.6,138.1 724.4,139.9 720.6,140.6 717.1,142.6 713.6,143.4 708.9,146.9 701.4,149.4 693.9,150.9 689.1,150.9 681.9,152.9ZM763.9,116.4 764.6,117.1 767.4,117.6 768.4,119.4 768.4,123.4 765.9,125.9 765.9,126.9 768.6,128.6 777.4,131.4 780.4,131.4 789.9,128.9 791.4,128.1 793.9,125.1 804.6,119.9 805.6,118.4 805.1,116.6 801.4,114.9 797.4,116.4 786.6,116.1 783.1,114.1 780.1,113.6 775.4,114.1 773.6,116.4 771.9,117.1 768.1,117.4 765.4,116.1ZM1107.1,109.4 1108.6,109.4 1109.9,110.4 1110.6,113.1 1109.6,114.4 1108.1,114.6 1106.4,113.6 1106.4,110.1ZM527.4,110.6 526.9,108.4 526.1,107.9 516.1,108.6 513.9,110.1 513.9,110.9 515.9,112.1 520.1,111.9 523.9,112.6 526.1,112.4ZM882.6,112.1 882.4,111.4 881.1,110.6 876.9,110.1 875.1,109.4 872.1,105.6 869.9,105.4 866.6,107.1 860.9,108.4 857.9,111.6 847.6,115.4 846.6,116.6 846.4,119.4 845.6,120.1 841.6,120.4 840.6,120.9 840.4,122.1 841.6,123.1 844.6,123.9 851.9,123.4 855.9,124.6 862.6,124.6 864.9,123.6 866.9,120.6 875.1,117.4 877.6,114.6 881.4,113.6ZM956.1,98.9 953.9,100.9 951.6,100.9 949.6,99.4 950.6,98.6 954.9,97.9ZM1263.4,101.4 1265.4,104.9 1266.9,105.9 1277.9,107.4 1283.1,109.4 1291.1,108.6 1294.4,110.9 1296.4,113.4 1301.6,114.9 1305.4,114.9 1308.9,112.1 1315.1,110.9 1321.4,108.4 1332.1,110.4 1333.4,111.4 1333.6,112.6 1338.1,112.9 1342.9,113.9 1350.9,112.4 1354.6,112.9 1358.6,114.4 1364.4,115.1 1370.9,117.6 1371.4,118.4 1367.6,121.4 1368.6,124.6 1377.4,131.9 1381.1,133.4 1383.1,134.9 1387.6,135.1 1392.9,134.6 1396.4,135.1 1399.1,133.1 1401.9,132.9 1401.9,115.6 1396.9,116.6 1394.1,116.6 1392.1,116.1 1389.9,114.4 1388.4,114.4 1384.1,115.9 1376.9,115.9 1374.6,115.1 1373.4,113.9 1374.6,111.4 1377.6,109.4 1383.6,110.1 1393.1,109.6 1401.9,110.1 1401.9,95.1 1379.6,95.4 1371.9,94.9 1368.9,95.6 1355.4,95.9 1350.9,94.9 1341.6,94.4 1338.9,95.1 1320.1,96.9 1315.9,96.9 1312.4,95.9 1304.9,95.4 1301.1,94.4 1293.9,95.4 1281.9,95.1 1274.1,96.4 1269.9,99.6 1265.4,100.1ZM1097.6,99.6 1096.4,100.9 1094.4,104.6 1094.4,105.6 1099.4,108.1 1100.1,110.9 1103.6,114.1 1103.4,116.1 1103.9,116.9 1107.1,117.9 1110.4,117.9 1113.1,118.9 1114.1,119.9 1113.6,120.6 1112.1,121.1 1108.4,121.1 1105.4,121.9 1103.9,123.4 1105.1,124.6 1109.9,124.4 1110.4,124.9 1110.1,127.6 1110.9,129.9 1108.6,132.4 1109.1,133.1 1114.4,135.4 1115.6,137.1 1113.9,138.4 1111.4,139.1 1102.9,139.4 1100.4,142.1 1095.9,144.6 1091.6,145.9 1091.4,146.9 1094.6,150.4 1089.6,154.9 1090.1,155.4 1093.6,156.1 1100.1,160.1 1105.9,160.6 1107.6,161.4 1109.1,164.9 1111.4,167.1 1110.1,168.9 1111.4,170.1 1113.4,169.6 1113.4,168.6 1112.4,167.4 1114.1,166.6 1118.4,166.6 1124.9,167.6 1126.6,168.9 1127.9,171.4 1131.9,173.1 1133.6,175.1 1136.9,176.9 1140.6,179.9 1153.1,179.9 1155.4,181.1 1155.9,184.4 1157.4,185.6 1161.6,186.4 1163.9,187.4 1166.6,187.4 1169.1,186.6 1173.1,186.9 1174.1,187.9 1171.9,189.6 1171.6,190.6 1174.6,195.4 1177.4,196.6 1183.4,195.6 1185.6,196.1 1187.4,199.9 1186.1,202.6 1187.6,204.1 1190.1,204.6 1192.6,205.9 1196.9,206.4 1199.4,207.4 1204.4,205.6 1204.1,205.1 1198.9,205.4 1197.9,204.6 1197.9,203.9 1199.4,202.6 1203.1,201.9 1205.4,200.1 1205.6,198.4 1202.6,195.6 1202.1,193.4 1206.6,190.9 1205.6,189.1 1199.9,189.1 1196.6,187.4 1191.1,186.4 1187.1,186.4 1183.4,187.4 1183.1,186.6 1184.6,185.6 1189.6,184.9 1191.1,183.9 1189.4,182.4 1190.9,180.1 1188.6,178.4 1179.9,175.6 1176.6,175.9 1173.9,177.1 1170.4,176.9 1168.9,175.9 1168.1,173.1 1166.9,171.1 1162.9,168.6 1155.1,168.9 1149.6,168.4 1148.4,167.6 1149.9,165.6 1149.4,164.1 1142.9,160.9 1137.9,160.4 1134.6,157.9 1128.6,157.1 1120.6,157.4 1119.9,155.9 1121.6,153.6 1121.6,151.4 1122.9,149.6 1122.9,148.6 1119.4,146.6 1118.4,145.1 1122.4,141.4 1126.6,142.1 1129.9,141.6 1130.6,140.9 1130.6,138.9 1135.9,135.6 1136.4,131.9 1137.4,129.4 1137.4,126.9 1139.6,125.4 1142.6,124.6 1148.9,124.9 1153.6,128.4 1153.4,130.6 1153.9,131.1 1160.1,132.9 1164.6,135.6 1171.1,135.6 1175.6,133.4 1183.4,133.6 1185.9,134.1 1188.6,136.4 1189.1,137.9 1187.6,139.9 1188.6,141.1 1190.4,141.9 1193.4,139.1 1196.9,138.6 1198.4,139.1 1200.6,141.9 1202.1,142.4 1214.1,142.1 1216.4,143.1 1218.1,143.1 1219.4,142.1 1219.9,140.4 1220.9,139.4 1223.9,137.9 1223.4,136.9 1219.1,134.4 1209.4,133.9 1207.6,131.1 1207.9,128.9 1203.4,127.6 1202.1,124.6 1198.9,123.4 1192.6,122.6 1191.6,121.4 1191.4,118.4 1190.4,116.4 1189.4,115.4 1187.1,114.6 1185.4,111.9 1185.4,111.1 1186.9,109.9 1194.1,108.9 1197.6,107.4 1198.6,106.1 1198.4,104.6 1200.6,102.9 1203.6,101.9 1205.9,103.6 1207.9,103.6 1208.9,102.9 1208.6,101.6 1206.4,101.4 1203.9,101.9 1202.4,99.9 1200.4,98.6 1192.6,96.9 1191.9,94.9 1190.9,93.9 1187.4,92.6 1185.9,90.6 1183.1,88.4 1180.9,88.4 1179.1,89.1 1173.4,88.9 1169.4,89.6 1160.9,89.1 1160.1,89.9 1160.4,91.4 1156.4,94.4 1153.4,94.6 1149.4,93.1 1147.6,93.6 1147.1,94.9 1148.1,96.1 1151.9,97.4 1154.1,99.1 1154.6,101.9 1157.9,104.9 1158.4,106.9 1159.6,108.1 1162.9,109.4 1168.1,109.1 1169.6,110.4 1169.4,111.4 1167.4,112.6 1160.1,114.1 1157.1,114.1 1151.9,112.9 1149.4,114.9 1148.9,117.4 1147.6,119.1 1144.4,120.1 1140.9,119.1 1137.1,118.9 1136.6,118.1 1141.1,116.9 1140.9,114.6 1143.6,112.4 1143.6,111.6 1141.4,109.6 1141.4,108.6 1144.1,107.6 1147.9,107.6 1148.1,107.1 1146.9,105.6 1145.1,105.4 1142.1,106.4 1137.6,106.4 1131.1,104.9 1126.6,103.1 1108.9,102.4 1107.4,101.9 1105.4,99.4 1103.6,98.9 1100.4,98.9ZM1148.1,88.4 1148.6,89.9 1150.6,91.6 1153.1,91.6 1156.1,90.4 1156.6,89.6 1155.6,88.6 1152.9,87.9 1148.6,87.9ZM1080.1,97.6 1077.4,94.9 1078.4,93.9 1077.9,93.1 1071.9,93.1 1069.1,91.9 1065.4,91.4 1059.6,89.1 1054.6,88.6 1050.9,87.6 1047.4,87.6 1036.4,89.9 1022.4,94.6 1017.6,95.1 1016.6,95.9 1015.1,99.1 1007.9,101.1 1005.9,103.6 1002.9,104.9 1001.1,106.9 1001.1,107.6 1001.9,108.1 1006.1,109.1 1006.6,110.4 998.6,115.9 993.4,116.6 993.4,118.6 992.9,119.1 989.4,119.9 988.4,120.6 989.1,123.1 990.6,124.6 992.4,125.1 995.4,124.9 997.9,123.9 1002.1,123.9 1005.9,124.9 1009.4,124.9 1012.9,124.1 1017.9,122.4 1020.1,120.6 1024.1,119.6 1028.6,116.9 1038.6,114.9 1041.9,112.1 1049.4,110.4 1052.6,108.4 1062.6,108.6 1066.1,107.9 1072.6,108.4 1074.9,106.6 1074.6,104.6 1075.9,102.9 1074.9,100.6 1075.9,99.6 1079.9,98.6ZM906.4,77.6 906.1,78.4 907.9,80.1 905.6,82.1 900.6,84.4 898.4,86.4 898.1,87.9 899.4,90.6 897.1,95.1 897.9,98.1 896.9,99.9 896.4,102.6 893.4,105.9 893.1,110.4 890.9,111.6 890.4,112.9 893.9,114.4 895.4,115.9 895.6,117.6 896.6,119.1 896.4,122.1 898.9,124.9 897.9,130.1 903.4,133.9 910.9,136.6 911.4,137.9 905.9,140.9 899.6,142.4 897.4,143.9 895.1,143.9 892.1,142.1 887.4,140.6 878.9,141.4 877.9,141.9 874.6,145.6 876.1,146.9 880.6,147.1 881.6,147.6 880.6,149.1 877.4,150.9 877.6,152.6 880.9,154.4 881.9,155.4 882.6,157.6 883.9,158.1 888.6,157.6 896.6,162.1 902.6,162.1 906.4,161.4 913.9,162.1 919.4,161.9 926.4,163.9 930.1,167.6 931.1,169.6 931.1,171.4 928.4,173.4 928.4,174.1 931.1,177.6 927.1,180.9 926.6,182.4 927.1,183.9 930.1,185.6 930.1,188.4 932.6,189.9 934.9,192.1 936.1,195.1 937.4,196.4 939.6,197.6 943.4,198.4 946.9,201.1 947.1,202.4 945.6,205.9 945.9,207.9 948.1,209.1 953.9,210.1 954.4,211.1 953.4,213.4 1010.4,213.4 1010.6,210.6 1013.1,207.9 1012.9,207.1 1007.9,205.9 1000.6,201.1 998.6,200.6 985.6,201.1 983.9,199.9 983.9,197.9 985.4,195.1 982.1,194.1 981.1,193.1 981.9,192.4 986.6,192.6 989.4,189.6 995.1,189.1 998.4,185.6 1002.1,182.6 1002.1,181.6 999.4,178.4 997.4,177.6 991.1,177.9 990.4,177.1 990.4,175.1 989.9,174.6 986.1,173.9 985.4,172.9 986.1,172.4 992.9,172.6 997.9,169.9 1002.6,169.6 1005.1,170.6 1005.6,172.9 1008.1,175.9 1013.4,177.1 1017.4,180.1 1022.6,180.4 1029.6,178.4 1035.4,178.6 1036.6,178.1 1039.1,176.1 1039.9,174.9 1039.6,173.9 1037.1,171.1 1039.9,168.9 1038.6,167.1 1036.1,166.4 1030.4,167.4 1026.9,164.9 1020.9,163.6 1019.4,162.6 1019.4,161.9 1023.1,159.6 1021.1,157.1 1020.9,153.6 1026.9,149.9 1036.4,148.9 1038.6,146.1 1034.4,145.1 1027.4,144.9 1025.4,145.6 1023.1,148.4 1016.1,148.6 1012.9,147.1 1010.6,147.1 1006.6,148.4 1004.9,146.4 1005.1,143.6 998.9,142.9 996.6,144.6 990.9,146.1 985.9,149.9 988.6,152.4 988.4,153.6 986.9,155.1 982.9,157.1 979.9,157.1 976.1,155.4 976.1,154.6 977.1,153.6 976.9,152.6 972.6,150.9 971.6,149.9 971.4,147.9 972.1,146.1 970.9,145.4 968.9,144.9 964.1,145.1 956.4,142.6 949.1,141.4 946.1,139.9 941.6,138.6 935.6,138.4 932.1,139.4 928.9,138.6 928.1,137.1 930.9,135.1 937.4,133.1 946.6,132.1 951.1,130.9 952.6,129.9 952.6,128.9 946.9,123.6 945.1,123.1 940.1,123.1 937.6,120.1 932.1,120.1 927.1,117.9 926.9,116.6 930.1,113.6 930.1,111.9 929.1,109.9 929.6,106.1 930.1,105.6 937.9,102.4 944.9,101.4 950.1,102.4 961.9,102.4 964.9,104.1 968.4,104.9 972.6,104.4 977.1,104.4 980.4,105.1 984.1,104.9 986.9,106.6 988.4,106.6 990.4,105.1 990.9,103.1 984.6,100.1 983.6,98.9 983.6,97.6 985.4,95.9 987.9,95.9 990.1,95.1 991.4,93.1 990.1,91.9 988.6,91.4 982.4,92.1 979.9,90.9 977.4,87.9 968.6,87.1 964.4,89.4 957.1,88.6 953.1,90.4 945.4,90.1 941.1,87.9 937.9,87.6 932.6,91.9 932.9,92.6 935.6,94.9 935.6,96.1 930.6,96.9 924.4,98.6 921.4,98.4 917.4,96.9 915.6,95.1 916.4,93.9 920.4,91.4 919.9,90.6 916.4,90.4 914.6,89.4 913.9,85.6 916.1,83.1 914.9,82.1 908.9,80.6 908.4,79.9 909.4,78.4 907.9,77.4ZM640.4,72.9 641.4,72.1 643.4,72.1 644.1,72.6 644.1,73.4 642.9,74.4 641.6,74.4ZM907.1,61.6 906.6,61.1 904.6,61.1 902.6,61.9 902.4,62.6 902.9,63.1 905.9,63.1ZM697.1,56.6 697.1,57.4 698.4,58.1 698.9,59.1 697.1,60.1 696.6,61.4 701.1,63.1 701.1,64.1 699.6,66.4 700.6,68.6 702.4,69.4 706.1,69.4 711.6,68.6 713.9,67.1 714.9,64.6 714.6,63.1 712.1,61.6 708.9,60.6 707.9,59.6 708.6,58.6 711.6,57.6 712.4,56.9 711.9,55.6 707.1,54.4 700.4,54.6ZM830.4,59.1 828.9,57.4 825.9,56.1 818.9,55.4 814.4,53.9 811.9,53.9 805.9,55.6 801.9,57.9 801.1,58.9 800.9,61.9 799.9,63.1 797.6,64.4 795.6,64.9 790.1,64.9 786.1,63.6 784.1,63.6 783.4,64.1 783.4,65.4 784.9,68.6 786.9,69.4 791.6,69.6 795.6,71.9 801.1,69.9 804.9,69.4 809.1,72.1 813.4,72.1 818.6,70.4 822.1,70.4 823.9,69.6 828.4,64.9 827.6,63.9 824.9,63.4 824.4,62.4 830.1,60.1ZM463.9,56.4 465.1,55.1 467.9,54.1 473.9,54.9 477.6,53.4 484.1,53.4 489.1,54.6 493.4,56.6 494.1,57.6 491.4,59.9 475.4,59.4 472.9,60.1 469.4,60.1 465.6,58.6ZM734.6,56.4 735.1,57.9 739.1,60.4 747.1,61.6 752.9,61.4 756.4,59.1 761.6,59.6 768.4,59.1 772.9,61.1 775.1,61.4 780.9,59.1 785.6,58.6 787.6,57.1 786.9,56.4 781.6,55.9 771.4,52.6 763.1,52.6 754.4,49.9 751.1,50.4 748.4,53.1 743.4,55.4 737.6,54.6 735.6,55.4ZM95.1,201.6 100.4,201.9 105.1,203.1 110.9,203.4 113.9,204.6 125.1,206.6 129.4,208.1 133.6,208.1 144.4,206.6 152.9,204.9 161.6,202.1 180.4,202.1 192.6,206.1 197.9,207.1 202.9,207.4 207.6,208.9 208.1,209.4 207.6,210.4 202.4,211.4 200.9,212.1 200.4,213.4 219.4,213.4 219.4,210.9 220.6,209.6 232.9,205.4 235.6,205.4 239.9,207.4 243.9,207.4 247.4,206.4 255.6,205.6 258.1,204.9 261.6,202.9 264.1,199.9 268.4,197.6 270.6,194.9 273.6,193.9 286.1,193.4 293.1,195.4 306.4,195.1 314.6,192.9 319.1,190.6 326.6,188.1 346.6,187.1 351.4,186.1 360.6,185.9 363.6,184.6 363.6,182.9 368.4,182.4 370.4,180.6 371.4,178.6 370.9,175.4 373.1,173.1 372.6,168.6 374.9,165.1 374.6,164.1 367.4,159.9 364.6,157.1 346.6,155.1 341.6,152.4 338.6,149.1 336.9,148.9 335.1,149.6 335.1,151.6 334.1,152.6 331.9,153.4 328.9,153.4 327.6,152.6 328.1,151.4 330.9,149.9 330.1,149.1 328.1,148.6 324.9,148.6 321.4,149.9 314.9,149.6 313.9,150.4 313.9,151.1 315.6,152.4 315.4,152.9 312.1,152.6 309.4,150.4 307.1,149.4 304.1,149.9 303.4,151.4 300.6,153.4 296.6,152.9 292.9,150.4 290.4,150.6 288.1,151.6 285.6,153.6 278.4,157.1 278.9,157.6 288.1,159.4 291.1,159.4 293.6,158.6 302.4,159.1 304.9,162.6 308.9,163.1 311.1,164.6 311.4,166.9 310.4,168.9 310.6,172.1 309.6,173.4 304.6,175.9 294.6,175.6 292.6,176.1 290.9,177.9 289.6,178.4 285.6,178.4 275.9,186.6 274.1,187.4 257.4,187.1 250.9,185.1 243.1,183.9 241.6,182.1 243.4,179.4 246.6,178.1 250.4,178.9 251.6,178.4 250.6,177.4 248.4,176.6 247.4,174.6 244.9,172.9 239.9,173.1 238.6,172.4 240.9,170.9 242.9,168.4 251.1,168.1 250.6,166.9 251.6,165.9 253.4,166.1 254.6,167.1 253.9,168.1 252.6,168.6 254.4,169.6 256.9,169.6 260.4,168.1 262.1,168.1 265.9,169.4 267.6,171.4 270.6,171.6 272.1,171.1 271.6,170.1 268.6,169.4 268.4,168.6 270.6,167.1 275.4,166.1 276.4,164.9 276.1,163.9 272.1,161.4 264.1,161.9 262.6,161.1 260.1,158.1 260.1,156.9 260.9,156.4 264.6,156.9 266.9,156.4 266.4,155.1 266.4,151.1 264.4,150.6 258.9,152.4 257.1,152.4 252.6,149.6 245.9,148.6 244.1,149.1 241.1,151.6 238.4,151.6 229.4,149.9 226.4,148.1 224.1,148.1 222.9,148.6 222.4,149.9 221.1,150.9 217.4,151.4 214.9,150.1 215.1,148.6 219.1,145.9 225.4,144.1 228.4,141.6 237.4,142.6 243.1,141.1 247.9,143.4 251.4,143.4 255.9,142.4 256.4,141.9 256.1,140.4 256.9,139.9 258.9,140.1 260.6,141.4 262.6,141.9 270.4,142.1 274.4,139.9 277.1,139.6 282.4,141.6 293.4,142.1 296.1,140.9 294.1,139.4 294.1,138.4 295.4,137.4 301.1,136.6 306.9,134.6 312.1,135.1 317.1,134.4 319.4,133.1 321.4,131.1 325.6,129.4 326.6,128.1 326.9,126.6 328.1,125.9 329.9,125.9 332.1,127.4 334.1,127.6 341.1,126.1 345.4,124.1 350.1,124.1 353.1,123.4 360.9,123.9 364.1,122.6 367.1,122.6 370.6,124.6 374.6,123.9 377.4,125.6 379.4,126.1 381.4,125.6 383.6,123.9 392.4,124.1 396.6,123.4 398.9,123.4 402.4,125.4 405.1,125.4 406.9,124.4 405.6,121.9 407.1,120.1 407.1,116.9 405.4,114.1 405.6,111.9 401.6,109.4 399.1,106.6 396.9,106.1 389.9,106.6 387.1,108.6 383.4,108.9 381.6,108.1 378.9,105.6 375.4,103.9 372.6,104.4 369.1,104.1 365.6,102.1 363.1,99.1 360.4,98.9 354.6,96.6 345.4,97.1 339.1,99.6 330.4,100.4 328.9,101.6 329.9,103.9 328.9,105.4 324.4,106.6 318.6,106.1 313.9,108.6 312.4,110.6 312.9,113.6 310.4,115.9 308.1,115.9 299.6,112.4 294.9,111.9 293.6,110.9 293.4,108.9 290.6,107.1 284.9,106.6 281.6,105.6 279.4,105.6 274.6,107.9 266.4,109.6 263.4,109.4 259.9,106.6 251.9,104.4 247.9,104.6 247.1,106.1 245.4,107.6 236.9,107.1 232.4,107.9 230.9,106.9 228.1,106.1 218.1,106.6 211.9,104.1 210.9,103.1 211.4,102.1 214.1,101.1 221.4,101.1 227.1,100.4 231.6,97.9 238.9,97.6 242.6,95.4 243.6,94.4 243.1,93.6 233.1,92.1 224.6,89.4 219.1,86.6 209.9,86.9 203.4,85.9 197.1,85.9 186.1,83.9 181.4,78.9 181.4,78.1 183.9,76.6 184.9,75.4 184.9,74.4 183.9,73.4 178.1,70.1 169.9,69.9 165.4,68.4 163.1,68.4 161.4,69.1 160.1,70.6 159.6,73.4 157.1,74.9 153.4,74.9 151.4,76.9 148.6,78.1 146.1,78.6 142.6,78.1 139.6,78.4 138.1,80.9 135.9,81.6 127.4,80.6 121.4,77.4 113.9,75.1 112.9,74.4 117.6,71.6 115.9,68.9 116.1,67.1 120.4,61.4 120.4,60.4 118.1,58.1 118.1,56.9 119.1,55.1 118.1,53.4 114.4,52.4 107.4,51.9 100.6,49.1 95.1,49.9 95.1,74.6 96.6,74.6 98.1,75.6 98.1,76.9 97.4,77.6 95.1,77.9 95.1,82.9 97.9,82.1 98.4,81.6 98.4,80.1 99.9,79.1 101.9,79.4 104.1,80.9 106.1,80.9 115.6,78.1 117.4,78.1 117.9,78.6 117.6,81.4 115.6,83.6 115.4,85.1 113.9,87.1 112.1,87.6 104.6,87.6 100.4,89.4 95.1,89.6 95.1,109.6 98.1,109.6 106.4,108.1 111.1,108.1 116.9,109.1 119.6,107.6 123.1,106.9 128.9,106.9 132.1,107.6 139.1,107.9 144.9,109.4 148.4,109.1 154.4,107.4 159.4,107.4 163.4,108.4 167.9,107.9 175.1,108.4 180.9,107.4 183.4,107.9 187.4,109.9 190.1,110.4 194.4,113.6 198.4,114.9 205.4,118.6 204.6,120.1 201.1,121.6 199.1,123.9 197.6,124.4 188.4,123.4 184.1,124.6 181.1,124.6 175.6,122.6 170.9,122.4 169.6,121.4 167.6,117.9 161.1,116.6 157.4,114.4 154.6,114.6 152.6,116.4 150.6,116.9 148.1,116.1 145.9,113.4 143.9,112.9 142.6,113.6 143.1,115.4 142.1,116.1 134.4,116.9 130.4,114.9 122.4,114.9 116.9,113.6 110.1,114.9 105.9,117.4 104.4,117.6 97.4,114.1 95.1,113.9 95.1,142.6 102.4,142.4 105.6,140.4 110.4,140.6 114.4,140.1 115.6,139.4 118.4,136.1 122.4,134.9 123.9,132.6 126.4,132.1 128.4,132.9 130.9,135.4 133.9,136.6 135.1,137.9 135.1,139.1 134.1,140.6 135.4,141.4 142.4,142.6 147.6,140.4 156.9,140.1 162.1,138.1 164.4,138.9 165.4,139.9 165.6,141.9 166.4,142.9 171.1,145.4 170.9,147.1 169.1,148.9 164.9,150.1 159.4,150.9 153.9,150.9 151.4,150.1 148.9,150.1 145.1,151.6 142.6,151.9 138.1,149.9 133.1,149.9 131.6,150.4 129.1,152.9 125.9,153.4 121.9,152.9 118.4,150.4 115.6,149.6 107.4,149.9 106.6,151.1 104.9,152.4 100.9,152.6 99.6,151.6 99.6,149.6 97.4,148.6 95.1,148.6 95.1,158.4 99.1,158.1 103.1,156.6 105.4,156.6 108.6,159.4 114.4,160.1 119.4,161.9 124.1,161.4 127.6,160.1 130.9,158.1 133.1,158.1 141.4,159.9 151.6,159.6 158.6,160.4 160.9,159.4 162.9,159.4 164.9,160.9 167.1,159.1 172.4,158.1 176.1,158.6 180.9,160.9 182.6,160.6 184.4,158.4 185.9,157.9 197.4,158.6 201.4,159.6 204.1,159.6 209.1,158.6 212.4,159.9 218.1,160.9 222.4,164.9 223.9,167.4 226.6,169.1 226.1,173.1 228.4,175.1 232.9,176.9 232.9,177.6 231.1,178.6 223.9,179.4 222.1,180.1 221.6,182.4 222.4,182.9 229.4,182.9 230.6,183.9 229.4,184.9 226.9,185.6 225.6,186.9 224.9,188.4 225.1,191.6 222.9,193.6 211.4,193.9 205.1,193.4 200.6,195.1 197.6,195.1 193.1,193.4 189.9,193.4 188.4,193.9 186.1,196.4 179.4,197.9 172.9,197.1 171.9,196.1 172.4,194.6 171.9,192.4 170.6,191.6 166.6,190.9 165.9,190.1 165.9,188.9 166.9,187.4 165.9,186.1 164.6,185.6 161.6,185.6 158.1,186.9 155.9,186.1 154.9,184.6 153.4,183.6 149.9,183.6 146.9,184.4 138.4,183.9 118.4,183.9 112.4,181.9 111.6,180.9 112.1,179.1 110.9,178.1 108.6,177.1 105.6,177.1 103.4,177.9 103.1,178.9 101.6,179.9 95.1,179.9ZM654.4,48.6 655.4,49.4 658.1,49.4 660.6,47.9 660.1,47.4 656.1,47.4 654.4,47.9ZM95.1,46.1 95.1,47.9 97.4,47.6 97.4,46.6ZM1367.9,43.1 1368.1,45.6 1369.6,47.1 1372.9,48.4 1378.1,49.1 1380.4,50.6 1381.1,53.1 1382.9,54.9 1381.9,57.1 1382.4,57.9 1388.1,58.6 1390.4,60.6 1390.1,61.6 1388.9,62.6 1385.6,63.4 1384.4,64.4 1384.9,68.6 1384.1,69.4 1376.9,71.6 1370.6,71.9 1369.1,72.9 1369.1,74.6 1370.1,75.6 1374.1,76.9 1376.6,78.9 1381.4,80.9 1384.6,80.9 1387.1,79.6 1389.9,79.6 1393.4,81.1 1395.4,81.1 1399.1,79.9 1401.9,79.9 1401.9,43.1ZM1354.6,43.1 1346.6,43.1 1345.9,44.6 1340.9,47.1 1335.1,46.9 1333.1,48.4 1333.1,49.4 1334.4,50.4 1336.1,50.4 1340.9,48.6 1350.4,47.9 1354.1,44.9ZM1185.4,45.9 1185.4,46.9 1186.1,47.6 1191.1,48.6 1192.4,50.6 1192.6,53.6 1194.6,54.4 1199.6,54.4 1201.4,52.6 1204.9,53.9 1207.4,54.1 1210.4,53.6 1212.6,52.1 1220.4,52.6 1230.6,51.1 1238.1,51.4 1245.1,50.4 1250.1,47.9 1256.4,48.4 1259.6,47.4 1258.1,43.1 1187.6,43.1 1187.4,44.4ZM1127.1,47.9 1128.4,49.4 1142.4,54.6 1150.6,55.9 1158.1,54.9 1164.9,55.1 1167.4,52.1 1173.4,50.1 1173.9,47.4 1177.1,44.4 1177.4,43.1 1131.6,43.1 1131.6,44.1 1127.9,46.1ZM838.4,63.1 841.4,66.4 844.9,67.4 847.9,69.9 852.6,71.1 855.4,70.1 856.1,68.9 856.1,67.4 857.9,66.1 862.4,66.6 871.1,64.1 877.9,63.6 882.4,62.6 886.4,59.4 889.1,57.9 891.9,57.1 900.6,57.1 902.4,56.1 902.6,54.9 903.6,53.9 906.1,53.6 907.4,54.4 907.4,55.4 904.6,57.4 904.6,58.4 906.6,60.1 909.1,60.1 916.1,62.1 926.9,63.4 932.1,64.6 937.6,63.4 944.9,64.4 949.1,61.6 954.4,60.6 956.1,59.6 956.9,58.4 955.9,56.4 956.1,55.1 960.6,51.1 964.6,49.4 965.9,47.6 964.4,46.6 958.4,45.4 953.4,45.4 952.4,46.1 955.4,49.1 954.6,49.6 946.6,49.6 940.9,51.1 935.9,51.1 929.1,49.6 918.1,49.6 916.6,47.1 913.6,45.4 913.1,43.1 872.9,43.1 872.9,45.1 871.6,47.6 861.9,53.1 857.6,57.1 856.4,59.1 850.6,59.6 848.6,60.4 848.1,61.1 848.6,62.9 848.4,64.4 844.6,64.9 839.6,62.6 838.4,62.6ZM549.6,43.1 549.9,43.9 550.9,43.6 550.9,43.1ZM399.1,213.4 540.4,213.4 539.6,211.6 536.4,210.4 532.1,207.6 533.1,204.1 535.1,201.6 535.1,199.1 536.4,197.6 536.4,196.6 534.9,194.9 535.4,191.9 534.1,189.4 528.6,188.9 523.4,187.1 521.4,187.1 519.4,188.1 514.4,187.9 509.6,189.6 507.6,191.4 504.9,191.6 502.4,190.9 496.4,186.1 489.9,182.6 483.4,181.1 482.4,179.6 483.9,176.9 483.4,174.4 480.4,171.6 477.9,167.4 471.4,162.9 471.1,161.1 469.1,158.9 468.6,156.9 465.9,154.1 465.1,152.4 466.1,151.4 470.1,150.6 468.9,149.1 468.9,148.1 471.1,146.1 477.1,146.6 478.9,145.9 479.9,144.4 479.9,142.1 481.1,141.1 485.6,141.6 493.9,141.4 493.9,140.4 488.6,140.4 487.6,139.6 488.6,138.9 495.6,139.6 499.9,138.9 513.4,139.1 516.1,138.6 529.6,138.4 535.6,137.1 541.4,133.9 544.1,131.4 546.6,131.4 550.4,133.4 553.4,133.4 556.6,132.4 564.1,132.9 573.9,136.6 579.6,136.1 582.9,137.1 586.4,138.9 592.1,142.9 598.1,145.1 599.1,146.4 599.4,149.4 600.1,151.1 600.1,152.4 598.9,153.9 598.6,155.4 600.4,158.4 600.4,159.9 599.1,160.9 593.4,162.4 592.4,163.6 592.1,165.6 591.1,166.6 587.4,167.6 585.9,168.6 585.9,170.1 586.9,172.4 582.6,173.6 582.9,174.1 584.9,174.6 587.9,174.6 589.1,173.9 590.4,173.9 591.6,174.9 591.4,175.6 589.1,176.4 588.4,178.1 586.4,179.9 586.4,180.9 588.4,182.9 588.6,184.1 586.9,185.9 587.6,189.9 586.4,191.9 586.6,193.9 585.6,195.6 588.9,197.1 589.9,198.1 589.9,198.9 589.1,199.6 583.9,200.9 580.4,203.4 576.4,204.1 572.9,206.6 569.4,206.6 559.6,204.1 552.6,205.1 550.9,206.4 550.9,207.6 552.6,210.1 550.9,212.1 550.6,213.4 625.9,213.4 626.6,211.9 632.9,209.9 633.4,209.1 629.4,206.6 629.1,203.9 626.9,200.9 627.4,198.6 624.4,195.1 624.9,192.1 624.4,190.6 615.9,186.9 607.4,186.1 600.1,182.9 598.9,181.4 598.6,178.9 601.1,175.6 600.4,172.4 601.9,171.1 607.6,169.1 610.4,168.9 614.4,169.4 619.4,168.4 627.6,169.6 628.4,170.9 626.1,171.9 625.9,172.6 630.9,175.4 633.9,175.6 637.4,174.9 639.6,173.4 639.6,172.6 638.6,171.6 634.6,170.1 632.1,167.6 628.6,166.6 627.4,165.4 627.6,164.1 630.1,161.9 630.9,160.1 633.4,159.1 639.1,158.1 639.6,157.6 639.6,155.4 641.9,153.4 644.6,152.9 647.9,153.9 650.6,153.9 652.6,152.6 652.6,150.6 653.9,149.6 655.6,149.1 662.4,149.1 665.6,147.4 664.9,145.9 661.1,143.9 661.1,142.6 662.6,140.1 662.6,138.9 661.4,137.4 654.6,134.4 652.6,132.6 649.4,131.1 642.4,130.9 639.4,130.1 637.9,128.9 640.6,126.9 643.6,126.1 650.1,126.9 653.4,126.1 661.1,126.4 668.9,125.9 674.1,124.1 678.4,121.1 679.9,121.1 682.4,122.9 684.4,122.6 684.6,120.9 688.1,118.1 687.4,117.1 685.4,116.4 684.1,115.1 684.6,113.6 687.1,111.9 687.4,110.9 682.4,108.6 679.6,105.1 676.1,103.9 674.9,102.9 674.6,102.1 675.6,100.9 675.6,99.6 674.1,97.6 674.1,94.9 672.9,92.9 674.1,91.1 677.9,89.6 680.9,87.1 681.9,85.1 681.9,83.6 680.1,81.9 675.6,79.6 670.1,78.6 666.6,77.1 658.6,76.1 646.9,70.4 645.4,70.1 637.4,71.4 635.1,72.4 634.6,73.9 635.9,75.1 636.1,76.6 634.9,77.9 632.9,78.6 627.4,79.6 624.1,79.6 615.9,77.9 611.9,77.9 608.9,78.6 603.1,78.9 602.1,79.4 601.6,80.9 600.6,81.6 598.1,81.9 594.9,78.9 588.6,77.4 586.6,74.9 582.1,73.4 578.9,70.4 573.6,69.4 571.6,68.4 570.6,67.1 570.6,66.1 571.9,63.9 571.1,62.9 570.1,62.6 564.1,64.1 559.9,64.4 554.6,62.4 552.6,62.4 546.9,64.9 533.6,65.9 528.6,67.6 526.6,70.6 521.9,70.9 518.4,70.4 517.1,69.6 516.9,67.9 519.6,65.6 519.6,64.4 518.9,63.9 513.9,63.9 512.9,62.9 516.9,60.9 522.4,59.9 525.4,57.4 526.1,56.1 525.9,54.9 524.6,53.6 519.4,53.1 518.6,52.4 520.1,50.6 520.1,49.9 517.9,47.4 518.9,45.6 518.6,43.1 490.1,43.1 489.4,44.4 487.9,44.1 487.6,43.1 439.1,43.1 439.4,44.9 440.6,46.1 444.1,47.4 445.6,48.9 445.6,49.6 443.9,51.4 443.9,52.1 444.9,53.1 444.6,53.9 437.9,54.4 436.6,55.4 436.4,56.4 438.6,58.1 439.9,59.9 436.4,61.9 435.9,63.4 437.6,64.9 442.4,66.9 443.4,67.9 443.6,70.1 444.4,70.9 456.1,73.1 460.1,74.9 460.9,76.1 459.1,77.9 459.1,78.9 460.4,79.9 471.9,79.1 474.9,78.4 478.9,79.9 487.9,80.4 492.4,79.1 495.6,76.6 502.6,78.1 505.1,77.1 507.4,74.6 507.4,73.4 505.9,72.1 506.4,70.9 510.9,69.9 515.6,70.1 516.1,71.1 512.6,74.4 514.4,78.4 511.4,80.4 505.4,80.6 498.4,82.1 497.9,83.9 498.9,85.9 498.6,87.4 499.1,87.9 505.6,89.1 512.6,89.1 514.6,89.6 523.6,89.4 526.4,89.9 529.4,91.1 530.4,92.6 530.9,94.9 534.1,96.6 535.4,98.9 537.1,99.4 541.4,98.6 541.9,96.4 544.4,95.1 547.1,95.6 551.1,97.6 557.1,96.1 559.6,97.4 561.4,99.9 561.4,101.1 560.4,103.1 560.9,104.6 566.6,106.1 570.1,108.1 583.1,109.6 585.4,110.9 580.9,113.1 569.9,113.9 565.6,115.1 562.1,115.1 558.9,113.6 556.6,113.4 551.1,115.6 542.6,116.1 541.6,116.6 541.4,118.1 537.1,121.4 525.9,125.9 520.4,125.9 515.1,124.6 505.1,123.4 500.4,122.1 487.1,122.1 482.1,123.1 478.6,121.4 476.4,120.9 470.1,121.4 465.6,121.1 462.1,119.4 459.6,115.6 457.9,114.1 444.1,110.6 436.9,110.4 433.9,109.4 429.6,109.4 419.6,112.4 418.6,113.4 418.4,118.6 421.9,123.6 435.9,126.1 438.4,127.4 439.4,128.9 436.4,131.1 431.9,131.1 426.9,132.9 420.6,131.6 417.1,131.9 413.4,134.4 412.1,137.6 416.6,139.6 426.4,139.1 431.1,140.9 436.9,141.6 440.9,143.4 445.9,144.6 447.4,145.9 446.6,147.4 441.9,151.4 441.9,154.4 438.6,156.9 437.9,161.6 435.1,165.4 435.1,167.1 436.1,168.4 439.4,170.4 444.1,172.1 445.9,173.6 444.4,174.9 440.1,175.6 437.9,176.6 436.9,178.1 437.4,179.6 438.6,180.4 440.1,180.4 443.1,177.6 444.4,177.1 446.4,177.6 447.6,179.1 447.4,180.9 445.9,182.1 439.4,184.1 443.6,184.4 448.4,186.6 451.6,187.4 454.1,189.4 454.1,192.1 459.6,194.9 465.1,196.4 468.9,198.6 472.4,199.9 473.1,200.9 471.6,202.1 468.9,202.9 461.4,202.6 454.6,201.4 444.6,201.6 438.1,200.6 433.4,200.9 419.1,204.4 412.9,205.1 404.1,207.9 399.4,210.6ZM377.1,43.1 377.4,43.9 378.9,43.6 378.9,43.1ZM380.6,47.4 379.4,46.4 375.1,45.6 373.1,43.9 373.1,43.1 363.6,43.1 364.4,45.4 366.1,46.4 366.9,47.9 362.9,51.9 359.4,53.1 355.6,53.4 351.6,54.4 346.9,57.1 343.9,59.6 343.9,60.9 345.1,62.4 344.9,64.6 345.9,65.6 349.6,67.4 346.6,70.9 341.6,69.6 337.9,70.4 335.4,72.1 332.9,72.9 327.4,73.1 321.9,72.4 318.9,73.6 314.1,74.4 311.1,76.6 309.1,77.4 298.9,78.1 280.4,81.6 277.9,83.4 277.1,85.9 274.6,89.4 271.1,92.1 271.1,92.9 274.4,94.9 277.4,99.1 285.6,100.6 291.1,100.6 295.9,99.4 303.4,98.4 307.4,95.9 314.1,95.6 319.9,92.9 327.1,91.1 335.6,91.1 336.6,89.6 339.6,87.1 339.9,83.6 342.9,79.1 344.4,77.9 352.1,74.4 359.4,74.1 362.6,72.6 369.4,65.1 370.9,61.4 371.1,58.9 375.9,55.9 378.1,53.1 381.4,51.6 381.6,50.9ZM198.9,57.1 200.6,59.1 200.9,62.6 201.9,63.4 209.1,62.9 214.4,63.6 217.9,64.6 220.1,66.4 215.9,69.6 213.6,70.4 211.1,68.6 208.9,67.9 206.4,67.9 204.4,68.9 204.4,69.4 205.9,70.4 209.9,71.1 210.9,71.9 210.6,73.1 207.1,75.6 209.1,77.9 209.4,79.6 211.9,80.1 216.1,78.9 221.9,78.4 225.4,77.4 229.9,77.4 234.1,76.4 238.9,76.1 239.9,75.6 241.9,73.1 243.4,72.6 250.4,73.6 255.4,72.6 259.4,72.6 262.9,74.4 266.1,74.9 271.6,72.6 277.9,71.6 285.1,68.1 290.4,66.6 293.4,64.1 296.4,63.1 300.4,60.9 307.1,59.1 309.6,57.6 312.9,56.6 317.1,53.4 325.9,52.4 332.9,50.6 335.1,49.1 336.4,46.1 338.1,44.6 338.6,43.1 198.6,43.1 198.6,44.4 200.9,47.4 200.1,51.1 201.1,52.9 198.9,56.1Z"/>
<path fill="#FF6400" fill-rule="evenodd" d="M409.9,209.6 411.1,212.1 411.1,213.4 471.1,213.4 470.6,212.1 464.4,209.4 461.4,206.4 459.9,205.6 455.6,204.6 443.1,203.1 430.4,204.1 419.1,207.4 412.6,208.1ZM497.6,199.1 498.1,200.6 500.4,201.6 506.6,201.9 508.4,204.6 510.6,205.4 516.1,204.1 517.9,201.9 520.9,200.6 520.4,199.9 516.1,198.9 508.6,198.9 506.1,197.6 500.6,197.9ZM223.4,200.6 222.6,199.1 218.6,197.6 211.1,199.1 193.1,197.9 187.9,200.1 189.6,200.9 193.1,200.9 197.6,203.4 199.6,203.9 206.9,203.9 210.9,205.9 212.6,205.9 216.4,204.4 220.4,203.6ZM958.1,196.6 959.1,201.6 963.6,204.9 962.6,209.6 965.6,212.1 965.9,213.4 1006.6,213.4 1006.4,211.6 1000.9,207.4 994.6,205.6 991.4,204.1 982.4,204.6 976.4,202.1 971.4,205.1 967.9,205.1 966.4,203.9 966.4,202.1 968.1,200.4 967.6,198.9 961.9,195.6 959.9,195.6ZM257.6,200.4 257.1,196.1 254.9,194.6 251.9,194.1 248.4,194.4 243.4,196.9 237.1,197.6 234.6,198.9 235.6,200.1 239.9,200.6 248.9,202.9 255.6,201.6ZM623.4,205.6 618.1,200.1 618.9,196.4 616.1,193.4 615.4,190.9 612.9,189.4 609.1,189.6 605.6,191.4 606.9,193.6 606.9,194.9 606.1,197.1 604.4,198.6 605.1,201.4 603.6,202.6 599.4,203.4 598.9,204.6 596.4,206.4 593.1,206.9 590.6,208.1 588.6,210.1 588.9,213.4 620.4,213.4 620.4,212.6 623.1,209.6ZM759.9,199.6 759.4,198.4 756.6,196.4 748.9,194.9 748.1,194.1 748.6,192.4 748.4,190.9 744.4,188.1 739.1,189.4 728.4,189.1 724.1,190.6 720.4,189.9 716.1,190.1 713.6,190.9 710.6,193.4 705.9,195.1 702.4,199.6 702.6,201.4 702.1,202.6 700.9,203.9 696.9,205.1 695.9,206.4 695.6,208.6 694.9,209.6 688.6,211.9 687.9,213.4 751.9,213.4 751.1,210.1 756.9,205.6 758.6,203.4ZM95.1,185.9 95.1,197.1 104.6,197.6 106.1,198.1 108.1,199.9 113.9,199.9 121.6,202.4 127.6,203.4 130.4,204.6 142.9,204.4 151.9,202.4 155.4,200.1 155.9,196.4 156.9,194.6 156.9,193.4 155.9,191.9 152.9,189.6 140.4,186.6 136.4,186.6 132.6,187.4 118.9,186.6 107.1,184.4 99.6,184.6 96.6,185.9ZM1372.9,185.1 1373.1,187.9 1375.1,189.9 1375.6,191.1 1379.6,193.1 1381.9,193.6 1387.6,193.6 1394.1,196.1 1401.9,194.9 1401.9,184.9 1395.9,184.4 1392.1,183.4 1381.6,184.1 1377.9,185.6ZM946.1,183.4 946.1,184.4 947.6,185.1 950.1,183.9 950.1,183.1 949.1,182.6 947.4,182.6ZM1286.1,181.9 1287.9,182.6 1289.9,181.6 1287.6,180.9ZM1302.6,169.4 1305.4,169.9 1306.1,169.6 1306.4,168.9 1303.9,168.6ZM1354.6,162.1 1353.6,163.4 1353.1,165.6 1350.9,168.4 1349.9,170.9 1346.1,173.4 1345.9,174.6 1347.1,177.9 1351.4,181.4 1356.4,182.9 1359.9,184.9 1365.1,185.1 1372.1,184.6 1370.1,182.6 1370.1,181.4 1371.9,179.1 1371.4,176.1 1374.6,173.4 1373.6,170.9 1373.6,169.1 1375.9,165.1 1373.4,163.6 1370.4,162.9 1361.9,163.1 1357.4,161.9ZM1311.1,163.1 1308.6,161.4 1304.1,161.1 1297.9,163.1 1296.9,164.1 1298.1,165.1 1305.6,166.9 1310.1,164.9 1311.1,163.9ZM365.1,172.1 362.1,168.6 361.1,163.4 358.6,161.6 353.6,160.6 350.1,158.9 345.4,157.6 324.1,157.4 323.1,157.9 323.6,159.9 320.4,161.6 319.1,163.4 319.4,167.4 316.6,169.4 316.6,170.6 318.4,172.9 318.1,173.9 311.1,178.9 304.6,179.9 298.9,181.6 299.1,183.4 294.1,187.4 293.9,189.1 295.1,190.6 296.4,191.1 302.6,191.1 306.4,190.4 312.1,186.4 314.1,185.6 319.6,184.9 332.4,185.6 349.4,184.1 351.6,183.4 354.4,180.6 358.1,178.9 359.1,177.9 359.6,175.4 360.6,174.4 364.1,173.4ZM689.1,154.4 693.1,155.9 695.6,155.1 691.9,154.1ZM1397.4,155.4 1395.1,153.6 1391.4,152.9 1389.1,153.4 1387.6,154.4 1385.9,156.4 1385.9,157.1 1390.9,157.6ZM1109.9,152.4 1108.1,151.1 1101.4,152.4 1100.4,153.4 1100.4,154.6 1101.1,155.9 1103.9,156.4 1106.4,154.6 1109.4,153.6ZM443.6,158.1 443.6,160.6 442.1,162.9 442.9,166.1 444.1,167.1 451.4,169.4 454.6,171.6 454.6,178.1 456.6,182.6 458.1,184.9 461.6,187.4 464.6,190.6 475.6,194.9 477.1,194.9 481.1,192.9 488.4,192.1 489.6,191.1 489.6,190.4 488.6,189.4 483.4,187.4 477.4,182.4 477.9,178.4 479.1,175.9 477.4,172.9 473.9,168.9 465.1,164.6 459.4,158.6 456.1,156.9 455.1,155.6 453.4,150.6 450.9,150.6 448.1,154.9ZM1109.6,145.4 1108.9,144.9 1104.6,145.1 1101.4,146.4 1100.9,147.4 1102.6,148.4 1107.1,148.6 1109.6,146.6ZM699.4,155.4 701.1,157.1 704.6,157.9 712.4,157.9 722.4,159.1 734.9,158.6 738.1,160.4 742.9,160.4 743.9,163.9 746.9,166.4 747.4,168.1 751.6,171.6 751.9,174.1 756.9,177.6 759.6,180.9 764.4,185.1 767.9,186.9 770.9,189.4 771.6,191.4 769.1,193.6 769.6,194.6 770.6,195.1 773.4,194.9 774.6,192.9 779.9,193.6 783.1,194.9 784.6,196.4 788.4,198.4 796.6,201.4 796.9,202.1 793.6,203.9 792.9,205.6 793.9,206.9 797.4,207.4 799.9,208.9 800.4,209.9 800.4,213.4 911.6,213.4 911.4,212.1 909.9,210.6 910.1,208.1 909.4,206.9 904.6,202.4 901.9,200.9 900.4,197.6 898.9,196.4 891.9,193.6 885.4,193.1 880.9,190.9 874.1,189.4 870.1,189.4 862.4,190.6 855.4,196.6 851.9,198.6 846.6,200.1 844.1,202.9 839.4,203.9 834.6,205.6 829.6,205.1 827.4,203.4 823.4,201.9 822.6,199.4 820.4,197.9 811.4,196.4 809.4,195.4 808.4,192.1 806.4,189.4 802.4,188.1 797.6,185.6 792.4,184.4 786.4,181.4 785.4,180.1 784.9,177.6 782.9,175.6 782.9,174.4 784.1,173.1 784.1,172.4 776.6,169.1 773.4,165.9 772.9,163.1 769.6,159.1 764.4,158.1 759.6,155.9 751.4,155.1 742.6,152.1 741.4,150.9 741.9,149.4 738.4,147.9 731.9,146.6 725.4,144.4 722.6,144.4 719.1,146.1 719.9,147.9 718.9,148.9 714.6,150.1 709.4,153.1 702.9,153.9ZM897.1,153.9 897.4,155.9 900.9,157.6 920.9,158.4 931.4,161.6 939.1,163.1 941.9,166.1 945.6,167.6 949.9,170.6 949.9,171.4 948.1,173.6 947.4,179.4 949.6,180.9 953.4,180.9 953.6,181.6 952.6,182.9 953.1,184.1 959.6,186.1 961.4,186.1 965.1,183.6 970.4,182.4 974.1,182.1 976.1,181.1 975.9,180.1 972.9,177.9 971.4,175.1 968.4,172.9 967.1,171.1 968.9,169.9 973.6,170.1 976.1,169.4 977.6,167.9 976.4,165.6 977.1,164.9 981.6,163.4 976.4,160.6 968.9,158.6 967.9,157.6 968.4,153.4 966.6,151.6 961.1,148.9 952.9,147.1 941.9,143.4 936.4,143.1 932.4,144.1 929.4,144.1 925.1,143.1 920.4,143.4 917.1,144.6 914.6,147.1 912.1,147.9 909.6,150.4 902.1,150.9 898.4,152.6ZM509.1,133.9 510.1,134.9 512.9,134.9 513.6,134.4 513.6,133.6 512.6,133.1 510.4,133.1ZM439.6,137.4 442.9,138.4 447.1,140.6 450.9,140.6 456.4,138.1 452.6,135.9 450.6,133.6 446.1,132.6 443.1,133.6 442.1,135.6ZM510.1,128.4 508.6,127.1 505.6,126.6 501.6,128.1 501.1,129.1 503.4,130.4 507.9,130.9 509.4,130.1ZM1122.9,127.6 1123.1,128.4 1125.9,129.4 1128.6,129.4 1130.9,128.1 1130.9,127.1 1128.9,126.1 1125.6,126.1ZM459.9,126.1 461.6,130.9 462.6,132.1 468.6,131.9 472.1,130.4 477.9,129.1 476.1,127.9 467.9,127.1 464.4,125.9ZM1155.9,119.6 1156.1,120.6 1159.6,124.4 1162.1,124.6 1164.4,124.1 1165.9,123.1 1165.4,121.1 1163.4,119.6 1158.6,118.9ZM427.9,119.6 429.1,120.9 433.6,122.4 440.4,122.6 444.9,122.1 448.4,122.9 452.9,125.1 456.6,125.6 458.4,125.1 455.6,120.6 451.9,119.1 440.6,116.1 432.9,116.6 429.1,118.4ZM566.6,122.9 567.1,123.9 571.6,125.6 573.1,128.1 576.9,128.9 587.1,132.4 588.9,133.9 589.1,135.1 594.6,140.1 600.4,140.4 601.4,140.9 606.4,146.6 606.9,152.1 605.6,155.6 606.4,156.9 609.1,158.9 613.1,160.4 616.4,160.9 618.6,160.4 622.6,157.9 629.1,155.6 629.1,154.4 624.1,149.9 623.1,147.4 623.9,143.1 626.1,140.1 626.4,138.4 621.9,136.4 619.6,134.1 620.4,133.1 623.4,131.9 626.4,129.1 626.1,128.1 623.9,127.1 622.9,125.9 623.9,122.4 625.6,120.4 623.4,118.4 623.1,116.9 621.9,115.6 618.6,114.4 608.9,114.1 604.1,116.1 591.4,116.6 586.9,114.9 585.6,115.4 583.9,117.4 579.1,117.4 574.6,119.4 571.6,121.4 567.9,121.9ZM310.9,127.9 306.4,125.6 304.4,123.6 296.1,122.6 293.1,119.9 289.9,118.6 288.4,117.1 286.6,116.4 283.4,115.9 279.6,114.4 270.4,114.6 266.4,112.9 262.1,112.6 259.4,113.4 258.4,115.1 256.9,115.6 250.4,116.1 242.4,115.6 241.1,117.4 240.1,117.6 234.4,117.1 228.9,117.4 223.6,119.4 222.6,120.9 221.4,121.6 222.9,121.6 223.4,122.1 222.1,123.6 215.4,125.4 210.1,125.6 207.9,126.4 207.1,127.4 207.6,129.6 206.1,132.4 211.1,135.1 211.4,135.6 209.4,136.6 208.9,137.9 210.6,138.9 212.9,139.1 216.1,138.1 214.4,136.9 214.9,136.4 217.1,135.9 223.1,133.1 225.6,132.9 227.6,133.6 230.6,133.6 235.1,132.4 239.6,130.4 242.9,130.4 245.6,132.4 251.6,131.4 254.6,133.4 257.4,134.4 263.4,132.6 273.9,132.9 279.9,131.4 282.4,131.4 286.4,133.6 289.9,133.6 291.1,133.1 292.6,131.1 299.1,130.4 305.4,130.9 309.6,129.4ZM914.6,109.9 906.1,109.6 903.1,110.9 901.9,114.1 902.1,118.6 904.4,122.6 907.1,124.1 908.6,124.1 911.1,121.9 915.6,119.9 915.6,118.9 913.4,116.9 913.4,115.6 916.6,113.4 917.4,112.1 916.1,110.6ZM1118.9,110.6 1119.6,111.4 1121.6,111.9 1124.9,111.9 1127.4,111.1 1132.9,111.4 1130.9,108.6 1126.1,106.9 1123.6,107.1 1121.6,109.1ZM1401.9,106.9 1401.9,97.9 1396.6,97.6 1375.6,98.6 1363.6,98.1 1354.1,98.6 1346.9,97.4 1339.4,98.4 1334.6,98.4 1326.1,100.6 1316.1,101.1 1312.6,100.1 1303.4,100.9 1298.1,99.9 1290.1,99.9 1287.9,101.1 1283.1,102.4 1285.6,103.6 1289.1,103.9 1295.6,105.4 1305.9,104.6 1312.4,106.4 1323.9,104.1 1335.9,107.1 1345.4,107.4 1348.6,108.6 1353.1,109.4 1355.9,109.4 1364.6,107.9 1370.9,107.9 1377.1,106.1 1389.6,107.1ZM95.1,96.9 95.1,103.4 111.4,103.6 114.1,103.1 115.9,102.1 114.1,101.4 110.6,101.1 104.9,98.6ZM1057.6,97.1 1055.1,93.4 1051.4,93.1 1048.9,93.9 1043.4,97.1 1039.6,97.1 1036.9,96.1 1035.1,96.1 1033.9,96.9 1031.4,100.6 1028.4,102.4 1036.6,104.4 1043.4,104.1 1047.4,104.6 1051.9,102.9 1056.6,102.1 1057.1,101.6ZM151.6,93.4 153.4,92.6 154.6,93.1 154.9,93.9 153.9,94.6 152.1,94.4ZM146.1,101.6 149.1,103.1 155.6,103.9 165.1,103.1 169.4,104.4 173.9,104.6 179.1,103.6 183.4,103.6 200.1,105.4 201.9,103.9 202.4,101.6 204.4,100.1 208.9,99.1 213.9,97.1 220.9,95.9 226.1,94.1 226.4,93.4 223.4,91.6 216.4,89.9 209.9,90.4 205.1,89.4 198.9,89.4 188.4,91.6 180.9,90.6 176.6,89.1 170.4,89.6 166.1,88.6 162.9,89.9 154.1,89.4 151.9,90.4 146.9,95.1 146.6,96.9 147.6,99.1ZM331.6,83.4 330.4,80.9 326.6,79.1 324.4,76.9 323.1,76.4 318.6,76.6 314.9,79.1 312.6,79.9 300.9,80.1 296.9,81.6 284.6,84.4 283.6,85.6 283.6,86.6 284.9,89.4 282.1,93.1 282.1,93.9 284.6,95.6 289.9,96.6 297.9,93.4 299.9,91.1 301.9,90.1 313.1,89.9 317.9,90.4 320.4,89.9 327.1,87.4 331.1,84.6ZM530.4,80.9 531.4,82.9 531.9,85.6 542.4,88.1 546.9,91.1 553.9,88.9 554.6,87.4 556.6,86.6 558.6,86.9 560.9,88.9 566.1,90.6 570.1,95.4 570.1,100.1 569.4,102.4 573.6,105.1 580.9,106.1 590.9,108.9 596.4,108.9 602.6,109.9 621.6,109.4 625.9,108.4 633.1,109.4 636.4,110.9 636.1,113.9 639.6,117.6 644.4,120.1 650.6,121.6 655.6,121.9 659.4,120.1 666.1,118.9 672.9,116.1 674.9,113.1 680.1,111.4 679.9,110.6 675.1,108.1 670.6,106.9 663.9,103.9 662.1,102.1 660.9,99.4 660.9,98.1 662.6,96.1 666.6,93.9 665.6,91.1 665.9,89.9 668.1,87.9 671.1,87.1 672.9,85.6 672.4,84.1 665.9,81.6 657.9,81.9 653.1,81.1 650.4,79.9 647.4,79.9 643.9,82.6 640.1,83.1 639.6,84.6 638.4,85.9 635.9,86.9 623.6,87.4 618.4,85.9 601.9,86.1 595.4,87.6 593.6,86.9 593.1,85.9 591.6,84.9 586.4,83.9 585.9,83.1 586.1,81.9 585.6,80.9 584.6,80.4 575.6,80.1 572.4,78.9 568.6,78.4 565.9,75.9 560.6,75.1 553.9,72.4 553.9,71.4 555.6,69.1 555.6,68.4 554.9,67.9 551.6,68.6 547.4,71.9 539.9,73.1 533.1,75.1 533.4,75.9 536.1,77.6 536.4,79.1 535.4,80.1 531.6,80.1ZM462.9,67.9 465.4,71.4 467.4,72.1 470.9,71.9 473.1,70.1 475.4,69.4 477.1,69.4 481.9,71.4 484.4,71.4 486.1,70.9 486.9,70.1 487.1,68.4 490.9,66.1 489.1,65.4 479.1,64.9 474.9,63.9 466.1,63.9 463.6,65.4 462.9,66.6ZM1391.6,65.6 1392.6,67.9 1394.6,69.4 1401.9,70.1 1401.9,63.6 1400.1,63.6 1398.1,61.9 1396.9,61.9ZM813.4,57.6 814.9,58.6 817.6,58.4 815.6,57.4ZM360.9,57.1 357.9,57.1 356.9,57.6 356.6,59.6 354.4,61.6 354.4,62.6 356.1,64.1 355.9,66.6 357.1,67.9 360.1,67.6 361.9,66.1 361.6,64.9 359.6,63.4 361.9,58.6 361.9,57.9ZM105.9,56.4 103.6,55.6 95.1,56.4 95.1,71.1 105.4,71.1 108.4,68.4 110.6,67.1 110.9,65.9 107.9,64.4 107.1,63.4 108.1,60.1 106.6,58.9ZM865.9,57.9 868.1,59.9 871.6,60.1 878.1,56.9 871.6,55.4 868.4,55.4 866.6,56.1 865.9,56.9ZM258.6,54.9 259.1,54.1 260.4,54.6 259.9,55.4ZM914.6,57.4 915.4,58.4 917.4,59.4 921.6,60.4 936.1,60.4 939.6,59.9 943.6,58.1 945.1,56.9 945.1,55.6 944.1,54.6 936.1,53.6 926.9,54.1 923.1,53.4 920.1,54.1 915.6,56.4ZM1388.6,47.4 1388.9,49.1 1391.1,50.6 1396.9,50.1 1401.9,50.4 1401.9,45.4 1398.9,45.1 1397.1,43.9 1397.1,43.1 1390.9,43.1 1390.6,44.6ZM1138.4,48.4 1140.1,49.9 1143.9,50.6 1148.6,49.1 1152.9,49.6 1160.4,49.4 1164.4,48.1 1164.6,46.9 1161.1,43.9 1161.1,43.1 1139.6,43.1 1139.6,45.9ZM877.6,43.1 877.6,44.4 879.6,48.4 879.4,51.1 880.9,53.9 881.9,54.6 892.1,53.1 901.4,47.9 900.6,46.1 900.6,43.1ZM494.9,47.6 494.9,48.6 496.4,49.9 501.6,51.1 504.6,50.9 510.6,48.1 509.9,45.6 509.9,43.1 497.4,43.1 497.4,44.1ZM201.9,43.1 202.1,44.4 206.1,48.9 207.4,51.4 207.6,53.9 210.4,56.1 210.4,57.4 211.1,58.6 214.1,59.6 223.4,59.9 227.6,61.6 233.4,62.6 241.1,65.4 244.1,67.6 246.6,68.6 253.6,69.4 266.4,67.9 274.4,67.9 276.6,67.4 280.1,65.9 281.9,64.1 284.9,62.6 285.4,61.6 284.6,59.9 285.1,59.4 289.6,57.6 295.9,56.6 296.9,55.4 296.6,53.1 297.4,52.6 302.4,53.1 308.6,50.4 315.9,50.4 321.6,48.9 326.1,48.6 327.9,47.6 326.4,45.1 325.9,43.1 299.1,43.1 299.1,45.4 298.1,48.1 293.9,51.4 290.9,51.6 286.9,50.1 283.6,50.1 282.4,51.1 283.1,51.9 285.6,52.6 286.1,53.1 285.6,53.6 276.1,54.9 271.9,53.1 261.6,52.9 259.9,51.6 255.9,51.4 251.4,49.9 238.1,50.9 233.4,49.4 228.9,49.1 226.4,48.4 224.4,46.9 224.1,43.1Z"/>
<path fill="#FF0000" fill-rule="evenodd" d="M971.6,212.6 971.6,213.4 999.4,213.4 999.4,212.4 996.9,209.6 988.6,207.6 979.1,207.1 977.1,207.9ZM601.9,208.6 602.9,210.6 603.1,213.4 607.6,213.4 607.6,212.6 609.9,211.1 616.6,210.1 615.6,208.1 612.9,207.1 605.4,207.1ZM419.6,210.1 420.9,212.4 420.9,213.4 458.9,213.4 459.4,211.6 459.1,210.4 455.6,207.6 451.1,206.1 445.6,205.1 439.4,205.1 434.1,205.9 422.9,208.4ZM806.6,200.4 806.9,202.4 807.9,204.4 807.9,208.4 813.4,209.6 814.4,211.4 814.4,213.4 821.4,213.4 821.1,210.4 824.4,207.9 823.4,205.9 816.9,203.9 815.1,202.4 814.6,201.1 813.4,200.4ZM723.9,197.4 722.6,196.6 717.6,196.9 714.1,198.6 713.1,200.1 715.1,201.1 721.9,200.4 723.6,199.1ZM720.4,204.4 721.9,205.4 725.1,205.4 727.9,204.1 727.9,201.9 728.4,201.4 729.9,201.4 734.4,202.9 738.4,203.1 741.1,204.6 744.1,204.6 745.9,203.9 749.9,199.4 740.6,195.6 734.9,194.1 731.9,194.1 729.4,195.9 728.9,198.9 727.1,200.6 723.9,200.9 721.4,201.9 720.4,203.1ZM902.6,213.4 901.4,208.6 901.6,205.6 900.9,204.4 897.6,201.9 895.9,199.1 892.4,197.1 884.9,196.1 878.6,193.9 869.9,194.1 864.6,195.6 850.6,205.6 840.6,207.6 838.4,208.9 838.6,209.6 843.1,211.4 844.4,213.4ZM1389.1,190.1 1389.6,190.9 1394.6,192.6 1401.9,192.6 1401.9,189.6 1389.6,189.6ZM148.6,199.6 147.4,198.1 147.9,195.1 146.6,192.6 143.4,189.9 140.6,188.9 136.1,188.9 125.6,190.9 120.4,189.6 111.1,190.4 107.4,189.1 103.9,189.1 101.4,190.1 95.1,189.9 95.1,193.4 97.9,193.1 100.6,192.1 111.4,192.6 120.4,195.4 132.9,195.4 134.6,196.9 135.9,198.9 140.1,200.6 145.6,200.9 147.9,200.4ZM783.9,190.4 783.9,191.4 785.1,192.6 791.9,195.1 798.1,195.9 800.9,195.4 803.6,192.4 803.1,190.6 798.1,188.6 795.1,188.1 785.1,187.9ZM775.4,182.6 775.9,183.6 777.4,184.1 779.9,183.6 779.6,182.4 778.1,181.4 776.6,181.4ZM1365.6,172.9 1364.1,171.9 1361.4,172.1 1358.1,173.1 1357.6,174.1 1359.1,175.4 1362.1,175.4 1364.6,174.1ZM761.4,172.1 761.4,173.4 762.4,174.1 764.4,173.9 766.4,172.9 766.1,171.9 764.1,170.4 762.4,170.9ZM459.6,172.9 459.6,173.9 462.6,176.4 463.4,179.1 464.6,180.4 467.9,181.6 470.6,181.6 472.6,180.4 472.9,177.9 471.9,175.9 472.1,172.9 469.4,170.6 465.9,170.4 462.1,171.4ZM457.1,166.1 457.6,166.9 458.9,166.6 458.4,165.9ZM766.4,163.9 765.6,163.4 763.4,163.4 761.4,165.1 757.6,167.1 759.6,168.1 763.6,168.9 765.1,167.9ZM328.9,165.1 328.9,166.4 330.1,169.1 327.9,171.1 327.9,172.6 329.4,175.1 332.1,177.1 332.9,180.6 333.9,181.9 336.6,182.6 345.6,182.1 347.6,181.4 351.9,177.6 352.6,173.6 354.4,170.4 352.4,168.1 352.4,165.9 351.1,164.9 345.4,162.6 337.1,162.4ZM917.6,154.4 919.1,155.4 923.1,156.1 938.4,156.9 940.4,157.4 943.4,159.4 946.4,160.1 948.9,160.1 952.9,157.6 957.6,157.4 960.6,155.9 959.6,152.1 958.1,151.1 948.9,151.4 947.4,150.9 940.9,150.9 935.4,149.9 932.4,148.1 930.1,147.6 927.9,147.9 921.1,150.1 919.1,151.9ZM612.9,143.9 610.9,145.1 610.9,146.6 612.6,148.6 614.4,149.4 614.9,150.4 610.9,154.6 613.4,156.1 616.9,156.4 618.6,155.1 617.9,151.4 615.9,149.9 617.1,147.1 617.4,144.1 616.6,143.4ZM1401.9,99.9 1393.1,99.9 1385.4,101.1 1375.4,101.6 1345.1,100.6 1339.4,101.6 1339.1,102.4 1342.1,103.9 1345.6,104.6 1355.6,104.1 1358.4,105.1 1361.4,105.4 1371.6,102.9 1386.9,103.6 1401.9,103.4ZM211.4,93.9 215.1,94.1 216.1,93.6 213.6,93.4ZM669.9,111.4 669.6,110.6 663.6,108.1 656.1,107.1 650.9,105.6 648.9,104.1 648.4,102.1 650.1,99.4 651.6,98.1 655.6,96.9 657.1,95.9 658.9,93.6 658.4,92.4 655.6,89.6 651.6,88.4 643.9,88.1 641.4,88.9 635.9,89.4 613.4,89.9 608.9,91.1 595.4,91.9 588.1,93.9 584.6,96.4 577.6,96.9 575.9,97.6 575.1,98.6 575.6,101.9 576.4,102.9 587.4,105.6 604.1,106.9 610.1,106.1 615.9,106.1 618.1,106.6 627.4,106.1 635.9,107.6 640.1,107.6 645.1,106.6 646.4,107.1 647.4,108.4 646.6,111.4 647.9,113.1 650.4,114.6 654.4,115.6 657.4,115.4 662.4,113.6 667.4,112.9ZM324.1,84.4 319.6,82.6 315.4,82.6 310.6,83.6 300.6,83.9 297.9,84.4 296.1,85.4 299.4,86.6 308.4,86.4 310.4,85.9 319.9,86.4 323.4,85.4ZM921.6,57.1 922.1,57.9 924.4,58.4 927.4,58.1 928.6,57.4 926.6,56.4 923.4,56.4ZM227.6,56.6 229.1,57.9 231.9,58.4 236.1,58.4 237.9,57.6 236.9,56.4 233.4,54.9 229.9,55.4ZM882.6,43.1 882.9,44.1 886.4,48.1 890.4,48.4 891.9,47.6 891.9,46.6 889.1,44.9 888.1,43.1ZM207.9,43.1 208.1,44.1 210.4,46.1 211.1,47.9 214.1,50.1 214.4,52.1 215.1,52.9 218.9,53.1 221.4,51.9 221.4,50.4 218.6,48.6 216.6,45.9 216.4,43.1Z"/>
<path fill="#990000" fill-rule="evenodd" d="M428.4,212.6 428.4,213.4 453.6,213.4 453.4,211.1 452.1,208.9 447.4,207.4 439.6,207.4 432.1,208.9 430.1,209.9ZM851.6,209.9 852.4,210.9 854.9,212.1 855.4,213.4 897.4,213.4 893.4,202.6 891.6,200.6 888.4,199.6 885.6,199.6 881.6,198.6 876.6,198.6 873.9,197.9 870.1,197.9 864.6,200.4 862.6,202.1 861.1,205.1 854.9,207.6ZM792.6,190.9 795.1,191.9 797.4,191.4 796.1,190.6ZM342.4,168.1 337.9,172.4 337.9,173.4 340.9,175.4 343.6,175.6 345.9,174.1 346.4,171.9 343.9,168.4ZM636.4,94.4 635.1,93.9 628.6,94.4 624.1,92.6 619.6,92.6 612.4,95.1 607.6,94.4 604.9,94.6 600.6,96.1 597.9,98.4 592.6,100.9 587.1,101.9 590.6,102.9 605.9,102.6 617.4,104.1 633.4,102.9 634.9,102.1 634.1,100.9 634.1,96.9Z"/>
<path fill="#3C0000" fill-rule="evenodd" d="M888.6,206.4 888.1,205.1 886.6,204.1 876.1,204.6 867.6,207.9 863.4,212.1 863.1,213.4 889.1,213.4Z"/>
<path d="M364.5,44.2 L367.4,50.9 L368.2,56.9 L374.9,62.8 L385.3,68.0 L398.7,73.2 L409.1,71.7 L419.5,77.7 L428.4,81.4 L432.9,82.9 L434.3,86.6 L438.8,91.1 L440.3,94.0 L443.3,94.8 L447.7,96.3 L452.2,98.5 L456.7,103.0 L458.1,101.5 L461.1,100.0 L464.1,98.5 L467.1,99.2 L470.0,104.5 L471.5,111.9 L470.0,116.3 L467.1,120.8 L464.1,125.3 L461.1,131.2 M394.9,44.2 L400.1,59.8 L409.1,63.6 L416.5,61.3 L421.0,56.9 L423.9,53.2 L428.4,51.7 L434.3,51.7 L432.9,58.4 L429.9,64.3 L428.4,71.7 L435.8,73.2 L443.3,73.2 L447.7,77.7 L448.5,86.6 L450.7,94.0 L456.7,97.0 L461.1,94.8 L465.6,94.0 L473.0,93.3 L479.0,89.6 L484.9,86.6 L489.4,85.1 L491.6,86.6 L489.4,89.6 L490.9,95.5 L493.8,92.6 L499.8,91.1 L508.7,91.8 L520.0,91.1 M443.3,47.9 L446.2,46.5 L452.2,45.7 L461.1,47.9 L470.0,52.4 L477.5,56.1 L480.4,56.9 L473.0,56.9 L467.1,53.9 L456.7,50.2 L449.2,49.4 L443.3,49.4 Z M486.4,58.4 L493.8,57.6 L499.8,59.8 L501.3,62.1 L493.8,62.8 L490.9,64.3 L487.9,61.3 Z M466.3,63.6 L470.0,63.1 L473.8,64.3 L470.0,65.3 L466.3,64.8 Z M481.2,62.5 L484.9,62.2 L486.4,63.3 L483.4,64.0 L480.7,63.6 Z M505.7,105.9 L508.7,101.5 L514.6,100.0 L520.0,100.0 M500.0,89.7 L504.5,91.2 L511.9,91.2 L519.3,90.7 L525.3,91.2 L524.5,94.9 L526.8,96.4 L531.2,98.6 L539.9,103.8 L544.6,107.5 L550.7,107.5 L559.5,110.5 L563.9,114.2 L566.9,118.7 L568.4,123.1 L565.4,127.6 L563.9,130.6 M505.9,106.8 L508.9,102.3 L514.9,100.8 L523.8,98.6 L529.7,97.8 M569.9,129.1 L574.3,130.6 L580.3,132.0 L586.2,135.0 L596.7,138.0 L604.1,138.7 L613.0,142.5 L620.4,145.4 L623.4,151.4 M500.0,139.5 L508.9,138.0 L514.9,139.5 L519.3,143.9 L525.3,141.0 L531.2,139.5 L538.7,138.0 L544.6,136.5 L550.6,135.8 L556.5,135.0 L562.5,132.0 L565.4,129.1 M508.9,129.1 L519.3,129.1 L523.8,132.0 L529.7,136.5 M462.3,124.0 L458.6,130.0 L456.4,135.9 L459.3,140.4 L455.6,143.3 L456.4,149.3 L460.8,153.8 L463.8,159.7 L466.8,165.7 L471.2,171.6 L472.7,176.1 L477.2,180.5 L484.6,185.0 L490.6,189.5 L494.3,193.9 L495.8,199.9 L495.1,207.3 L494.3,214.0 M620.1,146.3 L623.0,150.8 L623.8,158.2 L618.6,167.2 L612.6,171.6 L609.6,174.6 L609.6,183.5 L608.9,189.5 L605.2,198.4 L600.7,205.8 L594.8,210.3 L588.8,211.8 M692.0,44.2 L689.0,50.9 L691.2,56.9 L692.0,68.8 L689.8,73.2 L687.5,77.0 L691.2,80.7 L689.8,83.7 L694.2,86.6 L698.7,92.6 L703.2,97.1 L704.6,101.5 L710.6,106.0 L716.5,110.5 L722.5,113.4 L729.9,111.9 L737.4,111.2 L744.8,110.5 L752.3,108.2 L761.2,106.0 L767.1,107.5 L771.6,111.9 L777.6,112.7 L783.5,113.4 L786.5,116.4 L786.5,123.8 L785.0,131.3 M692.0,69.5 L697.2,69.5 L703.9,74.7 M717.3,89.6 L724.0,82.9 L734.4,77.7 L737.4,71.0 L743.3,68.8 L747.8,68.0 L750.8,70.3 L754.5,77.0 M767.1,95.6 L774.6,98.5 L774.6,109.0 M775.3,101.5 L784.3,101.5 M799.1,79.2 L801.4,79.2 L805.8,82.2 L802.9,84.4 Z M816.2,131.3 L817.7,120.9 L823.7,122.4 L832.6,120.9 L840.1,125.3 M785.3,124.0 L783.8,130.0 L786.8,135.9 L791.2,140.4 L795.7,146.3 L797.2,152.3 L799.4,158.2 L800.2,165.7 L797.2,173.1 L795.0,180.5 L794.2,189.5 L795.7,196.9 L800.2,204.4 L803.2,214.0 M809.1,138.9 L813.6,131.4 L816.5,127.0 L818.0,124.0 M867.1,130.0 L870.1,127.7 L874.6,127.7 L876.1,130.7 L873.1,135.9 L870.1,138.9 L866.4,137.4 Z M857.5,140.4 L859.0,146.3 L862.7,153.8 L864.2,159.0 L861.2,157.5 L858.2,150.8 L856.7,143.3 Z M874.6,161.9 L876.8,167.2 L879.0,179.1 L877.6,179.8 L875.3,173.1 L874.3,165.7 Z M875.3,188.0 L879.0,191.0 L880.5,193.9 M911.8,124.0 L905.8,128.5 L899.9,134.4 L895.4,140.4 L893.2,147.8 L893.9,153.8 L895.4,162.7 L898.4,165.7 L899.1,173.1 L898.4,180.5 L895.4,185.0 L889.5,189.5 L883.5,193.9 L879.0,198.4 L877.6,202.9 L879.0,208.8 L880.5,214.0 M929.7,171.2 L932.0,172.5 L933.8,176.1 L934.2,180.5 L933.3,184.1 L932.0,186.8 L931.1,191.3 L929.3,197.5 L927.5,202.9 L925.7,208.2 L924.8,214.0 L908.8,214.0 L908.8,207.3 L910.5,203.8 L911.9,199.3 L911.4,193.9 L911.4,189.5 L912.8,186.3 L915.0,185.4 L918.6,184.1 L921.3,182.3 L923.9,179.6 L925.7,177.0 L927.5,174.3 Z M880.8,44.2 L885.3,49.4 L887.5,56.9 L891.2,65.8 L895.7,73.2 L901.7,77.7 L907.6,82.2 L909.1,85.9 M892.0,44.2 L897.2,55.4 L903.2,64.3 L906.1,71.8 L907.6,77.7 L909.1,84.4 L919.5,81.4 L928.5,78.5 L937.4,74.7 L943.3,71.8 L949.3,68.8 L955.2,64.3 L961.2,58.4 L964.2,53.9 L967.1,48.0 L968.6,44.2 M906.1,87.4 L910.6,91.1 L913.6,92.6 L919.5,91.1 L927.0,89.6 L935.1,86.6 L937.4,88.1 L936.6,92.6 L934.4,98.5 L929.9,106.0 L924.0,113.4 L916.5,120.9 L909.1,127.6 L904.6,132.0 M1001.5,45.7 L1006.0,50.9 L1011.2,53.2 L1014.9,49.4 L1015.6,56.9 L1017.9,65.8 L1020.8,74.7 L1025.3,83.7 L1028.3,91.1 L1031.2,97.1 L1034.2,100.0 L1038.7,95.6 L1041.7,92.6 L1042.4,86.6 L1041.7,80.7 L1042.4,74.0 L1047.6,70.3 L1053.6,65.8 L1059.5,61.3 L1064.0,56.9 L1067.0,52.4 L1071.4,49.4 L1077.4,48.7 L1081.1,47.2 L1083.3,48.0 L1086.3,52.4 L1089.3,56.1 L1092.3,59.9 L1093.8,65.8 L1095.2,71.8 L1099.7,69.5 L1102.7,68.0 L1105.7,70.3 L1107.1,76.2 L1110.1,82.2 M1126.5,62.8 L1131.0,64.3 L1132.4,68.8 L1134.7,76.2 L1133.9,83.7 L1136.9,91.1 M1041.7,93.3 L1044.6,97.1 L1047.6,100.0 L1049.1,104.5 L1046.9,106.7 L1043.2,107.5 L1041.7,101.5 L1041.4,97.1 Z M182.8,56.1 L186.5,56.9 L188.0,59.1 L185.0,60.6 L183.5,59.1 Z M1397.6,191.7 L1399.8,191.0 L1401.3,192.5 L1399.1,193.6 Z M1110.1,82.2 M1108.2,80.5 L1110.0,86.2 L1109.6,93.3 L1108.9,100.4 L1114.4,105.7 L1116.2,109.9 L1118.7,116.2 L1124.2,121.4 L1127.8,123.9 M1130.4,123.5 L1127.8,116.2 L1126.8,110.9 L1123.5,106.7 L1118.7,104.2 L1116.2,102.1 L1115.1,96.8 L1112.6,91.5 L1114.7,84.4 L1116.9,80.8 L1118.7,83.7 L1124.2,85.5 L1126.0,89.7 L1131.5,91.9 L1133.3,96.8 L1132.6,98.3 L1135.1,96.1 L1139.1,92.6 L1142.4,91.5 L1147.9,88.0 L1149.0,82.6 L1147.5,73.6 L1144.2,70.0 L1138.8,66.3 L1135.9,60.8 L1138.8,55.2 L1143.5,51.5 L1149.7,51.5 L1152.6,56.0 L1153.3,52.6 L1157.0,51.1 L1164.3,48.9 L1166.8,48.5 L1173.4,46.2 L1178.8,43.2 M1146.8,60.1 L1149.7,57.1 L1154.1,56.7 L1155.2,58.6 L1153.3,61.9 L1149.7,63.7 L1146.4,62.6 Z M1098.0,108.8 L1102.4,114.4 L1107.8,119.7 L1111.5,124.9 L1116.2,131.2 L1118.7,135.4 L1123.5,140.6 L1127.8,145.2 L1131.5,148.7 L1136.2,148.7 L1136.9,139.6 L1133.3,137.1 L1130.8,131.9 L1127.8,130.1 L1124.2,126.7 L1120.6,122.5 L1116.9,119.7 L1113.3,116.2 L1109.6,114.4 L1106.0,110.2 L1100.5,109.2 Z M1134.0,152.2 L1136.9,149.4 L1144.2,150.4 L1153.3,152.2 L1160.6,152.6 L1167.9,155.4 L1167.5,158.5 L1160.6,157.8 L1151.5,156.8 L1144.2,155.7 L1138.8,154.3 L1134.8,152.6 Z M1147.9,123.2 L1150.1,121.4 L1155.2,122.5 L1162.4,117.2 L1167.9,112.3 L1171.5,109.2 L1176.3,103.9 L1179.5,107.4 L1182.5,110.9 L1185.0,110.6 L1180.6,114.4 L1179.9,121.4 L1183.9,124.9 L1179.2,128.4 L1178.1,131.9 L1175.2,135.4 L1174.4,140.6 L1168.3,141.7 L1162.4,139.6 L1157.7,138.9 L1152.2,138.5 L1151.5,133.6 L1147.9,130.1 L1147.9,126.7 Z M1189.7,125.6 L1197.0,124.9 L1204.3,123.2 L1206.5,123.9 L1203.6,126.7 L1195.2,126.7 L1191.6,129.1 L1195.2,131.2 L1199.9,131.5 L1198.1,133.6 L1193.7,135.0 L1197.0,138.9 L1199.6,144.1 L1195.2,144.8 L1192.7,140.6 L1190.8,137.1 L1189.4,138.9 L1189.7,147.6 L1186.1,147.6 L1185.7,140.6 L1183.6,137.8 L1185.4,131.9 L1187.2,128.4 Z M1169.7,157.1 L1173.4,157.5 L1175.9,159.3 L1171.5,159.3 Z M1177.0,157.5 L1184.3,157.8 L1183.6,159.3 L1177.7,159.3 Z M1187.2,158.2 L1193.4,157.5 L1198.8,157.5 L1197.0,158.9 L1189.7,159.3 Z M1184.3,161.7 L1190.8,163.1 L1188.6,164.2 L1184.6,162.8 Z M1200.7,164.2 L1206.1,161.0 L1214.1,157.8 L1211.6,159.6 L1204.3,163.5 Z M1215.6,121.8 L1217.0,124.9 L1219.2,127.4 L1217.0,130.5 L1216.0,126.7 Z M1217.0,138.9 L1227.2,139.2 L1226.2,141.7 L1218.9,140.6 Z M1209.8,139.2 L1214.1,139.9 L1211.6,141.7 L1209.8,141.0 Z M1228.0,131.9 L1233.4,129.8 L1238.9,131.2 L1239.6,137.1 L1242.5,139.9 L1248.0,136.4 L1253.5,134.0 L1263.3,137.1 L1269.8,139.6 L1277.1,141.7 L1282.6,146.6 L1288.0,149.4 L1289.1,151.9 L1291.7,158.2 L1297.2,164.2 L1291.7,164.2 L1286.2,161.7 L1282.6,156.4 L1277.1,154.7 L1273.5,158.2 L1271.7,160.7 L1264.4,160.3 L1260.7,157.1 L1255.3,157.8 L1252.7,154.7 L1253.5,149.4 L1251.6,145.9 L1244.4,144.1 L1238.9,142.0 L1234.5,142.4 L1231.6,138.2 L1229.8,134.7 Z M1291.7,147.6 L1297.2,145.9 L1302.6,143.4 L1305.2,143.1 L1302.6,146.9 L1297.2,150.1 L1291.7,149.4 Z M1300.1,137.1 L1306.3,140.6 L1308.1,144.5 M1313.9,145.9 L1318.3,152.2 L1316.1,151.1 Z M1331.7,161.0 L1336.5,162.8 L1334.3,163.1 Z M1335.7,157.8 L1339.0,162.4 L1337.6,161.7 Z M1357.2,181.4 L1360.1,186.8 L1359.0,184.3 Z M1348.1,200.5 L1359.0,208.7 L1357.2,208.3 Z M1164.3,207.2 L1166.8,206.4 L1175.2,202.3 L1183.6,200.8 L1191.6,197.9 L1195.9,192.3 L1200.7,188.7 L1204.3,185.0 L1206.9,179.6 L1212.7,177.1 L1217.8,181.0 L1222.5,181.0 L1225.1,174.2 L1228.0,171.3 L1233.4,168.5 L1237.1,169.9 L1242.5,171.3 L1249.1,171.3 L1246.2,176.0 L1244.4,181.4 L1251.6,186.1 L1258.2,190.5 L1263.7,190.1 L1266.2,181.4 L1266.6,172.4 L1269.8,166.0 L1272.8,169.9 L1273.5,177.8 L1277.1,178.5 L1280.4,181.4 L1280.0,186.8 L1283.0,194.2 L1288.0,197.9 L1292.8,200.8 L1295.3,207.2 L1300.1,209.5 L1302.6,214.8 M1190.1,62.6 L1195.9,62.6 L1195.2,68.1 L1196.7,71.8 L1193.7,73.6 L1193.4,77.9 L1197.0,79.0 L1202.5,82.6 L1198.8,82.6 L1191.6,79.7 L1190.1,77.2 L1187.9,71.8 L1189.4,68.1 Z M1195.2,103.9 L1200.7,101.1 L1203.2,99.3 L1207.9,94.4 L1211.6,100.4 L1210.9,106.7 L1207.9,108.1 L1206.1,105.7 L1202.5,105.7 L1198.8,102.1 Z M1203.6,84.4 L1207.9,85.1 L1208.7,89.7 L1205.8,92.6 L1203.9,89.0 Z M1195.2,86.9 L1199.2,88.7 L1197.4,91.5 L1194.8,90.5 Z M1197.0,90.5 L1200.7,93.3 L1199.6,96.5 L1196.7,94.0 Z M1189.0,80.8 L1193.4,81.5 L1192.3,85.1 L1190.1,84.0 Z M1177.7,99.3 L1182.5,95.1 L1186.8,89.0 L1185.4,91.2 L1180.6,96.8 Z M1188.6,43.5 L1190.5,49.6 L1191.6,46.6 L1193.0,43.5" fill="none" stroke="#000" stroke-width="1.3" stroke-linejoin="round" stroke-linecap="round"/>
</svg>
<line x1="204.9" y1="43.5" x2="204.9" y2="213.0" stroke="#000" stroke-width="1.4" stroke-dasharray="1.4 1.8"/>
<line x1="314.1" y1="43.5" x2="314.1" y2="213.0" stroke="#000" stroke-width="1.4" stroke-dasharray="1.4 1.8"/>
<line x1="423.3" y1="43.5" x2="423.3" y2="213.0" stroke="#000" stroke-width="1.4" stroke-dasharray="1.4 1.8"/>
<line x1="532.5" y1="43.5" x2="532.5" y2="213.0" stroke="#000" stroke-width="1.4" stroke-dasharray="1.4 1.8"/>
<line x1="641.8" y1="43.5" x2="641.8" y2="213.0" stroke="#000" stroke-width="1.4" stroke-dasharray="1.4 1.8"/>
<line x1="751.0" y1="43.5" x2="751.0" y2="213.0" stroke="#000" stroke-width="1.4" stroke-dasharray="1.4 1.8"/>
<line x1="860.2" y1="43.5" x2="860.2" y2="213.0" stroke="#000" stroke-width="1.4" stroke-dasharray="1.4 1.8"/>
<line x1="969.5" y1="43.5" x2="969.5" y2="213.0" stroke="#000" stroke-width="1.4" stroke-dasharray="1.4 1.8"/>
<line x1="1078.7" y1="43.5" x2="1078.7" y2="213.0" stroke="#000" stroke-width="1.4" stroke-dasharray="1.4 1.8"/>
<line x1="1187.9" y1="43.5" x2="1187.9" y2="213.0" stroke="#000" stroke-width="1.4" stroke-dasharray="1.4 1.8"/>
<line x1="1297.2" y1="43.5" x2="1297.2" y2="213.0" stroke="#000" stroke-width="1.4" stroke-dasharray="1.4 1.8"/>
<line x1="95.5" y1="57.3" x2="1401.5" y2="57.3" stroke="#000" stroke-width="1.4" stroke-dasharray="1.4 1.8"/>
<line x1="95.5" y1="93.6" x2="1401.5" y2="93.6" stroke="#000" stroke-width="1.4" stroke-dasharray="1.4 1.8"/>
<line x1="95.5" y1="128.4" x2="1401.5" y2="128.4" stroke="#000" stroke-width="1.4" stroke-dasharray="1.4 1.8"/>
<line x1="95.5" y1="163.8" x2="1401.5" y2="163.8" stroke="#000" stroke-width="1.4" stroke-dasharray="1.4 1.8"/>
<line x1="95.5" y1="200.1" x2="1401.5" y2="200.1" stroke="#000" stroke-width="1.4" stroke-dasharray="1.4 1.8"/>
<rect x="95.5" y="43.5" width="1306.0" height="169.5" fill="none" stroke="#000" stroke-width="1.5"/>
<rect x="1414.7" y="43.80" width="10.5" height="24.50" fill="#FEFCBC"/>
<rect x="1414.7" y="68.00" width="10.5" height="24.50" fill="#FFFF1E"/>
<rect x="1414.7" y="92.20" width="10.5" height="24.50" fill="#FFB400"/>
<rect x="1414.7" y="116.40" width="10.5" height="24.50" fill="#FF6400"/>
<rect x="1414.7" y="140.60" width="10.5" height="24.50" fill="#FF0000"/>
<rect x="1414.7" y="164.80" width="10.5" height="24.50" fill="#990000"/>
<rect x="1414.7" y="189.00" width="10.5" height="24.50" fill="#3C0000"/>
<rect x="1414.7" y="43.8" width="10.5" height="169.39999999999998" fill="none" stroke="#222" stroke-width="1.3"/>
<line x1="1425.2" y1="43.8" x2="1430.3" y2="43.8" stroke="#222" stroke-width="1.3"/>
<line x1="1425.2" y1="128.5" x2="1430.3" y2="128.5" stroke="#222" stroke-width="1.3"/>
<line x1="1425.2" y1="213.2" x2="1430.3" y2="213.2" stroke="#222" stroke-width="1.3"/>
<text transform="translate(1435.41,51.50) scale(0.9417,1)" font-family="Liberation Sans" font-size="25.5">1.0</text>
<text transform="translate(1434.47,135.40) scale(0.9341,1)" font-family="Liberation Sans" font-size="25.5">0.6</text>
<text transform="translate(1434.24,221.80) scale(0.9611,1)" font-family="Liberation Sans" font-size="25.5">0.3</text>
<text transform="translate(1499.00,135.25) rotate(-90) scale(0.7115,1)" font-family="Liberation Sans" font-size="27">S</text>
<text transform="translate(29.36,59.00) scale(0.9571,1)" font-family="Liberation Sans" font-size="25.5">20°N</text>
<text transform="translate(30.94,97.50) scale(0.9283,1)" font-family="Liberation Sans" font-size="25.5">10°N</text>
<text transform="translate(61.22,134.00) scale(0.9817,1)" font-family="Liberation Sans" font-size="25.5">0°</text>
<text transform="translate(34.91,170.30) scale(0.8876,1)" font-family="Liberation Sans" font-size="25.5">10°S</text>
<text transform="translate(34.13,207.50) scale(0.9021,1)" font-family="Liberation Sans" font-size="25.5">20°S</text>
<text transform="translate(20.80,177.39) rotate(-90) scale(0.9957,1)" font-family="Liberation Sans" font-size="27">Latitude</text>
<text transform="translate(70.12,249.70) scale(0.9899,1)" font-family="Liberation Sans" font-size="25.5">180°</text>
<text transform="translate(167.20,249.70) scale(0.9492,1)" font-family="Liberation Sans" font-size="25.5">150°W</text>
<text transform="translate(275.47,249.70) scale(0.9626,1)" font-family="Liberation Sans" font-size="25.5">120°W</text>
<text transform="translate(391.67,249.70) scale(0.9430,1)" font-family="Liberation Sans" font-size="25.5">90°W</text>
<text transform="translate(499.84,249.70) scale(0.9723,1)" font-family="Liberation Sans" font-size="25.5">60°W</text>
<text transform="translate(611.04,249.70) scale(0.9627,1)" font-family="Liberation Sans" font-size="25.5">30°W</text>
<text transform="translate(740.07,249.70) scale(1.0320,1)" font-family="Liberation Sans" font-size="25.5">0°</text>
<text transform="translate(838.40,249.70) scale(0.9047,1)" font-family="Liberation Sans" font-size="25.5">30°E</text>
<text transform="translate(945.78,249.70) scale(0.9380,1)" font-family="Liberation Sans" font-size="25.5">60°E</text>
<text transform="translate(1055.60,249.70) scale(0.9137,1)" font-family="Liberation Sans" font-size="25.5">90°E</text>
<text transform="translate(1152.65,249.70) scale(0.9235,1)" font-family="Liberation Sans" font-size="25.5">120°E</text>
<text transform="translate(1262.65,249.70) scale(0.9235,1)" font-family="Liberation Sans" font-size="25.5">150°E</text>
<text transform="translate(688.80,282.70) scale(0.9983,1)" font-family="Liberation Sans" font-size="27">Longitude</text>
</g>
</svg></body></html>
